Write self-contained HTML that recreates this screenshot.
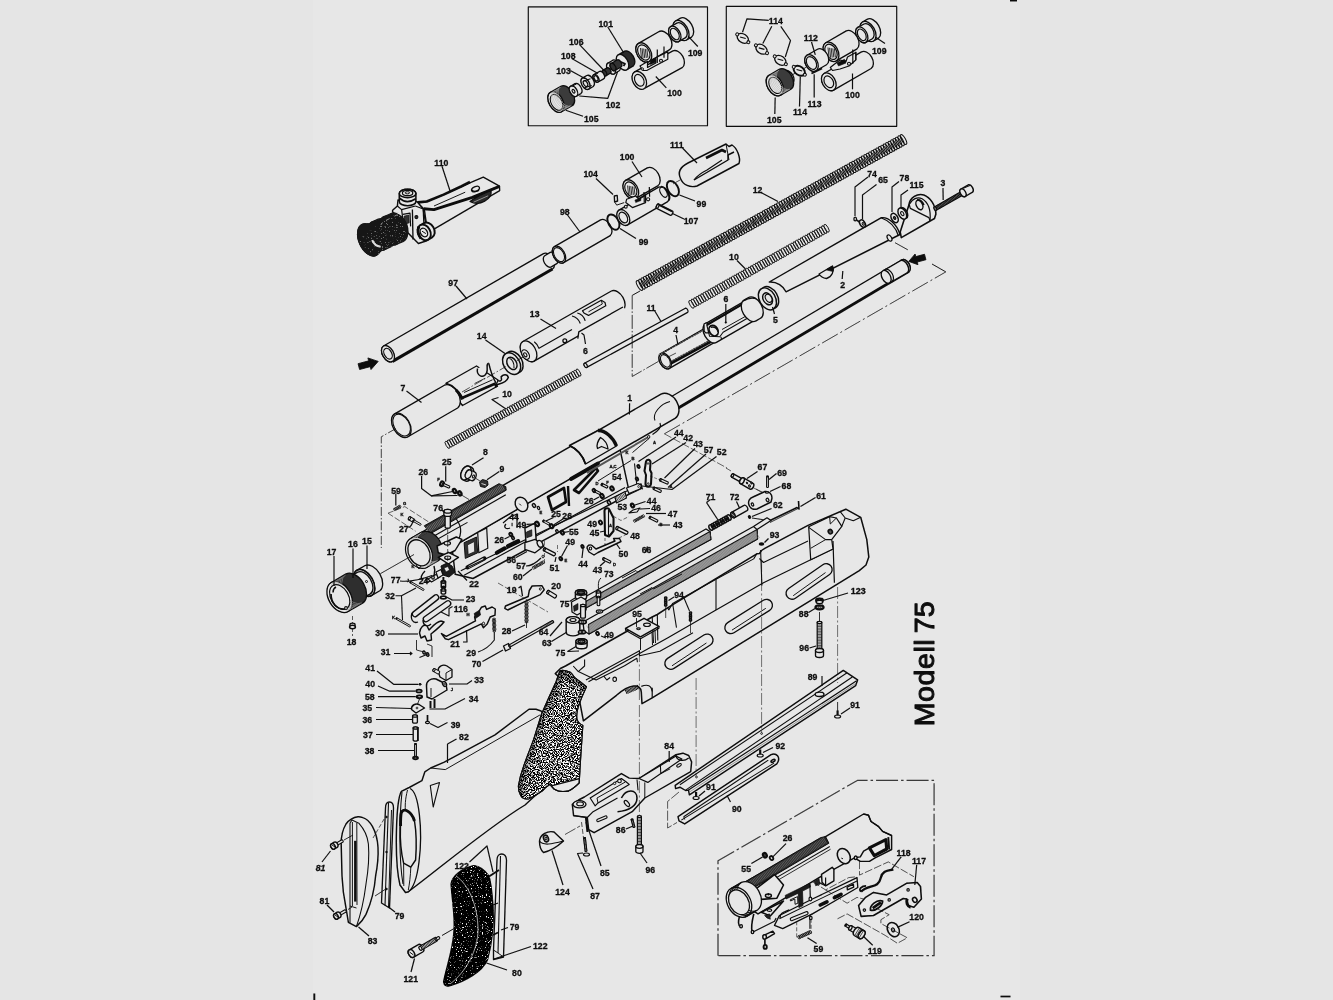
<!DOCTYPE html>
<html><head><meta charset="utf-8"><title>Modell 75</title>
<style>
html,body{margin:0;padding:0;background:#e5e5e5;}
body{width:1333px;height:1000px;overflow:hidden;position:relative;}
svg{position:absolute;left:0;top:0;display:block;}
text{font-family:"Liberation Sans",sans-serif;fill:#0c0c0c;stroke:#0c0c0c;stroke-width:0.3px;}
path,ellipse,circle,rect{stroke-linejoin:round;}
</style></head><body>
<svg width="1333" height="1000" viewBox="0 0 1333 1000">
<defs>
<filter id="stip" x="0" y="0" width="100%" height="100%" color-interpolation-filters="sRGB"><feTurbulence type="fractalNoise" baseFrequency="0.85" numOctaves="2" seed="7"/><feColorMatrix type="matrix" values="6 0 0 0 -2.58  6 0 0 0 -2.58  6 0 0 0 -2.58  0 0 0 0 1"/><feComposite in2="SourceGraphic" operator="in"/></filter>
<filter id="stipd" x="0" y="0" width="100%" height="100%" color-interpolation-filters="sRGB"><feTurbulence type="fractalNoise" baseFrequency="0.8" numOctaves="2" seed="3"/><feColorMatrix type="matrix" values="7 0 0 0 -4.35  7 0 0 0 -4.35  7 0 0 0 -4.35  0 0 0 0 1"/><feComposite in2="SourceGraphic" operator="in"/></filter>
<filter id="stipm" x="0" y="0" width="100%" height="100%" color-interpolation-filters="sRGB"><feTurbulence type="fractalNoise" baseFrequency="0.8" numOctaves="2" seed="11"/><feColorMatrix type="matrix" values="0 0 0 0 0.8  0 0 0 0 0.8  0 0 0 0 0.8  9 0 0 0 -5.6"/><feComposite in2="SourceGraphic" operator="in"/></filter>
<filter id="blur2" x="-50%" y="-50%" width="200%" height="200%"><feGaussianBlur stdDeviation="2"/></filter>
<filter id="soft"><feGaussianBlur stdDeviation="0.3"/></filter>
</defs>
<rect x="0" y="0" width="1333" height="1000" fill="#e5e5e5"/>
<rect x="313" y="0" width="707" height="1000" fill="#e7e7e7"/>
<g filter="url(#soft)">
<rect x="528.3" y="6.8" width="179.2" height="118.9" fill="none" stroke="#0c0c0c" stroke-width="1.15"/>
<rect x="726.3" y="6.3" width="170.4" height="120" fill="none" stroke="#0c0c0c" stroke-width="1.15"/>
<path d="M675.5 21L680.5 18.1A6.8 11 -30.1 0 1 691.5 37.1L686.5 40A6.8 11 -30.1 0 1 675.5 21Z" fill="#e7e7e7" stroke="#0c0c0c" stroke-width="1.32"/>
<ellipse cx="681" cy="30.5" rx="6.8" ry="11" transform="rotate(-30.1 681 30.5)" fill="#e7e7e7" stroke="#0c0c0c" stroke-width="1.32"/>
<path d="M670.6 26.6L676.8 23.1A5.3 8.5 -29.4 0 1 685.2 37.9L679 41.4A5.3 8.5 -29.4 0 1 670.6 26.6Z" fill="#e7e7e7" stroke="#0c0c0c" stroke-width="1.32"/>
<ellipse cx="674.8" cy="34" rx="5.3" ry="8.5" transform="rotate(-29.4 674.8 34)" fill="#e7e7e7" stroke="#0c0c0c" stroke-width="1.32"/>
<ellipse cx="674.8" cy="34" rx="3.8" ry="6.2" transform="rotate(-29.4 674.8 34)" fill="#e7e7e7" stroke="#0c0c0c" stroke-width="1.19"/>
<path d="M677 25.4L677 25.6M679.2 24.2L679.3 24.3M681.5 22.9L681.5 23.1" fill="none" stroke="#0c0c0c" stroke-width="0.96"/>
<path d="M638.5 43.4L658.7 31.7A6.9 10.5 -30.1 0 1 669.3 49.9L649.1 61.6A6.9 10.5 -30.1 0 1 638.5 43.4Z" fill="#e7e7e7" stroke="#0c0c0c" stroke-width="1.32"/>
<ellipse cx="643.8" cy="52.5" rx="6.9" ry="10.5" transform="rotate(-30.1 643.8 52.5)" fill="#e7e7e7" stroke="#0c0c0c" stroke-width="1.32"/>
<ellipse cx="643.8" cy="52.5" rx="5.4" ry="8.2" transform="rotate(-30.1 643.8 52.5)" fill="#e7e7e7" stroke="#0c0c0c" stroke-width="1.19"/>
<path d="M640.5 48 L641.5 58.5" fill="none" stroke="#0c0c0c" stroke-width="0.84"/>
<path d="M642.1 48.3 L643.1 58.3" fill="none" stroke="#0c0c0c" stroke-width="0.84"/>
<path d="M643.7 48.6 L644.7 58.1" fill="none" stroke="#0c0c0c" stroke-width="0.84"/>
<path d="M645.3 48.9 L646.3 57.9" fill="none" stroke="#0c0c0c" stroke-width="0.84"/>
<path d="M646.9 49.2 L647.9 57.7" fill="none" stroke="#0c0c0c" stroke-width="0.84"/>
<path d="M634.7 71.9L672.9 50.9A6.5 9.6 -28.8 0 1 682.1 67.7L643.9 88.7A6.5 9.6 -28.8 0 1 634.7 71.9Z" fill="#e7e7e7" stroke="#0c0c0c" stroke-width="1.32"/>
<ellipse cx="639.3" cy="80.3" rx="6.5" ry="9.6" transform="rotate(-28.8 639.3 80.3)" fill="#e7e7e7" stroke="#0c0c0c" stroke-width="1.32"/>
<ellipse cx="639.3" cy="80.3" rx="4.3" ry="6.3" transform="rotate(-28.8 639.3 80.3)" fill="#e7e7e7" stroke="#0c0c0c" stroke-width="1.19"/>
<path d="M640 66 L647.5 61.5 L647.5 67.5 L655.8 63 L655.8 57.8 L667.8 51.8 L667.8 59.3 L655 66 L646.8 70.5 L643 70.5Z" fill="#e7e7e7" stroke="#0c0c0c" stroke-width="1.2"/>
<path d="M657.3 49.5 L657.3 63" fill="none" stroke="#0c0c0c" stroke-width="1.2"/>
<path d="M664 46.5 L664 57.8" fill="none" stroke="#0c0c0c" stroke-width="1.2"/>
<path d="M650.5 60 L655.8 57.8 L655.8 62.3 L650.5 64.5Z" fill="#0c0c0c" stroke="#0c0c0c" stroke-width="0.6"/>
<circle cx="661" cy="60.8" r="1.5" fill="#e7e7e7" stroke="#0c0c0c" stroke-width="1.08"/>
<circle cx="642.3" cy="69" r="1.2" fill="#e7e7e7" stroke="#0c0c0c" stroke-width="0.96"/>
<path d="M618.2 54.9L624.7 51.1A5.3 8.6 -30.3 0 1 633.3 65.9L626.8 69.7A5.3 8.6 -30.3 0 1 618.2 54.9Z" fill="#2a2a2a" stroke="#0c0c0c" stroke-width="1.32"/>
<ellipse cx="622.5" cy="62.3" rx="5.3" ry="8.6" transform="rotate(-30.3 622.5 62.3)" fill="#e7e7e7" stroke="#0c0c0c" stroke-width="1.32"/>
<path d="M619.8 61.5 L625 63.8 L623.5 66" fill="none" stroke="#0c0c0c" stroke-width="1.8"/>
<path d="M607.8 63.2L612.8 60.2A3.7 6.2 -31 0 1 619.2 70.8L614.2 73.8A3.7 6.2 -31 0 1 607.8 63.2Z" fill="#e7e7e7" stroke="#0c0c0c" stroke-width="1.32"/>
<ellipse cx="611" cy="68.5" rx="3.7" ry="6.2" transform="rotate(-31 611 68.5)" fill="#e7e7e7" stroke="#0c0c0c" stroke-width="1.32"/>
<path d="M611 63.5L617 60A2.4 4 -30.3 0 1 621 67L615 70.5A2.4 4 -30.3 0 1 611 63.5Z" fill="#333" stroke="#0c0c0c" stroke-width="1.32"/>
<ellipse cx="613" cy="67" rx="2.4" ry="4" transform="rotate(-30.3 613 67)" fill="#333" stroke="#0c0c0c" stroke-width="1.32"/>
<path d="M602.9 70.3L607.4 67.6A1.9 3.2 -31 0 1 610.6 73L606.1 75.7A1.9 3.2 -31 0 1 602.9 70.3Z" fill="#333" stroke="#0c0c0c" stroke-width="1.32"/>
<ellipse cx="604.5" cy="73" rx="1.9" ry="3.2" transform="rotate(-31 604.5 73)" fill="#333" stroke="#0c0c0c" stroke-width="1.32"/>
<path d="M593.9 74.6L599.4 71.5A2.5 4.2 -29.4 0 1 603.6 78.9L598.1 82A2.5 4.2 -29.4 0 1 593.9 74.6Z" fill="#e7e7e7" stroke="#0c0c0c" stroke-width="1.32"/>
<ellipse cx="596" cy="78.3" rx="2.5" ry="4.2" transform="rotate(-29.4 596 78.3)" fill="#e7e7e7" stroke="#0c0c0c" stroke-width="1.32"/>
<ellipse cx="596" cy="78.3" rx="1.7" ry="2.8" transform="rotate(-29.4 596 78.3)" fill="#e7e7e7" stroke="#0c0c0c" stroke-width="1.19"/>
<path d="M582.3 78.1L586.8 75.5A3.8 6.4 -30 0 1 593.2 86.5L588.7 89.1A3.8 6.4 -30 0 1 582.3 78.1Z" fill="#e7e7e7" stroke="#0c0c0c" stroke-width="1.32"/>
<ellipse cx="585.5" cy="83.6" rx="3.8" ry="6.4" transform="rotate(-30 585.5 83.6)" fill="#e7e7e7" stroke="#0c0c0c" stroke-width="1.32"/>
<ellipse cx="585.5" cy="83.6" rx="1.9" ry="3.2" transform="rotate(-30 585.5 83.6)" fill="#e7e7e7" stroke="#0c0c0c" stroke-width="1.19"/>
<path d="M583.8 81 L590.5 78.8" fill="none" stroke="#0c0c0c" stroke-width="1.08"/>
<path d="M584.5 87.8 L591.7 85.5" fill="none" stroke="#0c0c0c" stroke-width="1.08"/>
<path d="M563.3 90.4L566.8 88.4A3.9 6.5 -29.7 0 1 573.2 99.6L569.7 101.6A3.9 6.5 -29.7 0 1 563.3 90.4Z" fill="#e7e7e7" stroke="#0c0c0c" stroke-width="1.32"/>
<path d="M550.4 92.3L560.9 86.3A6.9 11.2 -29.7 0 1 572.1 105.7L561.6 111.7A6.9 11.2 -29.7 0 1 550.4 92.3Z" fill="#3a3a3a" stroke="#0c0c0c" stroke-width="1.32"/>
<ellipse cx="556" cy="102" rx="6.9" ry="11.2" transform="rotate(-29.7 556 102)" fill="#e7e7e7" stroke="#0c0c0c" stroke-width="1.32"/>
<ellipse cx="556.5" cy="102.3" rx="5.3" ry="8.6" transform="rotate(-30 556.5 102.3)" fill="#e7e7e7" stroke="#0c0c0c" stroke-width="1.08"/>
<path d="M553.8 90.8A6.7 10.8 -29.7 0 0 564.5 109.6M555.2 90A6.7 10.8 -29.7 0 0 565.9 108.8M556.5 89.3A6.7 10.8 -29.7 0 0 567.2 108M557.9 88.5A6.7 10.8 -29.7 0 0 568.6 107.2M559.3 87.7A6.7 10.8 -29.7 0 0 570 106.5M560.6 86.9A6.7 10.8 -29.7 0 0 571.3 105.7" fill="none" stroke="#bbb" stroke-width="0.6"/>
<path d="M570.6 86.2L575.1 83.6A3.5 5.8 -30 0 1 580.9 93.6L576.4 96.2A3.5 5.8 -30 0 1 570.6 86.2Z" fill="#e7e7e7" stroke="#0c0c0c" stroke-width="1.32"/>
<ellipse cx="573.5" cy="91.2" rx="3.5" ry="5.8" transform="rotate(-30 573.5 91.2)" fill="#e7e7e7" stroke="#0c0c0c" stroke-width="1.32"/>
<ellipse cx="573.5" cy="91.2" rx="1.2" ry="2" transform="rotate(-30 573.5 91.2)" fill="#e7e7e7" stroke="#0c0c0c" stroke-width="1.19"/>
<path d="M571.5 86.5 L576.5 84" fill="none" stroke="#0c0c0c" stroke-width="0.96"/>
<path d="M697.8 46.5 L688.8 36.8" fill="none" stroke="#0c0c0c" stroke-width="1.2"/>
<path d="M666.3 87.8 L655.8 76.5" fill="none" stroke="#0c0c0c" stroke-width="1.2"/>
<path d="M607.8 27 L623.5 52.5" fill="none" stroke="#0c0c0c" stroke-width="1.2"/>
<path d="M579.3 44.3 L604 70.5" fill="none" stroke="#0c0c0c" stroke-width="1.2"/>
<path d="M571.8 58.5 L598 73.5" fill="none" stroke="#0c0c0c" stroke-width="1.2"/>
<path d="M570.3 70.5 L585.3 78.8" fill="none" stroke="#0c0c0c" stroke-width="1.2"/>
<path d="M579.3 96 L607.8 98.3 L617.5 72" fill="none" stroke="#0c0c0c" stroke-width="1.2"/>
<path d="M583 116.3 L565.8 110.3" fill="none" stroke="#0c0c0c" stroke-width="1.2"/>
<text transform="translate(605.8 27.1) scale(0.93 1)" font-size="9.4" font-weight="bold" text-anchor="middle">101</text>
<text transform="translate(576.3 44.7) scale(0.93 1)" font-size="9.4" font-weight="bold" text-anchor="middle">106</text>
<text transform="translate(568.3 58.6) scale(0.93 1)" font-size="9.4" font-weight="bold" text-anchor="middle">108</text>
<text transform="translate(563.5 73.9) scale(0.93 1)" font-size="9.4" font-weight="bold" text-anchor="middle">103</text>
<text transform="translate(613 108.4) scale(0.93 1)" font-size="9.4" font-weight="bold" text-anchor="middle">102</text>
<text transform="translate(591.3 121.6) scale(0.93 1)" font-size="9.4" font-weight="bold" text-anchor="middle">105</text>
<text transform="translate(674.5 96.1) scale(0.93 1)" font-size="9.4" font-weight="bold" text-anchor="middle">100</text>
<text transform="translate(695.2 56.2) scale(0.93 1)" font-size="9.4" font-weight="bold" text-anchor="middle">109</text>
<path d="M862.5 22L867.5 19.1A6.8 11 -30.1 0 1 878.5 38.1L873.5 41A6.8 11 -30.1 0 1 862.5 22Z" fill="#e7e7e7" stroke="#0c0c0c" stroke-width="1.32"/>
<ellipse cx="868" cy="31.5" rx="6.8" ry="11" transform="rotate(-30.1 868 31.5)" fill="#e7e7e7" stroke="#0c0c0c" stroke-width="1.32"/>
<path d="M857.8 27.3L864 24A5.3 8.5 -28 0 1 872 39L865.8 42.3A5.3 8.5 -28 0 1 857.8 27.3Z" fill="#e7e7e7" stroke="#0c0c0c" stroke-width="1.32"/>
<ellipse cx="861.8" cy="34.8" rx="5.3" ry="8.5" transform="rotate(-28 861.8 34.8)" fill="#e7e7e7" stroke="#0c0c0c" stroke-width="1.32"/>
<ellipse cx="861.8" cy="34.8" rx="3.8" ry="6.2" transform="rotate(-28 861.8 34.8)" fill="#e7e7e7" stroke="#0c0c0c" stroke-width="1.19"/>
<path d="M825.8 42.7L846.3 30.9A6.9 10.5 -29.9 0 1 856.7 49.1L836.2 60.9A6.9 10.5 -29.9 0 1 825.8 42.7Z" fill="#e7e7e7" stroke="#0c0c0c" stroke-width="1.32"/>
<ellipse cx="831" cy="51.8" rx="6.9" ry="10.5" transform="rotate(-29.9 831 51.8)" fill="#e7e7e7" stroke="#0c0c0c" stroke-width="1.32"/>
<ellipse cx="831" cy="51.8" rx="5.4" ry="8.2" transform="rotate(-29.9 831 51.8)" fill="#e7e7e7" stroke="#0c0c0c" stroke-width="1.19"/>
<path d="M828 47.5 L829 58" fill="none" stroke="#0c0c0c" stroke-width="0.84"/>
<path d="M829.6 47.8 L830.6 57.8" fill="none" stroke="#0c0c0c" stroke-width="0.84"/>
<path d="M831.2 48.1 L832.2 57.6" fill="none" stroke="#0c0c0c" stroke-width="0.84"/>
<path d="M832.8 48.4 L833.8 57.4" fill="none" stroke="#0c0c0c" stroke-width="0.84"/>
<path d="M834.4 48.7 L835.4 57.2" fill="none" stroke="#0c0c0c" stroke-width="0.84"/>
<path d="M824 73.5L861.5 51.9A6.5 9.6 -29.9 0 1 871.1 68.5L833.6 90.1A6.5 9.6 -29.9 0 1 824 73.5Z" fill="#e7e7e7" stroke="#0c0c0c" stroke-width="1.32"/>
<ellipse cx="828.8" cy="81.8" rx="6.5" ry="9.6" transform="rotate(-29.9 828.8 81.8)" fill="#e7e7e7" stroke="#0c0c0c" stroke-width="1.32"/>
<ellipse cx="828.8" cy="81.8" rx="4.3" ry="6.3" transform="rotate(-29.9 828.8 81.8)" fill="#e7e7e7" stroke="#0c0c0c" stroke-width="1.19"/>
<path d="M834 64.5 L840 60 L846 61.5 L847.5 57 L855.8 52.5 L855.8 60 L849 66 L840 69 L832.5 70.5 L830.3 67.5Z" fill="#e7e7e7" stroke="#0c0c0c" stroke-width="1.2"/>
<path d="M852.8 49.5 L852.8 63.8" fill="none" stroke="#0c0c0c" stroke-width="1.2"/>
<path d="M855.8 51.8 L855.8 60" fill="none" stroke="#0c0c0c" stroke-width="1.2"/>
<path d="M837 63 L844.5 59.3 L846 63 L838.5 66Z" fill="#0c0c0c" stroke="#0c0c0c" stroke-width="0.6"/>
<circle cx="849" cy="63.8" r="1.5" fill="#e7e7e7" stroke="#0c0c0c" stroke-width="1.08"/>
<path d="M807 55.2L817.5 49.2A5.9 9 -29.7 0 1 826.5 64.8L816 70.8A5.9 9 -29.7 0 1 807 55.2Z" fill="#e7e7e7" stroke="#0c0c0c" stroke-width="1.32"/>
<ellipse cx="811.5" cy="63" rx="5.9" ry="9" transform="rotate(-29.7 811.5 63)" fill="#e7e7e7" stroke="#0c0c0c" stroke-width="1.32"/>
<ellipse cx="811.5" cy="63" rx="4.5" ry="6.8" transform="rotate(-29.7 811.5 63)" fill="#e7e7e7" stroke="#0c0c0c" stroke-width="1.19"/>
<path d="M811.5 73.5 L822 68.3" fill="none" stroke="#0c0c0c" stroke-width="1.92"/>
<g transform="translate(742.8 38.3) rotate(35)"><ellipse rx="6.2" ry="4.3" fill="#e7e7e7" stroke="#0c0c0c" stroke-width="1.3"/><circle cx="-6.8" cy="0" r="1.5" fill="#e7e7e7" stroke="#0c0c0c" stroke-width="1"/><circle cx="6.8" cy="0" r="1.5" fill="#e7e7e7" stroke="#0c0c0c" stroke-width="1"/><path d="M-3 0.5 L2.5 -1.5" stroke="#0c0c0c" stroke-width="1.2" fill="none"/></g>
<g transform="translate(761.5 49.2) rotate(35)"><ellipse rx="6.2" ry="4.3" fill="#e7e7e7" stroke="#0c0c0c" stroke-width="1.3"/><circle cx="-6.8" cy="0" r="1.5" fill="#e7e7e7" stroke="#0c0c0c" stroke-width="1"/><circle cx="6.8" cy="0" r="1.5" fill="#e7e7e7" stroke="#0c0c0c" stroke-width="1"/><path d="M-3 0.5 L2.5 -1.5" stroke="#0c0c0c" stroke-width="1.2" fill="none"/></g>
<g transform="translate(780.3 60.3) rotate(35)"><ellipse rx="6.2" ry="4.3" fill="#e7e7e7" stroke="#0c0c0c" stroke-width="1.3"/><circle cx="-6.8" cy="0" r="1.5" fill="#e7e7e7" stroke="#0c0c0c" stroke-width="1"/><circle cx="6.8" cy="0" r="1.5" fill="#e7e7e7" stroke="#0c0c0c" stroke-width="1"/><path d="M-3 0.5 L2.5 -1.5" stroke="#0c0c0c" stroke-width="1.2" fill="none"/></g>
<g transform="translate(799.3 70.8) rotate(35)"><ellipse rx="6.2" ry="4.3" fill="#e7e7e7" stroke="#0c0c0c" stroke-width="1.9"/><circle cx="-6.8" cy="0" r="1.5" fill="#e7e7e7" stroke="#0c0c0c" stroke-width="1"/><circle cx="6.8" cy="0" r="1.5" fill="#e7e7e7" stroke="#0c0c0c" stroke-width="1"/><path d="M-3 0.5 L2.5 -1.5" stroke="#0c0c0c" stroke-width="1.2" fill="none"/></g>
<path d="M781.5 73.2L785.5 70.9A4.2 7 -29.9 0 1 792.5 83.1L788.5 85.4A4.2 7 -29.9 0 1 781.5 73.2Z" fill="#e7e7e7" stroke="#0c0c0c" stroke-width="1.32"/>
<path d="M769 75.2L779.2 69.3A7.4 11.5 -30 0 1 790.8 89.3L780.6 95.2A7.4 11.5 -30 0 1 769 75.2Z" fill="#3a3a3a" stroke="#0c0c0c" stroke-width="1.32"/>
<ellipse cx="774.8" cy="85.2" rx="7.4" ry="11.5" transform="rotate(-30 774.8 85.2)" fill="#e7e7e7" stroke="#0c0c0c" stroke-width="1.32"/>
<ellipse cx="775.3" cy="85.4" rx="5.6" ry="8.8" transform="rotate(-30 775.3 85.4)" fill="#e7e7e7" stroke="#0c0c0c" stroke-width="1.08"/>
<path d="M772.3 73.8A7.1 11.1 -30 0 0 783.4 93M773.6 73.1A7.1 11.1 -30 0 0 784.7 92.3M775 72.3A7.1 11.1 -30 0 0 786.1 91.5M776.3 71.5A7.1 11.1 -30 0 0 787.4 90.7M777.6 70.8A7.1 11.1 -30 0 0 788.7 90M778.9 70A7.1 11.1 -30 0 0 790 89.2" fill="none" stroke="#bbb" stroke-width="0.6"/>
<path d="M791 75.5 L796 72.8" fill="none" stroke="#0c0c0c" stroke-width="0.84"/>
<path d="M803.5 68.8 L806.5 67" fill="none" stroke="#0c0c0c" stroke-width="0.84"/>
<path d="M768.8 20.3 L747 18.8 L742.5 32.3" fill="none" stroke="#0c0c0c" stroke-width="1.2"/>
<path d="M771.8 26.3 L762.8 43.5" fill="none" stroke="#0c0c0c" stroke-width="1.2"/>
<path d="M780.8 26.3 L790.5 40.5 L785.3 57" fill="none" stroke="#0c0c0c" stroke-width="1.2"/>
<path d="M811.5 42 L815.3 54.8" fill="none" stroke="#0c0c0c" stroke-width="1.2"/>
<path d="M885 43.5 L876 37.5" fill="none" stroke="#0c0c0c" stroke-width="1.2"/>
<path d="M852.5 89.3 L852.5 73.5" fill="none" stroke="#0c0c0c" stroke-width="1.2"/>
<path d="M814.2 97.5 L814.2 74.3" fill="none" stroke="#0c0c0c" stroke-width="1.2"/>
<path d="M799.5 106.5 L800.3 76.5" fill="none" stroke="#0c0c0c" stroke-width="1.2"/>
<path d="M774.8 114 L775.2 97.5" fill="none" stroke="#0c0c0c" stroke-width="1.2"/>
<text transform="translate(775.8 24.4) scale(0.93 1)" font-size="9.4" font-weight="bold" text-anchor="middle">114</text>
<text transform="translate(810.8 40.9) scale(0.93 1)" font-size="9.4" font-weight="bold" text-anchor="middle">112</text>
<text transform="translate(879.3 54.1) scale(0.93 1)" font-size="9.4" font-weight="bold" text-anchor="middle">109</text>
<text transform="translate(852.5 97.6) scale(0.93 1)" font-size="9.4" font-weight="bold" text-anchor="middle">100</text>
<text transform="translate(814.5 106.6) scale(0.93 1)" font-size="9.4" font-weight="bold" text-anchor="middle">113</text>
<text transform="translate(800 115.2) scale(0.93 1)" font-size="9.4" font-weight="bold" text-anchor="middle">114</text>
<text transform="translate(774.3 122.7) scale(0.93 1)" font-size="9.4" font-weight="bold" text-anchor="middle">105</text>
<path d="M541 711 L536 709.3 L529 709.2 L495 734.9 L444.3 762.2 L430.7 768 L424.8 771.9 L421.9 780.7 L409.2 787.5 L401.4 791.4 C396 800 394 860 400 885 L405.5 892.5 L408 892 C440 868 490 826 525 805 L552 780 L560 730 Z" fill="#e7e7e7" stroke="#0c0c0c" stroke-width="1.44"/>
<path d="M539.9 715 L445.3 769.6 L430.7 768" fill="none" stroke="#0c0c0c" stroke-width="0.96"/>
<path d="M410 788.5 C419 792 423 830 419 862 C417 878 414 888 408 892" fill="none" stroke="#0c0c0c" stroke-width="1.32"/>
<path d="M402 792 C399 820 399 860 403 884" fill="none" stroke="#0c0c0c" stroke-width="1.08"/>
<path d="M407.5 790 C405 800 405 806 405.5 812" fill="none" stroke="#0c0c0c" stroke-width="0.96"/>
<path d="M401.2 813 C402 810.5 404 809.5 406.5 810.5 C410 812 413 816 414.5 821 C416.5 833 416.5 848 415.6 860 L410.8 867.2 L403.6 863.2 C401 852 400 838 400.4 828 Z" fill="#e7e7e7" stroke="#0c0c0c" stroke-width="1.44"/>
<path d="M400.6 826 C400.5 820 400.8 815 401.2 813 C402 810.5 404 809.5 406.5 810.5 C410 812 413 816 414.5 821" fill="none" stroke="#0c0c0c" stroke-width="2.88"/>
<path d="M403.6 863.2 L403.8 886 M410.8 867.2 C410.5 876 409.5 884 408.3 890" fill="none" stroke="#0c0c0c" stroke-width="0.96"/>
<path d="M430.3 785.6 L439.5 782.6 L433.2 807Z" fill="#e7e7e7" stroke="#0c0c0c" stroke-width="1.08"/>
<path d="M845.8 509.2 L860.7 517.3 L866.8 539.6 L868.8 557.1 L866 565 L859.3 570.6 L652.2 697.9 L642 703.7 L641.3 692 C640.7 682.9 629.4 684.2 616.5 695.3 L583.4 720.8 L578.3 694.1 L555.3 673.6 L560.4 668.5 L565.5 666 L652.2 617 L657.3 614.5 L667.5 607.8 L756.8 553.8 L759.5 553.5 L761.5 550.5 L764.8 548.3 L808 525.4Z" fill="#e7e7e7" stroke="#0c0c0c" stroke-width="1.5"/>
<path d="M625.3 690L627.1 694M626.5 689.5L628.3 693.5M627.7 689L629.5 693M628.9 688.5L630.7 692.5M630.1 687.9L631.9 692M631.3 687.4L633.1 691.5M632.5 686.9L634.3 691M633.7 686.4L635.5 690.5M634.9 685.9L636.7 690M636.1 685.4L637.9 689.4M637.3 684.9L639.1 688.9" fill="none" stroke="#0c0c0c" stroke-width="0.96"/>
<path d="M641.3 692 L652.2 697.9" fill="none" stroke="#0c0c0c" stroke-width="0"/>
<path d="M652.2 687.7 L652.2 697.9" fill="none" stroke="#0c0c0c" stroke-width="1.2"/>
<path d="M641.3 686.4 Q651 682.6 652.2 691.5" fill="none" stroke="#0c0c0c" stroke-width="1.2"/>
<path d="M833 549 L810.7 559.8 L763.5 582.8 L716 609.9 L667.5 637.9 L588.5 681.8" fill="none" stroke="#0c0c0c" stroke-width="1.2"/>
<path d="M833 540.9 L833.7 562.5 L834.4 582.8" fill="none" stroke="#0c0c0c" stroke-width="1.2"/>
<path d="M808.7 526.7 L829.6 516.6 L836.4 518 L841.8 526.3 L831.7 539.6 L833 549 L810.7 559.8Z" fill="#e7e7e7" stroke="#0c0c0c" stroke-width="1.2"/>
<path d="M808.7 527.4 L825.6 539.6 L831.7 539.6" fill="none" stroke="#0c0c0c" stroke-width="1.08"/>
<path d="M825.6 539.6 L810.7 548.3" fill="none" stroke="#0c0c0c" stroke-width="0.96"/>
<path d="M829.6 516.6 L830.3 524 L836.4 518" fill="none" stroke="#0c0c0c" stroke-width="0.96"/>
<path d="M836.4 518 L845.8 509.2" fill="none" stroke="#0c0c0c" stroke-width="0"/>
<path d="M840.4 511.9 L845.2 518 L853.3 520.7 L860.7 517.3" fill="none" stroke="#0c0c0c" stroke-width="1.08"/>
<path d="M845.2 518 L841.8 526.3" fill="none" stroke="#0c0c0c" stroke-width="1.08"/>
<ellipse cx="830.3" cy="531.7" rx="2" ry="2.3" transform="rotate(-30 830.3 531.7)" fill="#555" stroke="#0c0c0c" stroke-width="1.56"/>
<path d="M808 540.9 L763.5 562.5 L759.4 558.5" fill="none" stroke="#0c0c0c" stroke-width="1.08"/>
<path d="M763.5 562.5 L763.5 582.8" fill="none" stroke="#0c0c0c" stroke-width="0"/>
<path d="M808.7 526.7 L808 540.9" fill="none" stroke="#0c0c0c" stroke-width="0"/>
<path d="M760.6 549.9 L761.9 585.6" fill="none" stroke="#0c0c0c" stroke-width="1.08"/>
<path d="M756.8 553.8 L753.7 558.9 L716 579.3 L716 609.9" fill="none" stroke="#0c0c0c" stroke-width="1.08"/>
<path d="M716 579.3 L672.6 603.5 L668.8 609.9 L667.5 607.8" fill="none" stroke="#0c0c0c" stroke-width="1.08"/>
<path d="M672.6 603.5 L676.5 627.7" fill="none" stroke="#0c0c0c" stroke-width="1.08"/>
<path d="M652.2 617 L653.5 643" fill="none" stroke="#0c0c0c" stroke-width="1.08"/>
<path d="M657.3 614.5 L657.8 640.5" fill="none" stroke="#0c0c0c" stroke-width="1.08"/>
<path d="M693 632.8 L659.9 651.2 L639.5 655.8 L639.5 650.7 L585.9 680" fill="none" stroke="#0c0c0c" stroke-width="1.08"/>
<path d="M573.2 666 L578.3 671.6 L596.1 680 L624.2 666" fill="none" stroke="#0c0c0c" stroke-width="1.08"/>
<path d="M578.3 671.6 L584.6 666 L584.6 659.6" fill="none" stroke="#0c0c0c" stroke-width="1.08"/>
<path d="M603.8 676.2 L606.8 680 L610.1 677.5" fill="none" stroke="#0c0c0c" stroke-width="1.08"/>
<ellipse cx="614.7" cy="679.3" rx="1.8" ry="2.2" transform="rotate(0 614.7 679.3)" fill="#e7e7e7" stroke="#0c0c0c" stroke-width="1.08"/>
<path d="M624.2 666 L636.9 658.3 L637.4 662.2" fill="none" stroke="#0c0c0c" stroke-width="1.08"/>
<path d="M792 593.3L826.2 569.6" fill="none" stroke="#0c0c0c" stroke-width="13.2" stroke-linecap="round"/>
<path d="M792 593.3L826.2 569.6" fill="none" stroke="#e7e7e7" stroke-width="10.56" stroke-linecap="round"/>
<path d="M793.5 595.5L825.2 572.8" fill="none" stroke="#0c0c0c" stroke-width="0.96" stroke-linecap="round"/>
<path d="M730.8 627.7L766.5 605.3" fill="none" stroke="#0c0c0c" stroke-width="13.2" stroke-linecap="round"/>
<path d="M730.8 627.7L766.5 605.3" fill="none" stroke="#e7e7e7" stroke-width="10.56" stroke-linecap="round"/>
<path d="M732.3 629.9L765.5 608.5" fill="none" stroke="#0c0c0c" stroke-width="0.96" stroke-linecap="round"/>
<path d="M670.8 663.4L707.1 640" fill="none" stroke="#0c0c0c" stroke-width="13.2" stroke-linecap="round"/>
<path d="M670.8 663.4L707.1 640" fill="none" stroke="#e7e7e7" stroke-width="10.56" stroke-linecap="round"/>
<path d="M672.3 665.6L706.1 643.2" fill="none" stroke="#0c0c0c" stroke-width="0.96" stroke-linecap="round"/>
<path d="M836.4 586.4 L865.2 562.7" fill="none" stroke="#0c0c0c" stroke-width="0"/>
<path d="M560 670.8 C563 669.5 567 671 570.4 672.4 C572.5 674 573.5 676.5 575.2 678 C579 681 583 684 586.4 686.8 C583.5 693 580.5 700 578.4 706 C577 711 576.2 715 576.8 718.8 C577.5 722 580 724 582.8 725.5 C581.5 745 580 765 579.2 782.8 C576 786 572.5 789 568.8 790.8 C563.5 792 558 791.5 554.4 789.2 C552.5 787.5 551 785.5 549.6 784.4 C547 786 544.5 788.5 542.4 790.8 C538 794 533 797 528.8 798.8 C525 799.5 522 798 520.8 795.6 C519 792.5 518.2 789.5 518.4 786 C519.5 779 521.5 772 524 765.2 C527 756.5 530.5 748 533.6 739.6 L541.6 714 L548 699.6 L556 682Z" fill="#777" stroke="#0c0c0c" stroke-width="1.2"/>
<clipPath id="gripclip"><path d="M560 670.8 C563 669.5 567 671 570.4 672.4 C572.5 674 573.5 676.5 575.2 678 C579 681 583 684 586.4 686.8 C583.5 693 580.5 700 578.4 706 C577 711 576.2 715 576.8 718.8 C577.5 722 580 724 582.8 725.5 C581.5 745 580 765 579.2 782.8 C576 786 572.5 789 568.8 790.8 C563.5 792 558 791.5 554.4 789.2 C552.5 787.5 551 785.5 549.6 784.4 C547 786 544.5 788.5 542.4 790.8 C538 794 533 797 528.8 798.8 C525 799.5 522 798 520.8 795.6 C519 792.5 518.2 789.5 518.4 786 C519.5 779 521.5 772 524 765.2 C527 756.5 530.5 748 533.6 739.6 L541.6 714 L548 699.6 L556 682Z"/></clipPath>
<g clip-path="url(#gripclip)"><rect x="515" y="665" width="75" height="138" fill="#000" filter="url(#stip)"/><path d="M560 670.8 L556 682 L548 699.6 L541.6 714 L533.6 739.6 L524 765.2 L518.4 786 L521 797" fill="none" stroke="#000" stroke-opacity="0.4" stroke-width="9" filter="url(#blur2)"/><path d="M561 672 L586 688" fill="none" stroke="#000" stroke-opacity="0.35" stroke-width="7" filter="url(#blur2)"/></g>
<path d="M551.3 785.8 L579.4 778.6 L579.2 782.8 C576 786 572.5 789 568.8 790.8 C563.5 792 558 791.5 554.4 789.2 C553 788 552 786.8 551.3 785.8Z" fill="#e7e7e7" stroke="#0c0c0c" stroke-width="1.2"/>
<path d="M560 670.8 C563 669.5 567 671 570.4 672.4 C572.5 674 573.5 676.5 575.2 678 C579 681 583 684 586.4 686.8 C583.5 693 580.5 700 578.4 706 C577 711 576.2 715 576.8 718.8 C577.5 722 580 724 582.8 725.5 C581.5 745 580 765 579.2 782.8 C576 786 572.5 789 568.8 790.8 C563.5 792 558 791.5 554.4 789.2 C552.5 787.5 551 785.5 549.6 784.4 C547 786 544.5 788.5 542.4 790.8 C538 794 533 797 528.8 798.8 C525 799.5 522 798 520.8 795.6 C519 792.5 518.2 789.5 518.4 786 C519.5 779 521.5 772 524 765.2 C527 756.5 530.5 748 533.6 739.6 L541.6 714 L548 699.6 L556 682Z" fill="none" stroke="#0c0c0c" stroke-width="1.2"/>
<path d="M447.5 744 L456.5 739" fill="none" stroke="#0c0c0c" stroke-width="1.2"/>
<path d="M447.5 744 L447.5 763" fill="none" stroke="#0c0c0c" stroke-width="1.2"/>
<text transform="translate(463.9 740.3) scale(0.93 1)" font-size="9.4" font-weight="bold" text-anchor="middle">82</text>
<path d="M499.5 186.2 L499.7 190.6 L434 229.1 L426.8 226.4 L424.4 209.6Z" fill="#e7e7e7" stroke="#0c0c0c" stroke-width="1.32"/>
<path d="M417.2 202.7 L426.8 201.5 L443.6 194.6 L460.4 186.8 L483.3 177.2 L499.5 186.2 L472.4 197.4 L434 209.6 L423.8 208.7Z" fill="#e7e7e7" stroke="#0c0c0c" stroke-width="1.32"/>
<path d="M423.8 208.7 L434 209.6 L472.4 197.4 L499.5 186.4" fill="none" stroke="#0c0c0c" stroke-width="2.88"/>
<path d="M417.8 202.4 L426.8 201.5 L443.6 194.6 L461.6 186.2 L470 182" fill="none" stroke="#0c0c0c" stroke-width="2.64"/>
<path d="M434 206 L465.2 192.2" fill="none" stroke="#0c0c0c" stroke-width="0.96"/>
<ellipse cx="475.5" cy="189" rx="2.3" ry="4.2" transform="rotate(65 475.5 189)" fill="#e7e7e7" stroke="#0c0c0c" stroke-width="1.32"/>
<path d="M471.8 189.8 Q474.2 192.8 479.1 190.4" fill="none" stroke="#0c0c0c" stroke-width="1.2"/>
<path d="M470 201.5 C476.1 197 484.5 192.8 491.1 190.6 C492.3 198.8 479.7 207.2 470 201.5Z" fill="#2a2a2a" stroke="#0c0c0c" stroke-width="1.2"/>
<path d="M473.6 202.2 L488.1 195.8" fill="none" stroke="#bbb" stroke-width="0.72"/>
<path d="M392.6 210.2 L397.4 206 L398 200 L417.2 201.8 L423.2 209 L425.6 222.8 L432.8 227.6 L432.8 234.8 L426.8 240.8 L418.4 243.5 L407.6 232.4 L406.4 224 L401.6 219.2 L392.6 212Z" fill="#e7e7e7" stroke="#0c0c0c" stroke-width="1.44"/>
<path d="M397.4 206 L401.6 209.6 L415.4 206" fill="none" stroke="#0c0c0c" stroke-width="1.2"/>
<path d="M401.6 209.6 L402.8 219.2" fill="none" stroke="#0c0c0c" stroke-width="1.2"/>
<path d="M412.4 209.6 L413 239.6" fill="none" stroke="#0c0c0c" stroke-width="1.32"/>
<path d="M415.4 206 L423.2 209" fill="none" stroke="#0c0c0c" stroke-width="1.08"/>
<path d="M402.8 214.4 L410 213.2 L410.6 226.4" fill="none" stroke="#0c0c0c" stroke-width="1.2"/>
<path d="M404 216.2 L408.8 215 L409.2 222.8 L404.6 224.3Z" fill="#333" stroke="#0c0c0c" stroke-width="0.72"/>
<circle cx="416.4" cy="217.1" r="1.5" fill="#333" stroke="#0c0c0c" stroke-width="1.08"/>
<path d="M423.2 209.6 L423.8 222.8" fill="none" stroke="#0c0c0c" stroke-width="1.2"/>
<path d="M415.9 193.4L415.9 201.5A4.2 8.3 90 0 1 399.3 201.5L399.3 193.4A4.2 8.3 90 0 1 415.9 193.4Z" fill="#e7e7e7" stroke="#0c0c0c" stroke-width="1.56"/>
<ellipse cx="407.6" cy="193.4" rx="4.2" ry="8.3" transform="rotate(90 407.6 193.4)" fill="#e7e7e7" stroke="#0c0c0c" stroke-width="1.56"/>
<ellipse cx="407.6" cy="193" rx="2.6" ry="5.2" transform="rotate(90 407.6 193)" fill="#e7e7e7" stroke="#0c0c0c" stroke-width="1.2"/>
<ellipse cx="407.4" cy="192.8" rx="1.1" ry="2.2" transform="rotate(90 407.4 192.8)" fill="#e7e7e7" stroke="#0c0c0c" stroke-width="0.96"/>
<path d="M399.5 198.2 Q406.4 204.8 415.8 198.8" fill="none" stroke="#0c0c0c" stroke-width="1.68"/>
<path d="M420.2 225.3L424 223.1A6.1 8.2 -29.4 0 1 432.1 237.4L428.2 239.6A6.1 8.2 -29.4 0 1 420.2 225.3Z" fill="#e7e7e7" stroke="#0c0c0c" stroke-width="1.92"/>
<ellipse cx="424.2" cy="232.4" rx="6.1" ry="8.2" transform="rotate(-29.4 424.2 232.4)" fill="#e7e7e7" stroke="#0c0c0c" stroke-width="1.92"/>
<ellipse cx="423.9" cy="232.5" rx="3.4" ry="4.6" transform="rotate(-30 423.9 232.5)" fill="#e7e7e7" stroke="#0c0c0c" stroke-width="1.32"/>
<path d="M422 231.2 L425.9 233.6" fill="none" stroke="#0c0c0c" stroke-width="0.96"/>
<path d="M419 226.4 Q416.6 232.4 420.8 238.4" fill="none" stroke="#0c0c0c" stroke-width="2.64"/>
<path d="M392.1 215.9L394.6 214.8A7.6 12.6 -24 0 1 404.8 237.8L402.4 238.9A7.6 12.6 -24 0 1 392.1 215.9Z" fill="#141414" stroke="#141414" stroke-width="1.32"/>
<ellipse cx="397.3" cy="227.4" rx="7.6" ry="12.6" transform="rotate(-24 397.3 227.4)" fill="#141414" stroke="#141414" stroke-width="1.32"/>
<path d="M383.8 216.8L391.1 213.5A9.1 15.2 -24 0 1 403.4 241.3L396.1 244.5A9.1 15.2 -24 0 1 383.8 216.8Z" fill="#141414" stroke="#141414" stroke-width="1.32"/>
<ellipse cx="389.9" cy="230.6" rx="9.1" ry="15.2" transform="rotate(-24 389.9 230.6)" fill="#141414" stroke="#141414" stroke-width="1.32"/>
<path d="M379.1 221L384.6 218.6A7.9 13.2 -24 0 1 395.3 242.7L389.8 245.1A7.9 13.2 -24 0 1 379.1 221Z" fill="#141414" stroke="#141414" stroke-width="1.32"/>
<ellipse cx="384.5" cy="233.1" rx="7.9" ry="13.2" transform="rotate(-24 384.5 233.1)" fill="#141414" stroke="#141414" stroke-width="1.32"/>
<path d="M372.2 221.9L378.3 219.2A9.1 15.2 -24 0 1 390.6 247L384.5 249.7A9.1 15.2 -24 0 1 372.2 221.9Z" fill="#141414" stroke="#141414" stroke-width="1.32"/>
<ellipse cx="378.4" cy="235.8" rx="9.1" ry="15.2" transform="rotate(-24 378.4 235.8)" fill="#141414" stroke="#141414" stroke-width="1.32"/>
<path d="M362.3 224.3L372.8 223.4A8.2 13.6 -24 0 1 383.9 248.2L376.1 255.4A10.2 17 -24 0 1 362.3 224.3Z" fill="#141414" stroke="#141414" stroke-width="1.32"/>
<ellipse cx="369.2" cy="239.9" rx="10.2" ry="17" transform="rotate(-24 369.2 239.9)" fill="#141414" stroke="#141414" stroke-width="1.32"/>
<path d="M372.2 240.2 Q374.6 246.2 380.6 246.8" fill="none" stroke="#ddd" stroke-width="2.16"/>
<path d="M386 220.4 L389.6 218.6" fill="none" stroke="#aaa" stroke-width="0.84"/>
<path d="M394.4 216.2 L397.4 214.7" fill="none" stroke="#aaa" stroke-width="0.84"/>
<path d="M380.6 224.6 L382.4 223.7" fill="none" stroke="#aaa" stroke-width="0.84"/>
<g opacity="0.5"><path d="M357.2 239.6 L398 210.8 L407.6 237.2 L374 257.6Z" fill="#000" filter="url(#stipm)"/></g>
<path d="M442 166.3 L450.3 191.8" fill="none" stroke="#0c0c0c" stroke-width="1.2"/>
<text transform="translate(441.3 165.9) scale(0.93 1)" font-size="9.4" font-weight="bold" text-anchor="middle">110</text>
<path d="M636.8 280.7A2 5.5 -28.9 1 1 642.2 290.3A2 5.5 -28.9 1 1 636.8 280.7M639.3 279.3A2 5.5 -28.9 1 1 644.6 289A2 5.5 -28.9 1 1 639.3 279.3M641.7 278A2 5.5 -28.9 1 1 647 287.6A2 5.5 -28.9 1 1 641.7 278M644.1 276.7A2 5.5 -28.9 1 1 649.4 286.3A2 5.5 -28.9 1 1 644.1 276.7M646.5 275.3A2 5.5 -28.9 1 1 651.8 285A2 5.5 -28.9 1 1 646.5 275.3M648.9 274A2 5.5 -28.9 1 1 654.3 283.6A2 5.5 -28.9 1 1 648.9 274M651.4 272.7A2 5.5 -28.9 1 1 656.7 282.3A2 5.5 -28.9 1 1 651.4 272.7M653.8 271.3A2 5.5 -28.9 1 1 659.1 280.9A2 5.5 -28.9 1 1 653.8 271.3M656.2 270A2 5.5 -28.9 1 1 661.5 279.6A2 5.5 -28.9 1 1 656.2 270M658.6 268.6A2 5.5 -28.9 1 1 664 278.3A2 5.5 -28.9 1 1 658.6 268.6M661.1 267.3A2 5.5 -28.9 1 1 666.4 276.9A2 5.5 -28.9 1 1 661.1 267.3M663.5 266A2 5.5 -28.9 1 1 668.8 275.6A2 5.5 -28.9 1 1 663.5 266M665.9 264.6A2 5.5 -28.9 1 1 671.2 274.2A2 5.5 -28.9 1 1 665.9 264.6M668.3 263.3A2 5.5 -28.9 1 1 673.6 272.9A2 5.5 -28.9 1 1 668.3 263.3M670.7 261.9A2 5.5 -28.9 1 1 676.1 271.6A2 5.5 -28.9 1 1 670.7 261.9M673.2 260.6A2 5.5 -28.9 1 1 678.5 270.2A2 5.5 -28.9 1 1 673.2 260.6M675.6 259.3A2 5.5 -28.9 1 1 680.9 268.9A2 5.5 -28.9 1 1 675.6 259.3M678 257.9A2 5.5 -28.9 1 1 683.3 267.5A2 5.5 -28.9 1 1 678 257.9M680.4 256.6A2 5.5 -28.9 1 1 685.8 266.2A2 5.5 -28.9 1 1 680.4 256.6M682.9 255.2A2 5.5 -28.9 1 1 688.2 264.9A2 5.5 -28.9 1 1 682.9 255.2M685.3 253.9A2 5.5 -28.9 1 1 690.6 263.5A2 5.5 -28.9 1 1 685.3 253.9M687.7 252.6A2 5.5 -28.9 1 1 693 262.2A2 5.5 -28.9 1 1 687.7 252.6M690.1 251.2A2 5.5 -28.9 1 1 695.4 260.8A2 5.5 -28.9 1 1 690.1 251.2M692.5 249.9A2 5.5 -28.9 1 1 697.9 259.5A2 5.5 -28.9 1 1 692.5 249.9M695 248.5A2 5.5 -28.9 1 1 700.3 258.2A2 5.5 -28.9 1 1 695 248.5M697.4 247.2A2 5.5 -28.9 1 1 702.7 256.8A2 5.5 -28.9 1 1 697.4 247.2M699.8 245.9A2 5.5 -28.9 1 1 705.1 255.5A2 5.5 -28.9 1 1 699.8 245.9M702.2 244.5A2 5.5 -28.9 1 1 707.6 254.1A2 5.5 -28.9 1 1 702.2 244.5M704.7 243.2A2 5.5 -28.9 1 1 710 252.8A2 5.5 -28.9 1 1 704.7 243.2M707.1 241.8A2 5.5 -28.9 1 1 712.4 251.5A2 5.5 -28.9 1 1 707.1 241.8M709.5 240.5A2 5.5 -28.9 1 1 714.8 250.1A2 5.5 -28.9 1 1 709.5 240.5M711.9 239.2A2 5.5 -28.9 1 1 717.2 248.8A2 5.5 -28.9 1 1 711.9 239.2M714.3 237.8A2 5.5 -28.9 1 1 719.7 247.5A2 5.5 -28.9 1 1 714.3 237.8M716.8 236.5A2 5.5 -28.9 1 1 722.1 246.1A2 5.5 -28.9 1 1 716.8 236.5M719.2 235.1A2 5.5 -28.9 1 1 724.5 244.8A2 5.5 -28.9 1 1 719.2 235.1M721.6 233.8A2 5.5 -28.9 1 1 726.9 243.4A2 5.5 -28.9 1 1 721.6 233.8M724 232.5A2 5.5 -28.9 1 1 729.4 242.1A2 5.5 -28.9 1 1 724 232.5M726.5 231.1A2 5.5 -28.9 1 1 731.8 240.8A2 5.5 -28.9 1 1 726.5 231.1M728.9 229.8A2 5.5 -28.9 1 1 734.2 239.4A2 5.5 -28.9 1 1 728.9 229.8M731.3 228.4A2 5.5 -28.9 1 1 736.6 238.1A2 5.5 -28.9 1 1 731.3 228.4M733.7 227.1A2 5.5 -28.9 1 1 739 236.7A2 5.5 -28.9 1 1 733.7 227.1M736.1 225.8A2 5.5 -28.9 1 1 741.5 235.4A2 5.5 -28.9 1 1 736.1 225.8M738.6 224.4A2 5.5 -28.9 1 1 743.9 234.1A2 5.5 -28.9 1 1 738.6 224.4M741 223.1A2 5.5 -28.9 1 1 746.3 232.7A2 5.5 -28.9 1 1 741 223.1M743.4 221.8A2 5.5 -28.9 1 1 748.7 231.4A2 5.5 -28.9 1 1 743.4 221.8M745.8 220.4A2 5.5 -28.9 1 1 751.2 230A2 5.5 -28.9 1 1 745.8 220.4M748.3 219.1A2 5.5 -28.9 1 1 753.6 228.7A2 5.5 -28.9 1 1 748.3 219.1M750.7 217.7A2 5.5 -28.9 1 1 756 227.4A2 5.5 -28.9 1 1 750.7 217.7M753.1 216.4A2 5.5 -28.9 1 1 758.4 226A2 5.5 -28.9 1 1 753.1 216.4M755.5 215.1A2 5.5 -28.9 1 1 760.8 224.7A2 5.5 -28.9 1 1 755.5 215.1M757.9 213.7A2 5.5 -28.9 1 1 763.3 223.3A2 5.5 -28.9 1 1 757.9 213.7M760.4 212.4A2 5.5 -28.9 1 1 765.7 222A2 5.5 -28.9 1 1 760.4 212.4M762.8 211A2 5.5 -28.9 1 1 768.1 220.7A2 5.5 -28.9 1 1 762.8 211M765.2 209.7A2 5.5 -28.9 1 1 770.5 219.3A2 5.5 -28.9 1 1 765.2 209.7M767.6 208.4A2 5.5 -28.9 1 1 773 218A2 5.5 -28.9 1 1 767.6 208.4M770 207A2 5.5 -28.9 1 1 775.4 216.6A2 5.5 -28.9 1 1 770 207M772.5 205.7A2 5.5 -28.9 1 1 777.8 215.3A2 5.5 -28.9 1 1 772.5 205.7M774.9 204.3A2 5.5 -28.9 1 1 780.2 214A2 5.5 -28.9 1 1 774.9 204.3M777.3 203A2 5.5 -28.9 1 1 782.6 212.6A2 5.5 -28.9 1 1 777.3 203M779.7 201.7A2 5.5 -28.9 1 1 785.1 211.3A2 5.5 -28.9 1 1 779.7 201.7M782.2 200.3A2 5.5 -28.9 1 1 787.5 209.9A2 5.5 -28.9 1 1 782.2 200.3M784.6 199A2 5.5 -28.9 1 1 789.9 208.6A2 5.5 -28.9 1 1 784.6 199M787 197.6A2 5.5 -28.9 1 1 792.3 207.3A2 5.5 -28.9 1 1 787 197.6M789.4 196.3A2 5.5 -28.9 1 1 794.7 205.9A2 5.5 -28.9 1 1 789.4 196.3M791.8 195A2 5.5 -28.9 1 1 797.2 204.6A2 5.5 -28.9 1 1 791.8 195M794.3 193.6A2 5.5 -28.9 1 1 799.6 203.2A2 5.5 -28.9 1 1 794.3 193.6M796.7 192.3A2 5.5 -28.9 1 1 802 201.9A2 5.5 -28.9 1 1 796.7 192.3M799.1 190.9A2 5.5 -28.9 1 1 804.4 200.6A2 5.5 -28.9 1 1 799.1 190.9M801.5 189.6A2 5.5 -28.9 1 1 806.9 199.2A2 5.5 -28.9 1 1 801.5 189.6M804 188.3A2 5.5 -28.9 1 1 809.3 197.9A2 5.5 -28.9 1 1 804 188.3M806.4 186.9A2 5.5 -28.9 1 1 811.7 196.6A2 5.5 -28.9 1 1 806.4 186.9M808.8 185.6A2 5.5 -28.9 1 1 814.1 195.2A2 5.5 -28.9 1 1 808.8 185.6M811.2 184.2A2 5.5 -28.9 1 1 816.5 193.9A2 5.5 -28.9 1 1 811.2 184.2M813.6 182.9A2 5.5 -28.9 1 1 819 192.5A2 5.5 -28.9 1 1 813.6 182.9M816.1 181.6A2 5.5 -28.9 1 1 821.4 191.2A2 5.5 -28.9 1 1 816.1 181.6M818.5 180.2A2 5.5 -28.9 1 1 823.8 189.9A2 5.5 -28.9 1 1 818.5 180.2M820.9 178.9A2 5.5 -28.9 1 1 826.2 188.5A2 5.5 -28.9 1 1 820.9 178.9M823.3 177.5A2 5.5 -28.9 1 1 828.7 187.2A2 5.5 -28.9 1 1 823.3 177.5M825.8 176.2A2 5.5 -28.9 1 1 831.1 185.8A2 5.5 -28.9 1 1 825.8 176.2M828.2 174.9A2 5.5 -28.9 1 1 833.5 184.5A2 5.5 -28.9 1 1 828.2 174.9M830.6 173.5A2 5.5 -28.9 1 1 835.9 183.2A2 5.5 -28.9 1 1 830.6 173.5M833 172.2A2 5.5 -28.9 1 1 838.3 181.8A2 5.5 -28.9 1 1 833 172.2M835.4 170.9A2 5.5 -28.9 1 1 840.8 180.5A2 5.5 -28.9 1 1 835.4 170.9M837.9 169.5A2 5.5 -28.9 1 1 843.2 179.1A2 5.5 -28.9 1 1 837.9 169.5M840.3 168.2A2 5.5 -28.9 1 1 845.6 177.8A2 5.5 -28.9 1 1 840.3 168.2M842.7 166.8A2 5.5 -28.9 1 1 848 176.5A2 5.5 -28.9 1 1 842.7 166.8M845.1 165.5A2 5.5 -28.9 1 1 850.5 175.1A2 5.5 -28.9 1 1 845.1 165.5M847.6 164.2A2 5.5 -28.9 1 1 852.9 173.8A2 5.5 -28.9 1 1 847.6 164.2M850 162.8A2 5.5 -28.9 1 1 855.3 172.4A2 5.5 -28.9 1 1 850 162.8M852.4 161.5A2 5.5 -28.9 1 1 857.7 171.1A2 5.5 -28.9 1 1 852.4 161.5M854.8 160.1A2 5.5 -28.9 1 1 860.1 169.8A2 5.5 -28.9 1 1 854.8 160.1M857.2 158.8A2 5.5 -28.9 1 1 862.6 168.4A2 5.5 -28.9 1 1 857.2 158.8M859.7 157.5A2 5.5 -28.9 1 1 865 167.1A2 5.5 -28.9 1 1 859.7 157.5M862.1 156.1A2 5.5 -28.9 1 1 867.4 165.7A2 5.5 -28.9 1 1 862.1 156.1M864.5 154.8A2 5.5 -28.9 1 1 869.8 164.4A2 5.5 -28.9 1 1 864.5 154.8M866.9 153.4A2 5.5 -28.9 1 1 872.3 163.1A2 5.5 -28.9 1 1 866.9 153.4M869.4 152.1A2 5.5 -28.9 1 1 874.7 161.7A2 5.5 -28.9 1 1 869.4 152.1M871.8 150.8A2 5.5 -28.9 1 1 877.1 160.4A2 5.5 -28.9 1 1 871.8 150.8M874.2 149.4A2 5.5 -28.9 1 1 879.5 159A2 5.5 -28.9 1 1 874.2 149.4M876.6 148.1A2 5.5 -28.9 1 1 881.9 157.7A2 5.5 -28.9 1 1 876.6 148.1M879 146.7A2 5.5 -28.9 1 1 884.4 156.4A2 5.5 -28.9 1 1 879 146.7M881.5 145.4A2 5.5 -28.9 1 1 886.8 155A2 5.5 -28.9 1 1 881.5 145.4M883.9 144.1A2 5.5 -28.9 1 1 889.2 153.7A2 5.5 -28.9 1 1 883.9 144.1M886.3 142.7A2 5.5 -28.9 1 1 891.6 152.3A2 5.5 -28.9 1 1 886.3 142.7M888.7 141.4A2 5.5 -28.9 1 1 894.1 151A2 5.5 -28.9 1 1 888.7 141.4M891.2 140A2 5.5 -28.9 1 1 896.5 149.7A2 5.5 -28.9 1 1 891.2 140M893.6 138.7A2 5.5 -28.9 1 1 898.9 148.3A2 5.5 -28.9 1 1 893.6 138.7M896 137.4A2 5.5 -28.9 1 1 901.3 147A2 5.5 -28.9 1 1 896 137.4M898.4 136A2 5.5 -28.9 1 1 903.7 145.7A2 5.5 -28.9 1 1 898.4 136M900.8 134.7A2 5.5 -28.9 1 1 906.2 144.3A2 5.5 -28.9 1 1 900.8 134.7" fill="none" stroke="#0c0c0c" stroke-width="1.02"/>
<path d="M760.5 192.2 L778 201.5" fill="none" stroke="#0c0c0c" stroke-width="1.2"/>
<text transform="translate(757.6 193.2) scale(0.93 1)" font-size="9.4" font-weight="bold" text-anchor="middle">12</text>
<path d="M689.3 300.5A1.6 4.4 -29.4 1 1 693.7 308.1A1.6 4.4 -29.4 1 1 689.3 300.5M691.7 299.1A1.6 4.4 -29.4 1 1 696 306.8A1.6 4.4 -29.4 1 1 691.7 299.1M694.1 297.8A1.6 4.4 -29.4 1 1 698.4 305.5A1.6 4.4 -29.4 1 1 694.1 297.8M696.4 296.5A1.6 4.4 -29.4 1 1 700.8 304.1A1.6 4.4 -29.4 1 1 696.4 296.5M698.8 295.1A1.6 4.4 -29.4 1 1 703.1 302.8A1.6 4.4 -29.4 1 1 698.8 295.1M701.2 293.8A1.6 4.4 -29.4 1 1 705.5 301.5A1.6 4.4 -29.4 1 1 701.2 293.8M703.6 292.5A1.6 4.4 -29.4 1 1 707.9 300.1A1.6 4.4 -29.4 1 1 703.6 292.5M705.9 291.1A1.6 4.4 -29.4 1 1 710.2 298.8A1.6 4.4 -29.4 1 1 705.9 291.1M708.3 289.8A1.6 4.4 -29.4 1 1 712.6 297.5A1.6 4.4 -29.4 1 1 708.3 289.8M710.7 288.5A1.6 4.4 -29.4 1 1 715 296.1A1.6 4.4 -29.4 1 1 710.7 288.5M713 287.1A1.6 4.4 -29.4 1 1 717.3 294.8A1.6 4.4 -29.4 1 1 713 287.1M715.4 285.8A1.6 4.4 -29.4 1 1 719.7 293.5A1.6 4.4 -29.4 1 1 715.4 285.8M717.8 284.5A1.6 4.4 -29.4 1 1 722.1 292.1A1.6 4.4 -29.4 1 1 717.8 284.5M720.1 283.1A1.6 4.4 -29.4 1 1 724.4 290.8A1.6 4.4 -29.4 1 1 720.1 283.1M722.5 281.8A1.6 4.4 -29.4 1 1 726.8 289.5A1.6 4.4 -29.4 1 1 722.5 281.8M724.9 280.5A1.6 4.4 -29.4 1 1 729.2 288.1A1.6 4.4 -29.4 1 1 724.9 280.5M727.2 279.1A1.6 4.4 -29.4 1 1 731.6 286.8A1.6 4.4 -29.4 1 1 727.2 279.1M729.6 277.8A1.6 4.4 -29.4 1 1 733.9 285.5A1.6 4.4 -29.4 1 1 729.6 277.8M732 276.5A1.6 4.4 -29.4 1 1 736.3 284.1A1.6 4.4 -29.4 1 1 732 276.5M734.3 275.1A1.6 4.4 -29.4 1 1 738.7 282.8A1.6 4.4 -29.4 1 1 734.3 275.1M736.7 273.8A1.6 4.4 -29.4 1 1 741 281.5A1.6 4.4 -29.4 1 1 736.7 273.8M739.1 272.5A1.6 4.4 -29.4 1 1 743.4 280.1A1.6 4.4 -29.4 1 1 739.1 272.5M741.4 271.1A1.6 4.4 -29.4 1 1 745.8 278.8A1.6 4.4 -29.4 1 1 741.4 271.1M743.8 269.8A1.6 4.4 -29.4 1 1 748.1 277.5A1.6 4.4 -29.4 1 1 743.8 269.8M746.2 268.5A1.6 4.4 -29.4 1 1 750.5 276.1A1.6 4.4 -29.4 1 1 746.2 268.5M748.6 267.1A1.6 4.4 -29.4 1 1 752.9 274.8A1.6 4.4 -29.4 1 1 748.6 267.1M750.9 265.8A1.6 4.4 -29.4 1 1 755.2 273.5A1.6 4.4 -29.4 1 1 750.9 265.8M753.3 264.5A1.6 4.4 -29.4 1 1 757.6 272.1A1.6 4.4 -29.4 1 1 753.3 264.5M755.7 263.1A1.6 4.4 -29.4 1 1 760 270.8A1.6 4.4 -29.4 1 1 755.7 263.1M758 261.8A1.6 4.4 -29.4 1 1 762.3 269.5A1.6 4.4 -29.4 1 1 758 261.8M760.4 260.5A1.6 4.4 -29.4 1 1 764.7 268.1A1.6 4.4 -29.4 1 1 760.4 260.5M762.8 259.1A1.6 4.4 -29.4 1 1 767.1 266.8A1.6 4.4 -29.4 1 1 762.8 259.1M765.1 257.8A1.6 4.4 -29.4 1 1 769.4 265.5A1.6 4.4 -29.4 1 1 765.1 257.8M767.5 256.5A1.6 4.4 -29.4 1 1 771.8 264.1A1.6 4.4 -29.4 1 1 767.5 256.5M769.9 255.1A1.6 4.4 -29.4 1 1 774.2 262.8A1.6 4.4 -29.4 1 1 769.9 255.1M772.2 253.8A1.6 4.4 -29.4 1 1 776.6 261.5A1.6 4.4 -29.4 1 1 772.2 253.8M774.6 252.5A1.6 4.4 -29.4 1 1 778.9 260.1A1.6 4.4 -29.4 1 1 774.6 252.5M777 251.1A1.6 4.4 -29.4 1 1 781.3 258.8A1.6 4.4 -29.4 1 1 777 251.1M779.3 249.8A1.6 4.4 -29.4 1 1 783.7 257.5A1.6 4.4 -29.4 1 1 779.3 249.8M781.7 248.5A1.6 4.4 -29.4 1 1 786 256.1A1.6 4.4 -29.4 1 1 781.7 248.5M784.1 247.1A1.6 4.4 -29.4 1 1 788.4 254.8A1.6 4.4 -29.4 1 1 784.1 247.1M786.4 245.8A1.6 4.4 -29.4 1 1 790.8 253.5A1.6 4.4 -29.4 1 1 786.4 245.8M788.8 244.5A1.6 4.4 -29.4 1 1 793.1 252.1A1.6 4.4 -29.4 1 1 788.8 244.5M791.2 243.1A1.6 4.4 -29.4 1 1 795.5 250.8A1.6 4.4 -29.4 1 1 791.2 243.1M793.6 241.8A1.6 4.4 -29.4 1 1 797.9 249.5A1.6 4.4 -29.4 1 1 793.6 241.8M795.9 240.5A1.6 4.4 -29.4 1 1 800.2 248.1A1.6 4.4 -29.4 1 1 795.9 240.5M798.3 239.1A1.6 4.4 -29.4 1 1 802.6 246.8A1.6 4.4 -29.4 1 1 798.3 239.1M800.7 237.8A1.6 4.4 -29.4 1 1 805 245.5A1.6 4.4 -29.4 1 1 800.7 237.8M803 236.5A1.6 4.4 -29.4 1 1 807.3 244.1A1.6 4.4 -29.4 1 1 803 236.5M805.4 235.1A1.6 4.4 -29.4 1 1 809.7 242.8A1.6 4.4 -29.4 1 1 805.4 235.1M807.8 233.8A1.6 4.4 -29.4 1 1 812.1 241.5A1.6 4.4 -29.4 1 1 807.8 233.8M810.1 232.5A1.6 4.4 -29.4 1 1 814.4 240.1A1.6 4.4 -29.4 1 1 810.1 232.5M812.5 231.1A1.6 4.4 -29.4 1 1 816.8 238.8A1.6 4.4 -29.4 1 1 812.5 231.1M814.9 229.8A1.6 4.4 -29.4 1 1 819.2 237.5A1.6 4.4 -29.4 1 1 814.9 229.8M817.2 228.5A1.6 4.4 -29.4 1 1 821.6 236.1A1.6 4.4 -29.4 1 1 817.2 228.5M819.6 227.1A1.6 4.4 -29.4 1 1 823.9 234.8A1.6 4.4 -29.4 1 1 819.6 227.1M822 225.8A1.6 4.4 -29.4 1 1 826.3 233.5A1.6 4.4 -29.4 1 1 822 225.8M824.3 224.5A1.6 4.4 -29.4 1 1 828.7 232.1A1.6 4.4 -29.4 1 1 824.3 224.5" fill="none" stroke="#0c0c0c" stroke-width="0.96"/>
<path d="M737 260.5 L745.5 269" fill="none" stroke="#0c0c0c" stroke-width="1.2"/>
<text transform="translate(733.9 260.2) scale(0.93 1)" font-size="9.4" font-weight="bold" text-anchor="middle">10</text>
<path d="M445.6 441.3A1.4 4 -28.9 1 1 449.4 448.3A1.4 4 -28.9 1 1 445.6 441.3M447.9 440A1.4 4 -28.9 1 1 451.7 447A1.4 4 -28.9 1 1 447.9 440M450.2 438.8A1.4 4 -28.9 1 1 454 445.8A1.4 4 -28.9 1 1 450.2 438.8M452.5 437.5A1.4 4 -28.9 1 1 456.3 444.5A1.4 4 -28.9 1 1 452.5 437.5M454.8 436.2A1.4 4 -28.9 1 1 458.6 443.2A1.4 4 -28.9 1 1 454.8 436.2M457.1 435A1.4 4 -28.9 1 1 460.9 442A1.4 4 -28.9 1 1 457.1 435M459.4 433.7A1.4 4 -28.9 1 1 463.2 440.7A1.4 4 -28.9 1 1 459.4 433.7M461.7 432.4A1.4 4 -28.9 1 1 465.5 439.4A1.4 4 -28.9 1 1 461.7 432.4M464 431.2A1.4 4 -28.9 1 1 467.8 438.2A1.4 4 -28.9 1 1 464 431.2M466.3 429.9A1.4 4 -28.9 1 1 470.1 436.9A1.4 4 -28.9 1 1 466.3 429.9M468.6 428.6A1.4 4 -28.9 1 1 472.4 435.6A1.4 4 -28.9 1 1 468.6 428.6M470.8 427.4A1.4 4 -28.9 1 1 474.7 434.4A1.4 4 -28.9 1 1 470.8 427.4M473.1 426.1A1.4 4 -28.9 1 1 477 433.1A1.4 4 -28.9 1 1 473.1 426.1M475.4 424.8A1.4 4 -28.9 1 1 479.3 431.8A1.4 4 -28.9 1 1 475.4 424.8M477.7 423.6A1.4 4 -28.9 1 1 481.6 430.6A1.4 4 -28.9 1 1 477.7 423.6M480 422.3A1.4 4 -28.9 1 1 483.9 429.3A1.4 4 -28.9 1 1 480 422.3M482.3 421A1.4 4 -28.9 1 1 486.2 428A1.4 4 -28.9 1 1 482.3 421M484.6 419.8A1.4 4 -28.9 1 1 488.5 426.8A1.4 4 -28.9 1 1 484.6 419.8M486.9 418.5A1.4 4 -28.9 1 1 490.8 425.5A1.4 4 -28.9 1 1 486.9 418.5M489.2 417.2A1.4 4 -28.9 1 1 493.1 424.2A1.4 4 -28.9 1 1 489.2 417.2M491.5 416A1.4 4 -28.9 1 1 495.4 423A1.4 4 -28.9 1 1 491.5 416M493.8 414.7A1.4 4 -28.9 1 1 497.7 421.7A1.4 4 -28.9 1 1 493.8 414.7M496.1 413.4A1.4 4 -28.9 1 1 500 420.4A1.4 4 -28.9 1 1 496.1 413.4M498.4 412.2A1.4 4 -28.9 1 1 502.3 419.2A1.4 4 -28.9 1 1 498.4 412.2M500.7 410.9A1.4 4 -28.9 1 1 504.6 417.9A1.4 4 -28.9 1 1 500.7 410.9M503 409.6A1.4 4 -28.9 1 1 506.9 416.6A1.4 4 -28.9 1 1 503 409.6M505.3 408.4A1.4 4 -28.9 1 1 509.2 415.4A1.4 4 -28.9 1 1 505.3 408.4M507.6 407.1A1.4 4 -28.9 1 1 511.5 414.1A1.4 4 -28.9 1 1 507.6 407.1M509.9 405.8A1.4 4 -28.9 1 1 513.8 412.8A1.4 4 -28.9 1 1 509.9 405.8M512.2 404.6A1.4 4 -28.9 1 1 516.1 411.6A1.4 4 -28.9 1 1 512.2 404.6M514.5 403.3A1.4 4 -28.9 1 1 518.4 410.3A1.4 4 -28.9 1 1 514.5 403.3M516.8 402A1.4 4 -28.9 1 1 520.7 409A1.4 4 -28.9 1 1 516.8 402M519.1 400.8A1.4 4 -28.9 1 1 523 407.8A1.4 4 -28.9 1 1 519.1 400.8M521.4 399.5A1.4 4 -28.9 1 1 525.3 406.5A1.4 4 -28.9 1 1 521.4 399.5M523.7 398.2A1.4 4 -28.9 1 1 527.6 405.2A1.4 4 -28.9 1 1 523.7 398.2M526 397A1.4 4 -28.9 1 1 529.9 404A1.4 4 -28.9 1 1 526 397M528.3 395.7A1.4 4 -28.9 1 1 532.2 402.7A1.4 4 -28.9 1 1 528.3 395.7M530.6 394.4A1.4 4 -28.9 1 1 534.5 401.4A1.4 4 -28.9 1 1 530.6 394.4M532.9 393.2A1.4 4 -28.9 1 1 536.8 400.2A1.4 4 -28.9 1 1 532.9 393.2M535.2 391.9A1.4 4 -28.9 1 1 539.1 398.9A1.4 4 -28.9 1 1 535.2 391.9M537.5 390.6A1.4 4 -28.9 1 1 541.4 397.6A1.4 4 -28.9 1 1 537.5 390.6M539.8 389.4A1.4 4 -28.9 1 1 543.7 396.4A1.4 4 -28.9 1 1 539.8 389.4M542.1 388.1A1.4 4 -28.9 1 1 546 395.1A1.4 4 -28.9 1 1 542.1 388.1M544.4 386.8A1.4 4 -28.9 1 1 548.3 393.8A1.4 4 -28.9 1 1 544.4 386.8M546.7 385.6A1.4 4 -28.9 1 1 550.6 392.6A1.4 4 -28.9 1 1 546.7 385.6M549 384.3A1.4 4 -28.9 1 1 552.9 391.3A1.4 4 -28.9 1 1 549 384.3M551.3 383A1.4 4 -28.9 1 1 555.2 390A1.4 4 -28.9 1 1 551.3 383M553.6 381.8A1.4 4 -28.9 1 1 557.4 388.8A1.4 4 -28.9 1 1 553.6 381.8M555.9 380.5A1.4 4 -28.9 1 1 559.7 387.5A1.4 4 -28.9 1 1 555.9 380.5M558.2 379.2A1.4 4 -28.9 1 1 562 386.2A1.4 4 -28.9 1 1 558.2 379.2M560.5 378A1.4 4 -28.9 1 1 564.3 385A1.4 4 -28.9 1 1 560.5 378M562.8 376.7A1.4 4 -28.9 1 1 566.6 383.7A1.4 4 -28.9 1 1 562.8 376.7M565.1 375.4A1.4 4 -28.9 1 1 568.9 382.4A1.4 4 -28.9 1 1 565.1 375.4M567.4 374.2A1.4 4 -28.9 1 1 571.2 381.2A1.4 4 -28.9 1 1 567.4 374.2M569.7 372.9A1.4 4 -28.9 1 1 573.5 379.9A1.4 4 -28.9 1 1 569.7 372.9M572 371.6A1.4 4 -28.9 1 1 575.8 378.6A1.4 4 -28.9 1 1 572 371.6M574.3 370.4A1.4 4 -28.9 1 1 578.1 377.4A1.4 4 -28.9 1 1 574.3 370.4M576.6 369.1A1.4 4 -28.9 1 1 580.4 376.1A1.4 4 -28.9 1 1 576.6 369.1" fill="none" stroke="#0c0c0c" stroke-width="0.96"/>
<path d="M498.5 397.5 L492 399.5 L506 409" fill="none" stroke="#0c0c0c" stroke-width="1.2"/>
<text transform="translate(507 396.5) scale(0.93 1)" font-size="9.4" font-weight="bold" text-anchor="middle">10</text>
<path d="M584.5 363.2L685.4 308.2A1.4 2.4 -28.6 0 1 687.6 312.4L586.7 367.4A1.4 2.4 -28.6 0 1 584.5 363.2Z" fill="#e7e7e7" stroke="#0c0c0c" stroke-width="1.2"/>
<ellipse cx="585.6" cy="365.3" rx="1.4" ry="2.4" transform="rotate(-28.6 585.6 365.3)" fill="#e7e7e7" stroke="#0c0c0c" stroke-width="1.2"/>
<path d="M654.5 310.5 L661 321.5" fill="none" stroke="#0c0c0c" stroke-width="1.2"/>
<text transform="translate(651.1 310.5) scale(0.93 1)" font-size="9.4" font-weight="bold" text-anchor="middle">11</text>
<path d="M383.5 346L543.5 253.6A5.5 8.9 -30 0 1 552.5 269L392.5 361.4A5.5 8.9 -30 0 1 383.5 346Z" fill="#e7e7e7" stroke="#0c0c0c" stroke-width="1.32"/>
<path d="M552.5 269 L392.5 361.4" fill="none" stroke="#0c0c0c" stroke-width="3.12"/>
<ellipse cx="388" cy="353.7" rx="5.5" ry="8.9" transform="rotate(-30 388 353.7)" fill="#e7e7e7" stroke="#0c0c0c" stroke-width="1.32"/>
<ellipse cx="388" cy="353.7" rx="3.6" ry="5.8" transform="rotate(-30 388 353.7)" fill="#e7e7e7" stroke="#0c0c0c" stroke-width="1.19"/>
<path d="M544.7 255.7L550.2 252.4A3.9 6.5 -31 0 1 556.8 263.6L551.3 266.9A3.9 6.5 -31 0 1 544.7 255.7Z" fill="#e7e7e7" stroke="#0c0c0c" stroke-width="1.32"/>
<path d="M554.4 246.6L600.6 219.9A5.7 9.2 -30 0 1 609.8 235.9L563.6 262.6A5.7 9.2 -30 0 1 554.4 246.6Z" fill="#e7e7e7" stroke="#0c0c0c" stroke-width="1.32"/>
<ellipse cx="559" cy="254.6" rx="5.7" ry="9.2" transform="rotate(-30 559 254.6)" fill="#e7e7e7" stroke="#0c0c0c" stroke-width="1.32"/>
<ellipse cx="559" cy="254.6" rx="4.7" ry="7.6" transform="rotate(-30 559 254.6)" fill="#e7e7e7" stroke="#0c0c0c" stroke-width="1.08"/>
<path d="M-10 -3 L1 -3 L1 -6 L10 0 L1 6 L1 3 L-10 3Z" transform="translate(368.5 364) rotate(-15)" fill="#111" stroke="#111" stroke-width="0.8"/>
<path d="M456 286 L467 299" fill="none" stroke="#0c0c0c" stroke-width="1.2"/>
<text transform="translate(453.2 285.7) scale(0.93 1)" font-size="9.4" font-weight="bold" text-anchor="middle">97</text>
<path d="M567.5 215 L580 232" fill="none" stroke="#0c0c0c" stroke-width="1.2"/>
<text transform="translate(564.8 214.8) scale(0.93 1)" font-size="9.4" font-weight="bold" text-anchor="middle">98</text>
<ellipse cx="613.4" cy="222.1" rx="5.1" ry="8.3" transform="rotate(-30 613.4 222.1)" fill="none" stroke="#0c0c0c" stroke-width="1.92"/>
<path d="M620 228.5 L636 238.5" fill="none" stroke="#0c0c0c" stroke-width="1.2"/>
<text transform="translate(643.6 244.8) scale(0.93 1)" font-size="9.4" font-weight="bold" text-anchor="middle">99</text>
<path d="M619 210.1L658.7 187.1A5.7 8.6 -30.1 0 1 667.3 201.9L627.6 224.9A5.7 8.6 -30.1 0 1 619 210.1Z" fill="#e7e7e7" stroke="#0c0c0c" stroke-width="1.32"/>
<ellipse cx="623.3" cy="217.5" rx="5.7" ry="8.6" transform="rotate(-30.1 623.3 217.5)" fill="#e7e7e7" stroke="#0c0c0c" stroke-width="1.32"/>
<ellipse cx="623.3" cy="217.5" rx="3.8" ry="5.8" transform="rotate(-30.1 623.3 217.5)" fill="#e7e7e7" stroke="#0c0c0c" stroke-width="1.19"/>
<path d="M661 186.5 A5 8.6 -30 0 1 669 200.5" fill="none" stroke="#0c0c0c" stroke-width="1.44"/>
<ellipse cx="663.5" cy="192.3" rx="3" ry="5.5" transform="rotate(-30 663.5 192.3)" fill="#e7e7e7" stroke="#0c0c0c" stroke-width="1.2"/>
<path d="M625.6 180.4L647.3 167.9A6.9 10.4 -29.9 0 1 657.7 185.9L636 198.4A6.9 10.4 -29.9 0 1 625.6 180.4Z" fill="#e7e7e7" stroke="#0c0c0c" stroke-width="1.32"/>
<ellipse cx="630.8" cy="189.4" rx="6.9" ry="10.4" transform="rotate(-29.9 630.8 189.4)" fill="#e7e7e7" stroke="#0c0c0c" stroke-width="1.32"/>
<ellipse cx="630.8" cy="189.4" rx="5.3" ry="8" transform="rotate(-29.9 630.8 189.4)" fill="#e7e7e7" stroke="#0c0c0c" stroke-width="1.19"/>
<path d="M627.6 185.5 L628.6 195.5" fill="none" stroke="#0c0c0c" stroke-width="0.84"/>
<path d="M629.2 185.8 L630.2 195.3" fill="none" stroke="#0c0c0c" stroke-width="0.84"/>
<path d="M630.8 186.1 L631.8 195.1" fill="none" stroke="#0c0c0c" stroke-width="0.84"/>
<path d="M632.4 186.4 L633.4 194.9" fill="none" stroke="#0c0c0c" stroke-width="0.84"/>
<path d="M634 186.7 L635 194.7" fill="none" stroke="#0c0c0c" stroke-width="0.84"/>
<path d="M625.8 202.6 L626.6 199.3 L635.7 196 L639 199.3 L645.6 195.2 L645.6 202.6 L639 205.1 L632.4 207.6Z" fill="#e7e7e7" stroke="#0c0c0c" stroke-width="1.2"/>
<path d="M634.9 200.1 L640.7 198 L641 200.6 L635.7 202.6Z" fill="#0c0c0c" stroke="#0c0c0c" stroke-width="0.48"/>
<path d="M644 191.9 L644.3 202.6" fill="none" stroke="#0c0c0c" stroke-width="1.2"/>
<path d="M649.3 186.9 L649.6 196.8" fill="none" stroke="#0c0c0c" stroke-width="1.2"/>
<circle cx="625.8" cy="206.7" r="1.4" fill="#e7e7e7" stroke="#0c0c0c" stroke-width="1.08"/>
<circle cx="648.1" cy="199.3" r="1.6" fill="#e7e7e7" stroke="#0c0c0c" stroke-width="1.08"/>
<path d="M632 161.5 L642 177" fill="none" stroke="#0c0c0c" stroke-width="1.2"/>
<text transform="translate(627.1 160.3) scale(0.93 1)" font-size="9.4" font-weight="bold" text-anchor="middle">100</text>
<path d="M614.3 196 L617.2 195.4 L617.6 201 L614.6 202Z" fill="#e7e7e7" stroke="#0c0c0c" stroke-width="1.32"/>
<path d="M615.1 202.6 L616.7 205.1 L624.2 202.6" fill="none" stroke="#0c0c0c" stroke-width="0.96"/>
<path d="M596 178.5 L613 194.5" fill="none" stroke="#0c0c0c" stroke-width="1.2"/>
<text transform="translate(590.7 176.8) scale(0.93 1)" font-size="9.4" font-weight="bold" text-anchor="middle">104</text>
<ellipse cx="672.9" cy="188.6" rx="5.1" ry="8.3" transform="rotate(-30 672.9 188.6)" fill="none" stroke="#0c0c0c" stroke-width="1.92"/>
<path d="M679.5 195 L695 201" fill="none" stroke="#0c0c0c" stroke-width="1.2"/>
<text transform="translate(701.4 206.8) scale(0.93 1)" font-size="9.4" font-weight="bold" text-anchor="middle">99</text>
<path d="M658.6 204.1L672.5 211.1A1.1 2.3 26.7 0 1 670.5 215.3L656.6 208.3A1.1 2.3 26.7 0 1 658.6 204.1Z" fill="#e7e7e7" stroke="#0c0c0c" stroke-width="1.32"/>
<ellipse cx="657.6" cy="206.2" rx="1.1" ry="2.3" transform="rotate(26.7 657.6 206.2)" fill="#e7e7e7" stroke="#0c0c0c" stroke-width="1.32"/>
<path d="M659 205 L672 211.5" fill="none" stroke="#0c0c0c" stroke-width="1.68"/>
<path d="M672 213.3 L684 219" fill="none" stroke="#0c0c0c" stroke-width="1.2"/>
<text transform="translate(691 223.8) scale(0.93 1)" font-size="9.4" font-weight="bold" text-anchor="middle">107</text>
<path d="M680.5 178.5 C677.5 172 680 167 688 163 L726 144 L729 146.5 L732 145 C737 148 741 158 739 163.5 L697 186 C690 188 683 185 680.5 178.5Z" fill="#e7e7e7" stroke="#0c0c0c" stroke-width="1.44"/>
<path d="M694 180 L728 160 L728 155 L734 152" fill="none" stroke="#0c0c0c" stroke-width="1.44"/>
<path d="M694 180 C697 176 701 173 707 170 L722 160" fill="none" stroke="#0c0c0c" stroke-width="1.2"/>
<path d="M706 158 L722 150 L726 152" fill="none" stroke="#0c0c0c" stroke-width="2.64"/>
<path d="M726 144 L729 160" fill="none" stroke="#0c0c0c" stroke-width="1.08"/>
<path d="M682.5 148 L697 163" fill="none" stroke="#0c0c0c" stroke-width="1.2"/>
<text transform="translate(676.7 148.3) scale(0.93 1)" font-size="9.4" font-weight="bold" text-anchor="middle">111</text>
<path d="M680 180 L672 184.5" fill="none" stroke="#0c0c0c" stroke-width="0.84" stroke-dasharray="5 2 1 2" stroke-opacity="0.8"/>
<path d="M446 383.3 L476.5 366 L498 380 L496 387 L462.5 405.5 L455 396Z" fill="#e7e7e7" stroke="#0c0c0c" stroke-width="1.32"/>
<path d="M462.5 397.8 L495.5 383.5" fill="none" stroke="#0c0c0c" stroke-width="2.64"/>
<path d="M464 392.5 L492.5 379.8" fill="none" stroke="#0c0c0c" stroke-width="0.96"/>
<path d="M474.5 383.5 L485 378.3" fill="none" stroke="#0c0c0c" stroke-width="0.72"/>
<path d="M477.5 368.5 C476 376 483.5 379 486.5 373 C488.8 368.5 485 364 488.8 363.3" fill="#e7e7e7" stroke="#0c0c0c" stroke-width="1.44"/>
<path d="M488.8 363.3 C490.3 370 491.8 376 496.3 383.5" fill="none" stroke="#0c0c0c" stroke-width="1.44"/>
<path d="M496.3 385 C500 383.5 506 383.5 508.3 377.5 C507.5 373.8 503 373.8 500.8 377.5" fill="#e7e7e7" stroke="#0c0c0c" stroke-width="1.56"/>
<path d="M500.8 377.5 C503 379.8 500 382 497.8 380.5" fill="none" stroke="#0c0c0c" stroke-width="1.44"/>
<path d="M495.5 383.5 L496.7 387.3" fill="none" stroke="#0c0c0c" stroke-width="3.12"/>
<path d="M394.7 413.9L444.4 385.2A8.4 13.2 -30 0 1 457.6 408L407.9 436.7A8.4 13.2 -30 0 1 394.7 413.9Z" fill="#e7e7e7" stroke="#0c0c0c" stroke-width="1.32"/>
<ellipse cx="401.3" cy="425.3" rx="8.4" ry="13.2" transform="rotate(-30 401.3 425.3)" fill="#e7e7e7" stroke="#0c0c0c" stroke-width="1.32"/>
<ellipse cx="401.6" cy="425.1" rx="7.6" ry="11.8" transform="rotate(-30 401.6 425.1)" fill="#e7e7e7" stroke="#0c0c0c" stroke-width="1.08"/>
<path d="M446 383.3 C453 385 459.5 392 462.5 398" fill="none" stroke="#0c0c0c" stroke-width="1.44"/>
<path d="M456 390 C459 393 461 396 462.5 399.5" fill="none" stroke="#0c0c0c" stroke-width="2.88"/>
<path d="M406.5 391 L421.5 402.5" fill="none" stroke="#0c0c0c" stroke-width="1.2"/>
<text transform="translate(403 391.3) scale(0.93 1)" font-size="9.4" font-weight="bold" text-anchor="middle">7</text>
<path d="M396 428.5 L381.3 436.8 L381.3 548" fill="none" stroke="#0c0c0c" stroke-width="0.96" stroke-dasharray="9 2 1.5 2" stroke-opacity="0.8"/>
<ellipse cx="514" cy="362.2" rx="8.1" ry="11.6" transform="rotate(-30 514 362.2)" fill="#e7e7e7" stroke="#0c0c0c" stroke-width="1.44"/>
<ellipse cx="511.6" cy="363.6" rx="8.1" ry="11.6" transform="rotate(-30 511.6 363.6)" fill="#e7e7e7" stroke="#0c0c0c" stroke-width="1.44"/>
<ellipse cx="511.9" cy="363.4" rx="4.6" ry="6.6" transform="rotate(-30 511.9 363.4)" fill="#e7e7e7" stroke="#0c0c0c" stroke-width="1.44"/>
<path d="M509.5 358.5 C512 359 514.5 363 514 368" fill="none" stroke="#0c0c0c" stroke-width="1.08"/>
<path d="M485.5 340 L505 353.5" fill="none" stroke="#0c0c0c" stroke-width="1.2"/>
<text transform="translate(481.7 339) scale(0.93 1)" font-size="9.4" font-weight="bold" text-anchor="middle">14</text>
<path d="M462 392 L506 366.5" fill="none" stroke="#0c0c0c" stroke-width="0.84" stroke-dasharray="9 2 1.5 2" stroke-opacity="0.8"/>
<path d="M517 360.5 L524 356.5" fill="none" stroke="#0c0c0c" stroke-width="0.84"/>
<path d="M522.9 341.5L611.4 291A7.2 11.3 -29.7 0 1 622.6 310.6L534.1 361.1A7.2 11.3 -29.7 0 1 522.9 341.5Z" fill="#e7e7e7" stroke="#0c0c0c" stroke-width="1.32"/>
<ellipse cx="528.5" cy="351.3" rx="7.2" ry="11.3" transform="rotate(-29.7 528.5 351.3)" fill="#e7e7e7" stroke="#0c0c0c" stroke-width="1.32"/>
<path d="M578.3 336.5 L579 331.6 L623.5 306.8 L628 313 L580 341.5Z" fill="#e7e7e7" stroke="#e7e7e7" stroke-width="0"/>
<path d="M577.8 338.7 L578.8 331.8 L623 307" fill="none" stroke="#0c0c0c" stroke-width="1.32"/>
<path d="M581 330.5 L622 307.5" fill="none" stroke="#0c0c0c" stroke-width="0"/>
<path d="M534.2 341.8 C536.8 343.8 538.3 346 539 348.3 L572 329.5" fill="none" stroke="#0c0c0c" stroke-width="1.2"/>
<path d="M572 316 C575.8 316.8 578.8 319.3 580.3 323.5" fill="none" stroke="#0c0c0c" stroke-width="1.2"/>
<path d="M577.3 313 C581 313.8 584 316.8 585.2 320.8" fill="none" stroke="#0c0c0c" stroke-width="1.2"/>
<path d="M582.5 310.8 L601.3 300.3 L605 302.5 L605.8 305.8 L588.5 315.4 L584.3 313.3Z" fill="#e7e7e7" stroke="#0c0c0c" stroke-width="1.2"/>
<path d="M601.3 300.3 L602.3 304 L588.5 311.8" fill="none" stroke="#0c0c0c" stroke-width="0.96"/>
<circle cx="564.8" cy="340.8" r="1.9" fill="#e7e7e7" stroke="#0c0c0c" stroke-width="1.32"/>
<ellipse cx="525.6" cy="354.6" rx="3.3" ry="5.2" transform="rotate(-30 525.6 354.6)" fill="#e7e7e7" stroke="#0c0c0c" stroke-width="1.2"/>
<ellipse cx="525.3" cy="354.8" rx="1.4" ry="2.2" transform="rotate(-30 525.3 354.8)" fill="#e7e7e7" stroke="#0c0c0c" stroke-width="1.08"/>
<path d="M540.5 319 L556 328.5" fill="none" stroke="#0c0c0c" stroke-width="1.2"/>
<text transform="translate(534.7 316.6) scale(0.93 1)" font-size="9.4" font-weight="bold" text-anchor="middle">13</text>
<path d="M581.5 333 L584 335 L585.5 344" fill="none" stroke="#0c0c0c" stroke-width="1.2"/>
<text transform="translate(585.4 353.6) scale(0.93 1)" font-size="9.4" font-weight="bold" text-anchor="middle">6</text>
<path d="M661 353.6L711.8 324.3A5.3 8.5 -30 0 1 720.2 339.1L669.4 368.4A5.3 8.5 -30 0 1 661 353.6Z" fill="#e7e7e7" stroke="#0c0c0c" stroke-width="1.32"/>
<ellipse cx="665.2" cy="361" rx="5.3" ry="8.5" transform="rotate(-30 665.2 361)" fill="#e7e7e7" stroke="#0c0c0c" stroke-width="1.32"/>
<ellipse cx="665.4" cy="360.9" rx="4.2" ry="6.8" transform="rotate(-30 665.4 360.9)" fill="#e7e7e7" stroke="#0c0c0c" stroke-width="1.08"/>
<path d="M671.4 363 L717.5 337.9" fill="none" stroke="#0c0c0c" stroke-width="3.12"/>
<path d="M672.5 360.8L717.5 336.3" fill="none" stroke="#0c0c0c" stroke-width="1.7" stroke-dasharray="0.1 1.75" stroke-linecap="round"/>
<path d="M672.5 360.8L717.5 336.3" fill="none" stroke="#e7e7e7" stroke-width="0.595" stroke-dasharray="0.1 1.75" stroke-linecap="round"/>
<path d="M659.6 354.5L702.9 330.3" fill="none" stroke="#0c0c0c" stroke-width="1.7" stroke-dasharray="0.1 1.75" stroke-linecap="round"/>
<path d="M659.6 354.5L702.9 330.3" fill="none" stroke="#e7e7e7" stroke-width="0.595" stroke-dasharray="0.1 1.75" stroke-linecap="round"/>
<path d="M666.9 357.6 L675.9 353.1" fill="none" stroke="#0c0c0c" stroke-width="0.72"/>
<path d="M705.6 323.6L744.6 301.1A6.7 10.8 -30 0 1 755.4 319.9L716.4 342.4A6.7 10.8 -30 0 1 705.6 323.6Z" fill="#e7e7e7" stroke="#0c0c0c" stroke-width="1.32"/>
<path d="M704 324.1 L706.3 322.8 L708.5 324.4 L708.5 332.9 L705.7 332.9 L704.2 331.2Z" fill="#e7e7e7" stroke="#0c0c0c" stroke-width="1.2"/>
<path d="M706.8 325 L746.8 301.6 L751.3 302.5 L754.6 307 L755.2 313.8 L723.1 332.3 L719.8 336.8 L709.6 336.3Z" fill="#e7e7e7" stroke="#0c0c0c" stroke-width="1.08"/>
<path d="M706.8 325 L746.8 301.6" fill="none" stroke="#0c0c0c" stroke-width="2.16"/>
<path d="M722 329.5 L754.1 311.5" fill="none" stroke="#0c0c0c" stroke-width="0.96"/>
<ellipse cx="713.6" cy="330.6" rx="4.2" ry="5.6" transform="rotate(-30 713.6 330.6)" fill="#e7e7e7" stroke="#0c0c0c" stroke-width="1.8"/>
<path d="M710.8 327.3 Q716.4 326.1 718.1 331.8" fill="none" stroke="#0c0c0c" stroke-width="1.44"/>
<path d="M720.9 336.8 L721.5 339.1" fill="none" stroke="#0c0c0c" stroke-width="1.08"/>
<path d="M744 300.1L748.5 297.5A7.4 12 -30 0 1 760.5 318.3L756 320.9A7.4 12 -30 0 1 744 300.1Z" fill="#e7e7e7" stroke="#0c0c0c" stroke-width="1.32"/>
<path d="M744 300.8 Q749 296.9 756.3 298.6" fill="none" stroke="#0c0c0c" stroke-width="1.2"/>
<path d="M676 335 L678 345" fill="none" stroke="#0c0c0c" stroke-width="1.2"/>
<text transform="translate(675.7 332.9) scale(0.93 1)" font-size="9.4" font-weight="bold" text-anchor="middle">4</text>
<path d="M725.8 304 L725.8 322.5" fill="none" stroke="#0c0c0c" stroke-width="1.2"/>
<text transform="translate(725.8 302.3) scale(0.93 1)" font-size="9.4" font-weight="bold" text-anchor="middle">6</text>
<circle cx="725.8" cy="322.5" r="0.8" fill="#0c0c0c" stroke="#0c0c0c" stroke-width="0.6"/>
<ellipse cx="769.6" cy="297.6" rx="8" ry="11.8" transform="rotate(-30 769.6 297.6)" fill="#e7e7e7" stroke="#0c0c0c" stroke-width="1.44"/>
<ellipse cx="767.4" cy="298.9" rx="8" ry="11.8" transform="rotate(-30 767.4 298.9)" fill="#e7e7e7" stroke="#0c0c0c" stroke-width="1.44"/>
<ellipse cx="767.6" cy="298.8" rx="4.4" ry="6.4" transform="rotate(-30 767.6 298.8)" fill="#e7e7e7" stroke="#0c0c0c" stroke-width="1.44"/>
<ellipse cx="768.6" cy="298.2" rx="2.9" ry="4.3" transform="rotate(-30 768.6 298.2)" fill="#e7e7e7" stroke="#0c0c0c" stroke-width="1.08"/>
<path d="M772.5 307 L774.5 314" fill="none" stroke="#0c0c0c" stroke-width="1.2"/>
<text transform="translate(775.5 323.1) scale(0.93 1)" font-size="9.4" font-weight="bold" text-anchor="middle">5</text>
<path d="M632.2 295.4 L632.2 376.5 L660 360.5" fill="none" stroke="#0c0c0c" stroke-width="0.96" stroke-dasharray="14 2 1.5 2" stroke-opacity="0.8"/>
<path d="M632.2 295.4 L640 291" fill="none" stroke="#0c0c0c" stroke-width="0.96"/>
<path d="M769.3 282 L881 217.8 C888 216.5 897 224 900 234.5 L786 291.8 C783.5 286 777 281.5 769.3 282Z" fill="#e7e7e7" stroke="#0c0c0c" stroke-width="1.44"/>
<path d="M881 217.8 C890 221 896 228 898.5 236" fill="none" stroke="#0c0c0c" stroke-width="1.2"/>
<path d="M819 274 L832.5 266 C834.5 271 832 277 826.5 278.5 C823 278 820.5 276.5 819 274Z" fill="#e7e7e7" stroke="#0c0c0c" stroke-width="1.32"/>
<path d="M826 269.8 L832.5 266 C833.5 268 833.5 270 833 271.5Z" fill="#0c0c0c" stroke="#0c0c0c" stroke-width="0.72"/>
<path d="M842.8 271 L842.2 279" fill="none" stroke="#0c0c0c" stroke-width="1.2"/>
<text transform="translate(842.6 287.8) scale(0.93 1)" font-size="9.4" font-weight="bold" text-anchor="middle">2</text>
<ellipse cx="889.5" cy="238" rx="2" ry="3.4" transform="rotate(-30 889.5 238)" fill="#e7e7e7" stroke="#0c0c0c" stroke-width="1.2"/>
<path d="M900.2 232 L908.9 205 C909.8 197.1 917.6 193.2 923.8 194.9 C930 197.1 935.6 205 935.9 214 L934.5 218.5 L901.3 237.6 Z" fill="#e7e7e7" stroke="#0c0c0c" stroke-width="1.56"/>
<path d="M909.2 204.4 C912 198.8 917.6 196.6 922.1 198.8 C927.8 202.2 931.1 209.5 930 220.8" fill="none" stroke="#0c0c0c" stroke-width="1.2"/>
<path d="M909.2 204.4 L910.3 208.4 L928.9 217.6 L930 220.8" fill="none" stroke="#0c0c0c" stroke-width="1.2"/>
<ellipse cx="919.4" cy="205" rx="3.1" ry="5" transform="rotate(-25 919.4 205)" fill="#e7e7e7" stroke="#0c0c0c" stroke-width="1.44"/>
<path d="M917.1 199.9 Q921.6 199.4 923.8 205" fill="none" stroke="#0c0c0c" stroke-width="1.92"/>
<path d="M934.3 206.9L962 191.1A1.2 2 -29.7 0 1 964 194.5L936.3 210.3A1.2 2 -29.7 0 1 934.3 206.9Z" fill="#777" stroke="#0c0c0c" stroke-width="1.2"/>
<ellipse cx="935.3" cy="208.6" rx="1.2" ry="2" transform="rotate(-29.7 935.3 208.6)" fill="#777" stroke="#0c0c0c" stroke-width="1.2"/>
<path d="M935.5 206.2L937.5 209.6M936.7 205.5L938.6 209M937.8 204.8L939.8 208.3M939 204.2L941 207.7M940.1 203.5L942.1 207M941.3 202.9L943.3 206.3M942.5 202.2L944.4 205.7M943.6 201.5L945.6 205M944.8 200.9L946.8 204.4M945.9 200.2L947.9 203.7M947.1 199.6L949.1 203M948.3 198.9L950.2 202.4M949.4 198.3L951.4 201.7M950.6 197.6L952.6 201.1M951.7 196.9L953.7 200.4M952.9 196.3L954.9 199.8M954.1 195.6L956 199.1M955.2 195L957.2 198.4M956.4 194.3L958.4 197.8M957.5 193.6L959.5 197.1M958.7 193L960.7 196.5M959.9 192.3L961.8 195.8M961 191.7L963 195.1" fill="none" stroke="#0c0c0c" stroke-width="0.96"/>
<path d="M960.9 189.1L968.4 184.8A2.6 4.3 -29.8 0 1 972.6 192.2L965.1 196.5A2.6 4.3 -29.8 0 1 960.9 189.1Z" fill="#e7e7e7" stroke="#0c0c0c" stroke-width="1.44"/>
<ellipse cx="963" cy="192.8" rx="2.6" ry="4.3" transform="rotate(-29.8 963 192.8)" fill="#e7e7e7" stroke="#0c0c0c" stroke-width="1.44"/>
<path d="M963.8 188.1 L970.5 185.3" fill="none" stroke="#0c0c0c" stroke-width="0.96"/>
<path d="M943 188 L943.2 200" fill="none" stroke="#0c0c0c" stroke-width="1.2"/>
<text transform="translate(942.8 186.4) scale(0.93 1)" font-size="9.4" font-weight="bold" text-anchor="middle">3</text>
<ellipse cx="894.6" cy="218" rx="3.1" ry="5" transform="rotate(-30 894.6 218)" fill="#e7e7e7" stroke="#0c0c0c" stroke-width="1.56"/>
<ellipse cx="894.6" cy="218" rx="1" ry="1.6" transform="rotate(-30 894.6 218)" fill="#444" stroke="#0c0c0c" stroke-width="1.08"/>
<ellipse cx="903.3" cy="213" rx="3.7" ry="6" transform="rotate(-30 903.3 213)" fill="#e7e7e7" stroke="#0c0c0c" stroke-width="1.56"/>
<ellipse cx="902.3" cy="213.6" rx="3.7" ry="6" transform="rotate(-30 902.3 213.6)" fill="#e7e7e7" stroke="#0c0c0c" stroke-width="1.44"/>
<ellipse cx="902.3" cy="213.6" rx="1.4" ry="2.2" transform="rotate(-30 902.3 213.6)" fill="#e7e7e7" stroke="#0c0c0c" stroke-width="1.08"/>
<path d="M899 181.5 L892 187 L892 212" fill="none" stroke="#0c0c0c" stroke-width="1.2"/>
<text transform="translate(904.4 181.3) scale(0.93 1)" font-size="9.4" font-weight="bold" text-anchor="middle">78</text>
<path d="M908 190 L901 195 L901 207" fill="none" stroke="#0c0c0c" stroke-width="1.2"/>
<text transform="translate(916.5 188.4) scale(0.93 1)" font-size="9.4" font-weight="bold" text-anchor="middle">115</text>
<ellipse cx="855.2" cy="219" rx="1.3" ry="1.9" transform="rotate(0 855.2 219)" fill="#e7e7e7" stroke="#0c0c0c" stroke-width="1.32"/>
<path d="M856.5 220 L860 222.3" fill="none" stroke="#0c0c0c" stroke-width="1.56"/>
<ellipse cx="862.5" cy="223.6" rx="2.5" ry="4" transform="rotate(-30 862.5 223.6)" fill="#e7e7e7" stroke="#0c0c0c" stroke-width="1.56"/>
<ellipse cx="863.2" cy="223.9" rx="0.9" ry="1.5" transform="rotate(-30 863.2 223.9)" fill="#e7e7e7" stroke="#0c0c0c" stroke-width="0.96"/>
<path d="M868 177 L855 187 L855 216" fill="none" stroke="#0c0c0c" stroke-width="1.2"/>
<text transform="translate(872 177) scale(0.93 1)" font-size="9.4" font-weight="bold" text-anchor="middle">74</text>
<path d="M876.5 184.5 L862.5 195 L862.5 219.5" fill="none" stroke="#0c0c0c" stroke-width="1.2"/>
<text transform="translate(883 182.9) scale(0.93 1)" font-size="9.4" font-weight="bold" text-anchor="middle">65</text>
<path d="M895 242.7 L907.8 249.8" fill="none" stroke="#0c0c0c" stroke-width="0.84"/>
<path d="M932 264 L945.8 271.9" fill="none" stroke="#0c0c0c" stroke-width="0.96"/>
<path d="M-8.5 -2.8 L0.5 -2.8 L0.5 -5.5 L8.5 0 L0.5 5.5 L0.5 2.8 L-8.5 2.8Z" transform="translate(917 259.2) rotate(165)" fill="#111" stroke="#111" stroke-width="0.8"/>
<path d="M668.6 398.3L902.1 259.8A4 6.6 -30.7 0 1 908.9 271.2L675.4 409.7A4 6.6 -30.7 0 1 668.6 398.3Z" fill="#e7e7e7" stroke="#0c0c0c" stroke-width="1.32"/>
<path d="M908.9 271.2 L675.4 409.7" fill="none" stroke="#0c0c0c" stroke-width="2.88"/>
<path d="M882.6 271L902.1 259.8A4.1 6.9 -29.9 0 1 908.9 271.8L889.4 283A4.1 6.9 -29.9 0 1 882.6 271Z" fill="#e7e7e7" stroke="#0c0c0c" stroke-width="1.32"/>
<path d="M883 270.5 A4 6.9 -30 0 1 889.5 282.8" fill="none" stroke="#0c0c0c" stroke-width="1.32"/>
<path d="M885.3 269.3 A4 6.9 -30 0 1 891.8 281.6" fill="none" stroke="#0c0c0c" stroke-width="1.2"/>
<path d="M900.5 260.5 A4 6.9 -30 0 1 907 273" fill="none" stroke="#0c0c0c" stroke-width="1.56"/>
<path d="M664.4 433.8 L945.8 271.9" fill="none" stroke="#0c0c0c" stroke-width="0.96" stroke-dasharray="18 3 2 3" stroke-opacity="0.8"/>
<path d="M452 547 L620 449.4 L628.4 488.2 L641 484 L642 488.2 L628.4 494.5 L473 578.5 L455.2 574.3Z" fill="#e7e7e7" stroke="#0c0c0c" stroke-width="1.44"/>
<path d="M412 537.9L661 394.2A10.5 14 -30 0 1 675 418.4L426 562.1A10.5 14 -30 0 1 412 537.9Z" fill="#e7e7e7" stroke="#0c0c0c" stroke-width="1.44"/>
<path d="M655 420.5 C652 414 660 404 670 401.5" fill="none" stroke="#0c0c0c" stroke-width="1.08"/>
<path d="M652.5 434.5 C658 431 662 427 660 423" fill="none" stroke="#0c0c0c" stroke-width="1.2"/>
<path d="M598 430.5 C604 430 613 438 616.5 446 L585.5 464 C583 456 577 449 569.5 445.5Z" fill="#e7e7e7" stroke="#0c0c0c" stroke-width="1.44"/>
<path d="M598 430.5 C605 430 613.5 438 616.5 446" fill="none" stroke="#0c0c0c" stroke-width="3.36"/>
<path d="M600.5 437.5 C604 439.5 607.5 444 608 449 L601.5 446.5 L597.5 448.5 C596 445.5 598 440.5 600.5 437.5Z" fill="#e7e7e7" stroke="#0c0c0c" stroke-width="1.32"/>
<path d="M569.5 445.5 C577 449 583 456 585.5 464" fill="none" stroke="#0c0c0c" stroke-width="1.68"/>
<path d="M571 479 L598 463.5" fill="none" stroke="#0c0c0c" stroke-width="3.84" stroke-linecap="round"/>
<path d="M574 490 L596 468 L598 471 L579 493Z" fill="#e7e7e7" stroke="#0c0c0c" stroke-width="2.64"/>
<path d="M548 497 L564 488 L566 502 L552 510Z" fill="#e7e7e7" stroke="#0c0c0c" stroke-width="2.64"/>
<path d="M568 486 L569 506" fill="none" stroke="#0c0c0c" stroke-width="2.4"/>
<path d="M648.7 436.9 L586.8 472.9" fill="none" stroke="#555" stroke-width="1.92"/>
<ellipse cx="648.7" cy="436.9" rx="1.1" ry="1.6" transform="rotate(0 648.7 436.9)" fill="#e7e7e7" stroke="#0c0c0c" stroke-width="0.96"/>
<path d="M424.3 525.8 L499 483.7 L505.8 486.6 L506.2 490.2 L430.4 533.7Z" fill="#2b2b2b" stroke="#0c0c0c" stroke-width="0.96"/>
<path d="M425.9 526.8L429 532.4M427.3 526L430.5 531.6M428.7 525.2L431.9 530.8M430.1 524.4L433.3 530M431.6 523.6L434.7 529.2M433 522.8L436.1 528.4M434.4 522L437.5 527.6M435.8 521.2L439 526.8M437.2 520.4L440.4 526M438.6 519.6L441.8 525.2M440.1 518.8L443.2 524.4M441.5 518L444.6 523.6M442.9 517.2L446.1 522.8M444.3 516.4L447.5 522M445.7 515.6L448.9 521.2M447.2 514.8L450.3 520.4M448.6 514L451.7 519.6M450 513.2L453.1 518.8M451.4 512.4L454.6 517.9M452.8 511.6L456 517.1M454.3 510.8L457.4 516.3M455.7 510L458.8 515.5M457.1 509.2L460.2 514.7M458.5 508.4L461.7 513.9M459.9 507.6L463.1 513.1M461.3 506.8L464.5 512.3M462.8 506L465.9 511.5M464.2 505.2L467.3 510.7M465.6 504.4L468.7 509.9M467 503.5L470.2 509.1M468.4 502.7L471.6 508.3M469.9 501.9L473 507.5M471.3 501.1L474.4 506.7M472.7 500.3L475.8 505.9M474.1 499.5L477.3 505.1M475.5 498.7L478.7 504.3M476.9 497.9L480.1 503.5M478.4 497.1L481.5 502.7M479.8 496.3L482.9 501.9M481.2 495.5L484.4 501.1M482.6 494.7L485.8 500.3M484 493.9L487.2 499.5M485.5 493.1L488.6 498.7M486.9 492.3L490 497.9M488.3 491.5L491.4 497.1M489.7 490.7L492.9 496.3M491.1 489.9L494.3 495.5M492.5 489.1L495.7 494.7M494 488.3L497.1 493.9M495.4 487.5L498.5 493.1M496.8 486.7L500 492.3M498.2 485.9L501.4 491.5M499.6 485.1L502.8 490.7M501.1 484.3L504.2 489.9" fill="none" stroke="#999" stroke-width="0.6"/>
<path d="M431.5 537.5 L505.8 494.7" fill="none" stroke="#0c0c0c" stroke-width="1.2"/>
<path d="M433.3 541.5 L467.5 522.4" fill="none" stroke="#0c0c0c" stroke-width="1.08"/>
<path d="M456.3 519 C463 528 461.9 537 454 546" fill="none" stroke="#0c0c0c" stroke-width="1.2"/>
<path d="M454 546 L440.5 546" fill="none" stroke="#0c0c0c" stroke-width="1.2"/>
<path d="M467.5 567.4L484.4 558.4" fill="none" stroke="#0c0c0c" stroke-width="4.08" stroke-linecap="round"/>
<path d="M496.8 552.8L504.7 548.3" fill="none" stroke="#0c0c0c" stroke-width="4.08" stroke-linecap="round"/>
<path d="M508 546L518.2 541.1" fill="none" stroke="#0c0c0c" stroke-width="4.08" stroke-linecap="round"/>
<path d="M469.3 566.7L482.8 559.3" fill="none" stroke="#e7e7e7" stroke-width="1.92" stroke-linecap="round"/>
<path d="M460.8 570.8 L638.6 485.3" fill="none" stroke="#0c0c0c" stroke-width="1.2"/>
<path d="M464.1 575.3 L625.1 487.5" fill="none" stroke="#0c0c0c" stroke-width="1.2"/>
<path d="M464.1 542.7 L476.5 537 L477.7 552.8 L465.3 558.4Z" fill="#333" stroke="#0c0c0c" stroke-width="0.96"/>
<path d="M467.5 544.9 L474.3 541.5 L474.7 551.7 L468.2 554.6Z" fill="#e7e7e7" stroke="#0c0c0c" stroke-width="0.72"/>
<path d="M477.7 532.5 L486.7 528 L487.8 548.3 L478.8 552.8Z" fill="#e7e7e7" stroke="#0c0c0c" stroke-width="1.2"/>
<path d="M524.9 528 L535 523.1 L536.2 540.4 L526 542.7Z" fill="#e7e7e7" stroke="#0c0c0c" stroke-width="1.44"/>
<path d="M526.5 532.1 L531.7 529.8 L531.9 535.9 L526.7 537.7Z" fill="#333" stroke="#0c0c0c" stroke-width="0.72"/>
<path d="M524.9 542.7 L535 539.3 L544 546 L535 552.8 L524.9 549.4Z" fill="#e7e7e7" stroke="#0c0c0c" stroke-width="1.32"/>
<ellipse cx="540" cy="543.8" rx="2.5" ry="3.6" transform="rotate(-30 540 543.8)" fill="#e7e7e7" stroke="#0c0c0c" stroke-width="1.32"/>
<path d="M410.7 538.5L421.7 532.1A12.3 16.6 -30.2 0 1 438.3 560.7L427.3 567.1A12.3 16.6 -30.2 0 1 410.7 538.5Z" fill="#3a3a3a" stroke="#0c0c0c" stroke-width="1.2"/>
<ellipse cx="419" cy="552.8" rx="12.3" ry="16.6" transform="rotate(-30.2 419 552.8)" fill="#e7e7e7" stroke="#0c0c0c" stroke-width="1.2"/>
<path d="M420.9 536.4L421.1 536.6M422.8 535.3L422.9 535.5M424.6 534.2L424.7 534.4M426.4 533.2L426.6 533.3M428.3 532.1L428.4 532.3M430.1 531L430.2 531.2M431.9 529.9L432.1 530.1" fill="none" stroke="#0c0c0c" stroke-width="0.96"/>
<path d="M414.2 536.9A12 16.2 -30.2 0 0 430.4 564.9M415.9 535.8A12 16.2 -30.2 0 0 432.2 563.8M417.7 534.8A12 16.2 -30.2 0 0 434 562.8M419.5 533.8A12 16.2 -30.2 0 0 435.8 561.8M421.3 532.7A12 16.2 -30.2 0 0 437.6 560.7" fill="none" stroke="#bbb" stroke-width="0.72"/>
<ellipse cx="419" cy="552.8" rx="10.2" ry="13.8" transform="rotate(-30 419 552.8)" fill="#e7e7e7" stroke="#0c0c0c" stroke-width="1.32"/>
<path d="M437.1 546 L456.3 537 L461.9 539.3 L455.1 550.5 L446.1 555 L438.3 552.8Z" fill="#e7e7e7" stroke="#0c0c0c" stroke-width="1.44"/>
<ellipse cx="447.3" cy="543.3" rx="1.8" ry="3.2" transform="rotate(90 447.3 543.3)" fill="#e7e7e7" stroke="#0c0c0c" stroke-width="1.2"/>
<path d="M438.3 557.3 L448.4 552.3 L458.5 557.3 L448.4 564Z" fill="#e7e7e7" stroke="#0c0c0c" stroke-width="1.44"/>
<ellipse cx="447.7" cy="557.7" rx="1.7" ry="3" transform="rotate(90 447.7 557.7)" fill="#e7e7e7" stroke="#0c0c0c" stroke-width="1.2"/>
<path d="M447.7 528 L447.7 564" fill="none" stroke="#0c0c0c" stroke-width="0.84" stroke-dasharray="5 2" stroke-opacity="0.8"/>
<path d="M450.3 513.4L450.3 526.9A1.3 2.6 90 0 1 445.1 526.9L445.1 513.4A1.3 2.6 90 0 1 450.3 513.4Z" fill="#e7e7e7" stroke="#0c0c0c" stroke-width="1.32"/>
<ellipse cx="447.7" cy="513.4" rx="1.3" ry="2.6" transform="rotate(90 447.7 513.4)" fill="#e7e7e7" stroke="#0c0c0c" stroke-width="1.32"/>
<path d="M451.5 511.2L451.5 514.5A1.9 3.8 90 0 1 443.9 514.5L443.9 511.2A1.9 3.8 90 0 1 451.5 511.2Z" fill="#e7e7e7" stroke="#0c0c0c" stroke-width="1.32"/>
<ellipse cx="447.7" cy="511.2" rx="1.9" ry="3.8" transform="rotate(90 447.7 511.2)" fill="#e7e7e7" stroke="#0c0c0c" stroke-width="1.32"/>
<path d="M441.5 510 L445 512.5" fill="none" stroke="#0c0c0c" stroke-width="1.2"/>
<text transform="translate(438.2 511.4) scale(0.93 1)" font-size="9.4" font-weight="bold" text-anchor="middle">76</text>
<path d="M434 566 C436 572 434 578 430 581 C426 584 424 580 428 578" fill="none" stroke="#0c0c0c" stroke-width="1.44"/>
<path d="M425 571 C421 575 420 578 423 580" fill="none" stroke="#0c0c0c" stroke-width="1.32"/>
<ellipse cx="521.5" cy="504.4" rx="5.9" ry="7.6" transform="rotate(-30 521.5 504.4)" fill="#e7e7e7" stroke="#0c0c0c" stroke-width="1.44"/>
<path d="M519.3 503.7 L521.1 505.5" fill="none" stroke="#0c0c0c" stroke-width="0.96"/>
<path d="M629.6 403.3 L629.4 414.5" fill="none" stroke="#0c0c0c" stroke-width="1.2"/>
<text transform="translate(629.6 401.2) scale(0.93 1)" font-size="9.4" font-weight="bold" text-anchor="middle">1</text>
<path d="M356.7 570.4L365.2 565.5A9.1 14.6 -30 0 1 379.8 590.7L371.3 595.6A9.1 14.6 -30 0 1 356.7 570.4Z" fill="#e7e7e7" stroke="#0c0c0c" stroke-width="1.32"/>
<ellipse cx="364" cy="583" rx="9.1" ry="14.6" transform="rotate(-30 364 583)" fill="#e7e7e7" stroke="#0c0c0c" stroke-width="1.32"/>
<path d="M345.7 579.1L357.7 572.1A7.8 12.6 -30.3 0 1 370.3 593.9L358.3 600.9A7.8 12.6 -30.3 0 1 345.7 579.1Z" fill="#e7e7e7" stroke="#0c0c0c" stroke-width="1.32"/>
<ellipse cx="364.3" cy="582.8" rx="9.1" ry="14.6" transform="rotate(-30 364.3 582.8)" fill="none" stroke="#0c0c0c" stroke-width="1.2"/>
<circle cx="366.5" cy="581.5" r="1" fill="#e7e7e7" stroke="#0c0c0c" stroke-width="0.96"/>
<path d="M331.3 582.5L346.1 573.9A11.1 16.8 -30.2 0 1 362.9 602.9L348.1 611.5A11.1 16.8 -30.2 0 1 331.3 582.5Z" fill="#2e2e2e" stroke="#0c0c0c" stroke-width="1.32"/>
<ellipse cx="339.7" cy="597" rx="11.1" ry="16.8" transform="rotate(-30.2 339.7 597)" fill="#e7e7e7" stroke="#0c0c0c" stroke-width="1.32"/>
<path d="M334.8 581A10.8 16.3 -30.2 0 0 351.1 609.2M336.6 580A10.8 16.3 -30.2 0 0 352.9 608.2M338.4 578.9A10.8 16.3 -30.2 0 0 354.7 607.1M340.2 577.9A10.8 16.3 -30.2 0 0 356.5 606.1M342 576.8A10.8 16.3 -30.2 0 0 358.3 605M343.8 575.8A10.8 16.3 -30.2 0 0 360.1 604M345.6 574.7A10.8 16.3 -30.2 0 0 361.9 602.9" fill="none" stroke="#9a9a9a" stroke-width="0.6"/>
<ellipse cx="339.7" cy="597" rx="8.8" ry="13.4" transform="rotate(-30 339.7 597)" fill="#e7e7e7" stroke="#0c0c0c" stroke-width="1.2"/>
<path d="M331 594 C331 603 337 610 345 609" fill="none" stroke="#0c0c0c" stroke-width="1.68"/>
<path d="M333 592.5 C333 590 334 588 336 587" fill="none" stroke="#0c0c0c" stroke-width="1.44"/>
<circle cx="346" cy="608" r="1.4" fill="#e7e7e7" stroke="#0c0c0c" stroke-width="1.08"/>
<path d="M352.5 616 L352.5 636" fill="none" stroke="#0c0c0c" stroke-width="0.84" stroke-dasharray="4 2" stroke-opacity="0.8"/>
<ellipse cx="352.5" cy="624.8" rx="1.6" ry="2.6" transform="rotate(90 352.5 624.8)" fill="#e7e7e7" stroke="#0c0c0c" stroke-width="1.32"/>
<ellipse cx="352.5" cy="627" rx="1.7" ry="2.9" transform="rotate(90 352.5 627)" fill="#e7e7e7" stroke="#0c0c0c" stroke-width="1.56"/>
<path d="M334 556 L334 586" fill="none" stroke="#0c0c0c" stroke-width="1.2"/>
<text transform="translate(331.5 555) scale(0.93 1)" font-size="9.4" font-weight="bold" text-anchor="middle">17</text>
<path d="M353 548.5 L353 578" fill="none" stroke="#0c0c0c" stroke-width="1.2"/>
<text transform="translate(352.9 547) scale(0.93 1)" font-size="9.4" font-weight="bold" text-anchor="middle">16</text>
<path d="M367 545.5 L367 569" fill="none" stroke="#0c0c0c" stroke-width="1.2"/>
<text transform="translate(366.9 544.2) scale(0.93 1)" font-size="9.4" font-weight="bold" text-anchor="middle">15</text>
<text transform="translate(351.6 645.4) scale(0.93 1)" font-size="9.4" font-weight="bold" text-anchor="middle">18</text>
<path d="M380.5 573.6 L414 554.5" fill="none" stroke="#0c0c0c" stroke-width="0.84"/>
<path d="M469.2 466.3L471.7 467.5A4.6 7.4 25.6 0 1 465.3 480.9L462.8 479.7A4.6 7.4 25.6 0 1 469.2 466.3Z" fill="#e7e7e7" stroke="#0c0c0c" stroke-width="1.44"/>
<ellipse cx="466" cy="473" rx="4.6" ry="7.4" transform="rotate(25.6 466 473)" fill="#e7e7e7" stroke="#0c0c0c" stroke-width="1.44"/>
<path d="M470.4 470L474.9 472.1A2.9 4.6 25 0 1 471.1 480.5L466.6 478.4A2.9 4.6 25 0 1 470.4 470Z" fill="#e7e7e7" stroke="#0c0c0c" stroke-width="1.32"/>
<ellipse cx="468.5" cy="474.2" rx="2.9" ry="4.6" transform="rotate(25 468.5 474.2)" fill="#e7e7e7" stroke="#0c0c0c" stroke-width="1.32"/>
<ellipse cx="473.5" cy="476.5" rx="1" ry="1.6" transform="rotate(25 473.5 476.5)" fill="#e7e7e7" stroke="#0c0c0c" stroke-width="0.96"/>
<path d="M483.5 457.8 L472 465.1" fill="none" stroke="#0c0c0c" stroke-width="1.2"/>
<text transform="translate(485.5 455.4) scale(0.93 1)" font-size="9.4" font-weight="bold" text-anchor="middle">8</text>
<path d="M479.5 482 L482.5 479.5 L487.5 481 L488 485 L485 487.5 L480.5 486.5Z" fill="#333" stroke="#0c0c0c" stroke-width="0.96"/>
<path d="M481.5 483.5 L486 485" fill="none" stroke="#e7e7e7" stroke-width="0.84"/>
<path d="M499.3 471.4 L487 479.8" fill="none" stroke="#0c0c0c" stroke-width="1.2"/>
<text transform="translate(502 472.4) scale(0.93 1)" font-size="9.4" font-weight="bold" text-anchor="middle">9</text>
<path d="M476 478.5 L480 481" fill="none" stroke="#0c0c0c" stroke-width="0.72"/>
<ellipse cx="442" cy="483.8" rx="1.7" ry="2.4" transform="rotate(25 442 483.8)" fill="#e7e7e7" stroke="#0c0c0c" stroke-width="2.16"/>
<path d="M443.5 483.3L449.5 486A0.7 1.1 24.2 0 1 448.5 488L442.5 485.3A0.7 1.1 24.2 0 1 443.5 483.3Z" fill="#e7e7e7" stroke="#0c0c0c" stroke-width="1.08"/>
<ellipse cx="443" cy="484.3" rx="0.7" ry="1.1" transform="rotate(24.2 443 484.3)" fill="#e7e7e7" stroke="#0c0c0c" stroke-width="1.08"/>
<text transform="translate(438.5 480.5) scale(1 1)" font-size="4.2" font-weight="bold" text-anchor="middle">F</text>
<path d="M445.7 466.2 L445.7 481.5" fill="none" stroke="#0c0c0c" stroke-width="1.2"/>
<text transform="translate(446.8 464.7) scale(0.93 1)" font-size="9.4" font-weight="bold" text-anchor="middle">25</text>
<ellipse cx="454.6" cy="491" rx="1.5" ry="2.2" transform="rotate(-30 454.6 491)" fill="#e7e7e7" stroke="#0c0c0c" stroke-width="2.28"/>
<ellipse cx="459.8" cy="493.4" rx="1.5" ry="2.2" transform="rotate(-30 459.8 493.4)" fill="#e7e7e7" stroke="#0c0c0c" stroke-width="2.28"/>
<path d="M421.6 476 L421.6 488.6 L431.2 495.8 L452.5 491.5" fill="none" stroke="#0c0c0c" stroke-width="1.2"/>
<path d="M431.2 495.8 L457.5 495.5" fill="none" stroke="#0c0c0c" stroke-width="1.2"/>
<text transform="translate(423.3 474.8) scale(0.93 1)" font-size="9.4" font-weight="bold" text-anchor="middle">26</text>
<path d="M461.5 495 L469 499.5" fill="none" stroke="#0c0c0c" stroke-width="0.72"/>
<path d="M393.8 508.4A0.7 1.3 -30.2 1 1 395.2 510.6A0.7 1.3 -30.2 1 1 393.8 508.4M394.9 507.7A0.7 1.3 -30.2 1 1 396.3 510A0.7 1.3 -30.2 1 1 394.9 507.7M396 507.1A0.7 1.3 -30.2 1 1 397.4 509.3A0.7 1.3 -30.2 1 1 396 507.1M397.1 506.5A0.7 1.3 -30.2 1 1 398.5 508.7A0.7 1.3 -30.2 1 1 397.1 506.5M398.2 505.8A0.7 1.3 -30.2 1 1 399.6 508.1A0.7 1.3 -30.2 1 1 398.2 505.8M399.3 505.2A0.7 1.3 -30.2 1 1 400.7 507.4A0.7 1.3 -30.2 1 1 399.3 505.2" fill="none" stroke="#0c0c0c" stroke-width="0.84"/>
<text transform="translate(404.5 505) scale(1 1)" font-size="4.2" font-weight="bold" text-anchor="middle">G</text>
<path d="M395.8 494 L395.8 505.5" fill="none" stroke="#0c0c0c" stroke-width="1.2"/>
<text transform="translate(396.1 493.5) scale(0.93 1)" font-size="9.4" font-weight="bold" text-anchor="middle">59</text>
<path d="M410.3 516.8L414.3 519.1A1 1.7 29.9 0 1 412.7 522.1L408.7 519.8A1 1.7 29.9 0 1 410.3 516.8Z" fill="#e7e7e7" stroke="#0c0c0c" stroke-width="1.08"/>
<ellipse cx="409.5" cy="518.3" rx="1" ry="1.7" transform="rotate(29.9 409.5 518.3)" fill="#e7e7e7" stroke="#0c0c0c" stroke-width="1.08"/>
<path d="M413.9 519.8L420.9 523.8A0.5 0.9 29.7 0 1 420.1 525.4L413.1 521.4A0.5 0.9 29.7 0 1 413.9 519.8Z" fill="#e7e7e7" stroke="#0c0c0c" stroke-width="0.96"/>
<ellipse cx="413.5" cy="520.6" rx="0.5" ry="0.9" transform="rotate(29.7 413.5 520.6)" fill="#e7e7e7" stroke="#0c0c0c" stroke-width="0.96"/>
<text transform="translate(402 515.5) scale(1 1)" font-size="4.2" font-weight="bold" text-anchor="middle">K</text>
<path d="M413 521 C412 525 410 527 408.5 527.5" fill="none" stroke="#0c0c0c" stroke-width="1.08"/>
<text transform="translate(403.8 531.5) scale(0.93 1)" font-size="9.4" font-weight="bold" text-anchor="middle">27</text>
<path d="M388 513.2 L404.8 506.6 L430 522.8" fill="none" stroke="#0c0c0c" stroke-width="0.72" stroke-dasharray="6 2" stroke-opacity="0.8"/>
<path d="M388 513.2 L415.6 531.2" fill="none" stroke="#0c0c0c" stroke-width="0.72" stroke-dasharray="6 2" stroke-opacity="0.8"/>
<path d="M503 523 L510 517 L517 514 L517 528 M506 524 C503 527 506 530 510 528" fill="none" stroke="#0c0c0c" stroke-width="1.2"/>
<text transform="translate(512 525.5) scale(1 1)" font-size="4.2" font-weight="bold" text-anchor="middle">I</text>
<text transform="translate(514 519.9) scale(0.93 1)" font-size="9.4" font-weight="bold" text-anchor="middle">44</text>
<text transform="translate(521.4 527.7) scale(0.93 1)" font-size="9.4" font-weight="bold" text-anchor="middle">49</text>
<ellipse cx="537.1" cy="523.9" rx="1.6" ry="2.3" transform="rotate(-30 537.1 523.9)" fill="#e7e7e7" stroke="#0c0c0c" stroke-width="2.28"/>
<path d="M526.5 524.3 L534.5 524" fill="none" stroke="#0c0c0c" stroke-width="1.2"/>
<ellipse cx="534" cy="505.5" rx="1.4" ry="2" transform="rotate(-30 534 505.5)" fill="#e7e7e7" stroke="#0c0c0c" stroke-width="1.44"/>
<ellipse cx="538.5" cy="508" rx="1.1" ry="1.6" transform="rotate(-30 538.5 508)" fill="#e7e7e7" stroke="#0c0c0c" stroke-width="1.2"/>
<text transform="translate(541 514) scale(1 1)" font-size="4.2" font-weight="bold" text-anchor="middle">E</text>
<path d="M544 520.1L549.5 523.1A0.6 1 28.6 0 1 548.5 524.9L543 521.9A0.6 1 28.6 0 1 544 520.1Z" fill="#e7e7e7" stroke="#0c0c0c" stroke-width="1.08"/>
<ellipse cx="543.5" cy="521" rx="0.6" ry="1" transform="rotate(28.6 543.5 521)" fill="#e7e7e7" stroke="#0c0c0c" stroke-width="1.08"/>
<ellipse cx="551.5" cy="526.2" rx="1.5" ry="2.1" transform="rotate(-30 551.5 526.2)" fill="#e7e7e7" stroke="#0c0c0c" stroke-width="2.16"/>
<path d="M553.5 517.5 L546 521" fill="none" stroke="#0c0c0c" stroke-width="1.2"/>
<text transform="translate(556 517.2) scale(0.93 1)" font-size="9.4" font-weight="bold" text-anchor="middle">25</text>
<path d="M563 519 L553.5 525" fill="none" stroke="#0c0c0c" stroke-width="1.2"/>
<text transform="translate(567.2 518.8) scale(0.93 1)" font-size="9.4" font-weight="bold" text-anchor="middle">26</text>
<ellipse cx="557" cy="531.3" rx="1.1" ry="1.6" transform="rotate(-30 557 531.3)" fill="#e7e7e7" stroke="#0c0c0c" stroke-width="1.44"/>
<ellipse cx="562.3" cy="532.6" rx="1.4" ry="2" transform="rotate(-30 562.3 532.6)" fill="#e7e7e7" stroke="#0c0c0c" stroke-width="2.16"/>
<path d="M569 531.5 L564.5 532.3" fill="none" stroke="#0c0c0c" stroke-width="1.2"/>
<text transform="translate(573.8 534.6) scale(0.93 1)" font-size="9.4" font-weight="bold" text-anchor="middle">55</text>
<ellipse cx="510.8" cy="534.4" rx="1.3" ry="1.8" transform="rotate(-30 510.8 534.4)" fill="#e7e7e7" stroke="#0c0c0c" stroke-width="1.92"/>
<ellipse cx="513" cy="538" rx="1.1" ry="1.6" transform="rotate(-30 513 538)" fill="#e7e7e7" stroke="#0c0c0c" stroke-width="1.68"/>
<path d="M504.5 539 L509.5 536.5" fill="none" stroke="#0c0c0c" stroke-width="1.2"/>
<text transform="translate(499.3 542.9) scale(0.93 1)" font-size="9.4" font-weight="bold" text-anchor="middle">26</text>
<path d="M567.5 545.5 L561.5 556.5" fill="none" stroke="#0c0c0c" stroke-width="1.2"/>
<ellipse cx="560.8" cy="558.6" rx="1.2" ry="1.7" transform="rotate(-30 560.8 558.6)" fill="#e7e7e7" stroke="#0c0c0c" stroke-width="2.04"/>
<text transform="translate(566 562) scale(1 1)" font-size="4.2" font-weight="bold" text-anchor="middle">E</text>
<text transform="translate(570.2 544.6) scale(0.93 1)" font-size="9.4" font-weight="bold" text-anchor="middle">49</text>
<path d="M516 557.5 L527 551.5" fill="none" stroke="#0c0c0c" stroke-width="1.2"/>
<text transform="translate(511.3 562.9) scale(0.93 1)" font-size="9.4" font-weight="bold" text-anchor="middle">56</text>
<path d="M526 566 C531 566 537 562 541 558" fill="none" stroke="#0c0c0c" stroke-width="1.2"/>
<ellipse cx="543" cy="556.5" rx="1" ry="1.4" transform="rotate(0 543 556.5)" fill="#e7e7e7" stroke="#0c0c0c" stroke-width="0.96"/>
<text transform="translate(521 569.2) scale(0.93 1)" font-size="9.4" font-weight="bold" text-anchor="middle">57</text>
<path d="M545.1 547.9L555.2 553.1A1 1.6 27.2 0 1 553.8 555.9L543.7 550.7A1 1.6 27.2 0 1 545.1 547.9Z" fill="#e7e7e7" stroke="#0c0c0c" stroke-width="1.2"/>
<ellipse cx="544.4" cy="549.3" rx="1" ry="1.6" transform="rotate(27.2 544.4 549.3)" fill="#e7e7e7" stroke="#0c0c0c" stroke-width="1.2"/>
<path d="M555 562 L556 557" fill="none" stroke="#0c0c0c" stroke-width="1.2"/>
<text transform="translate(554.4 570.9) scale(0.93 1)" font-size="9.4" font-weight="bold" text-anchor="middle">51</text>
<path d="M532.8 566.5A0.8 1.5 -29.2 1 1 534.2 569.1A0.8 1.5 -29.2 1 1 532.8 566.5M534 565.8A0.8 1.5 -29.2 1 1 535.5 568.4A0.8 1.5 -29.2 1 1 534 565.8M535.3 565.1A0.8 1.5 -29.2 1 1 536.7 567.7A0.8 1.5 -29.2 1 1 535.3 565.1M536.5 564.4A0.8 1.5 -29.2 1 1 538 567A0.8 1.5 -29.2 1 1 536.5 564.4M537.8 563.7A0.8 1.5 -29.2 1 1 539.2 566.3A0.8 1.5 -29.2 1 1 537.8 563.7M539 563A0.8 1.5 -29.2 1 1 540.5 565.6A0.8 1.5 -29.2 1 1 539 563M540.3 562.3A0.8 1.5 -29.2 1 1 541.7 564.9A0.8 1.5 -29.2 1 1 540.3 562.3M541.5 561.6A0.8 1.5 -29.2 1 1 543 564.2A0.8 1.5 -29.2 1 1 541.5 561.6M542.8 560.9A0.8 1.5 -29.2 1 1 544.2 563.5A0.8 1.5 -29.2 1 1 542.8 560.9" fill="none" stroke="#0c0c0c" stroke-width="0.84"/>
<path d="M523 576 L532 569" fill="none" stroke="#0c0c0c" stroke-width="1.2"/>
<text transform="translate(517.8 580.4) scale(0.93 1)" font-size="9.4" font-weight="bold" text-anchor="middle">60</text>
<path d="M544.5 541 L544.5 562" fill="none" stroke="#0c0c0c" stroke-width="0.72" stroke-dasharray="4 2" stroke-opacity="0.8"/>
<path d="M557.5 545 L557.5 552" fill="none" stroke="#0c0c0c" stroke-width="0.72" stroke-dasharray="4 2" stroke-opacity="0.8"/>
<path d="M400 581 C410 582 420 580 432 575.5" fill="none" stroke="#0c0c0c" stroke-width="1.2"/>
<text transform="translate(395.7 583.4) scale(0.93 1)" font-size="9.4" font-weight="bold" text-anchor="middle">77</text>
<text transform="translate(413 568) scale(1 1)" font-size="4.2" font-weight="bold" text-anchor="middle">K</text>
<path d="M416 565 L419 569 L421 566" fill="none" stroke="#0c0c0c" stroke-width="0.96"/>
<text transform="translate(423.5 583.6) scale(0.93 1)" font-size="9.4" font-weight="bold" text-anchor="middle">24</text>
<path d="M428 579 L436 574.5 L440 577 L431.5 582Z" fill="#e7e7e7" stroke="#0c0c0c" stroke-width="1.08"/>
<path d="M467 580.5 L458 571" fill="none" stroke="#0c0c0c" stroke-width="1.2"/>
<text transform="translate(474 587.4) scale(0.93 1)" font-size="9.4" font-weight="bold" text-anchor="middle">22</text>
<path d="M441 566 L447 563 L452 566 L455 572 L449 577 L443 575Z" fill="#1a1a1a" stroke="#0c0c0c" stroke-width="0.96"/>
<path d="M444 568 L448 566.5 L449.5 570 L446 572Z" fill="#e7e7e7" stroke="#0c0c0c" stroke-width="0.6"/>
<path d="M436 572 L441 569.5 L443 575 L438 578Z" fill="#e7e7e7" stroke="#0c0c0c" stroke-width="1.2"/>
<ellipse cx="433" cy="577.5" rx="1.3" ry="1.6" transform="rotate(0 433 577.5)" fill="#e7e7e7" stroke="#0c0c0c" stroke-width="1.2"/>
<path d="M443.4 577 L443.4 582" fill="none" stroke="#0c0c0c" stroke-width="1.92"/>
<path d="M445.5 582L445.5 587A1.1 2.1 90 0 1 441.3 587L441.3 582A1.1 2.1 90 0 1 445.5 582Z" fill="#e7e7e7" stroke="#0c0c0c" stroke-width="1.56"/>
<ellipse cx="443.4" cy="582" rx="1.1" ry="2.1" transform="rotate(90 443.4 582)" fill="#e7e7e7" stroke="#0c0c0c" stroke-width="1.56"/>
<path d="M444.6 587L444.6 590A0.6 1.2 90 0 1 442.2 590L442.2 587A0.6 1.2 90 0 1 444.6 587Z" fill="#e7e7e7" stroke="#0c0c0c" stroke-width="1.2"/>
<ellipse cx="443.4" cy="587" rx="0.6" ry="1.2" transform="rotate(90 443.4 587)" fill="#e7e7e7" stroke="#0c0c0c" stroke-width="1.2"/>
<path d="M445.6 590L445.6 593A1.1 2.2 90 0 1 441.2 593L441.2 590A1.1 2.2 90 0 1 445.6 590Z" fill="#e7e7e7" stroke="#0c0c0c" stroke-width="1.44"/>
<ellipse cx="443.4" cy="590" rx="1.1" ry="2.2" transform="rotate(90 443.4 590)" fill="#e7e7e7" stroke="#0c0c0c" stroke-width="1.44"/>
<ellipse cx="443.4" cy="597.5" rx="1.4" ry="2.8" transform="rotate(90 443.4 597.5)" fill="#e7e7e7" stroke="#0c0c0c" stroke-width="1.68"/>
<path d="M464 600 L452 600 L446.5 597" fill="none" stroke="#0c0c0c" stroke-width="1.2"/>
<text transform="translate(470.6 602.4) scale(0.93 1)" font-size="9.4" font-weight="bold" text-anchor="middle">23</text>
<path d="M415 614L436 597.5" fill="none" stroke="#0c0c0c" stroke-width="6.72" stroke-linecap="round"/>
<path d="M415 614L436 597.5" fill="none" stroke="#e7e7e7" stroke-width="4.08" stroke-linecap="round"/>
<path d="M426 619L448 603.5" fill="none" stroke="#0c0c0c" stroke-width="6.72" stroke-linecap="round"/>
<path d="M426 619L448 603.5" fill="none" stroke="#e7e7e7" stroke-width="4.08" stroke-linecap="round"/>
<path d="M412 613 C410 619 413 624 418 622 M423 620 C423 625 427 628 431 624" fill="none" stroke="#0c0c0c" stroke-width="1.32"/>
<path d="M452.5 606.5 L449 608.5 L449 616 L441 612" fill="none" stroke="#0c0c0c" stroke-width="1.08"/>
<text transform="translate(460.8 611.6) scale(0.93 1)" font-size="9.4" font-weight="bold" text-anchor="middle">116</text>
<path d="M410.9 581.5L423.9 589.1A0.5 0.8 30.3 0 1 423.1 590.5L410.1 582.9A0.5 0.8 30.3 0 1 410.9 581.5Z" fill="#e7e7e7" stroke="#0c0c0c" stroke-width="0.96"/>
<ellipse cx="410.5" cy="582.2" rx="0.5" ry="0.8" transform="rotate(30.3 410.5 582.2)" fill="#e7e7e7" stroke="#0c0c0c" stroke-width="0.96"/>
<path d="M396.9 617.8L410.4 625.5A0.5 0.8 29.7 0 1 409.6 626.9L396.1 619.2A0.5 0.8 29.7 0 1 396.9 617.8Z" fill="#e7e7e7" stroke="#0c0c0c" stroke-width="0.96"/>
<ellipse cx="396.5" cy="618.5" rx="0.5" ry="0.8" transform="rotate(29.7 396.5 618.5)" fill="#e7e7e7" stroke="#0c0c0c" stroke-width="0.96"/>
<text transform="translate(408 581.5) scale(1 1)" font-size="4.2" font-weight="bold" text-anchor="middle">J</text>
<text transform="translate(393.5 619) scale(1 1)" font-size="4.2" font-weight="bold" text-anchor="middle">K</text>
<path d="M395.5 595.8 L401.5 595.8 L416 588" fill="none" stroke="#0c0c0c" stroke-width="1.08"/>
<path d="M401.5 595.8 L402.5 620" fill="none" stroke="#0c0c0c" stroke-width="1.08"/>
<text transform="translate(390 599.2) scale(0.93 1)" font-size="9.4" font-weight="bold" text-anchor="middle">32</text>
<path d="M419.5 633 C420 627 424 624 427 626 L429 630 C433 626 436 622 441 621 L444 622 C441 626 436 630 431 634 L431.5 640 L427 641 L425 636 L421 638Z" fill="#e7e7e7" stroke="#0c0c0c" stroke-width="1.44"/>
<path d="M388 634 L418 634" fill="none" stroke="#0c0c0c" stroke-width="1.2"/>
<text transform="translate(380.1 636.3) scale(0.93 1)" font-size="9.4" font-weight="bold" text-anchor="middle">30</text>
<path d="M416.5 640 L416.5 650 L424 652" fill="none" stroke="#0c0c0c" stroke-width="0.84"/>
<path d="M427 644 L432 646 L432 657" fill="none" stroke="#0c0c0c" stroke-width="0.84"/>
<path d="M394 653.5 L412 653.5 L410 652 M412 653.5 L410 655" fill="none" stroke="#0c0c0c" stroke-width="1.08"/>
<text transform="translate(385.6 655.3) scale(0.93 1)" font-size="9.4" font-weight="bold" text-anchor="middle">31</text>
<ellipse cx="424" cy="652.5" rx="1.1" ry="1.6" transform="rotate(-30 424 652.5)" fill="#e7e7e7" stroke="#0c0c0c" stroke-width="1.44"/>
<ellipse cx="427.5" cy="654.5" rx="1.3" ry="1.8" transform="rotate(-30 427.5 654.5)" fill="#e7e7e7" stroke="#0c0c0c" stroke-width="1.44"/>
<path d="M419.5 657.5 L428 654" fill="none" stroke="#0c0c0c" stroke-width="1.08"/>
<path d="M441.4 633.6 L445.3 638.7 L448.4 639.6 L481.4 623.9 L483.3 627.8 L487.2 623.9 L490.2 617 L495 615.1 L495.3 609 L492.1 607 L486.6 609.4 L485.3 606 L481.4 607.3 L478.5 612.2 L474.6 617 L475.5 620.9 L446.3 636.3Z" fill="#e7e7e7" stroke="#0c0c0c" stroke-width="1.44"/>
<path d="M474.2 613.5 L479.5 610.2 L480.5 615 L475.5 618.5Z" fill="#161616" stroke="#0c0c0c" stroke-width="0.72"/>
<text transform="translate(468 615.5) scale(1 1)" font-size="4.2" font-weight="bold" text-anchor="middle">H</text>
<ellipse cx="483.5" cy="623.5" rx="1.1" ry="1.4" transform="rotate(0 483.5 623.5)" fill="#e7e7e7" stroke="#0c0c0c" stroke-width="0.96"/>
<path d="M466.5 630 L467 642 L463 642" fill="none" stroke="#0c0c0c" stroke-width="1.2"/>
<text transform="translate(455 647.4) scale(0.93 1)" font-size="9.4" font-weight="bold" text-anchor="middle">21</text>
<path d="M495.6 619A0.8 1.6 88.6 1 1 492.4 619A0.8 1.6 88.6 1 1 495.6 619M495.6 620.3A0.8 1.6 88.6 1 1 492.4 620.4A0.8 1.6 88.6 1 1 495.6 620.3M495.7 621.6A0.8 1.6 88.6 1 1 492.5 621.7A0.8 1.6 88.6 1 1 495.7 621.6M495.7 623A0.8 1.6 88.6 1 1 492.5 623A0.8 1.6 88.6 1 1 495.7 623M495.7 624.3A0.8 1.6 88.6 1 1 492.5 624.4A0.8 1.6 88.6 1 1 495.7 624.3M495.8 625.6A0.8 1.6 88.6 1 1 492.6 625.7A0.8 1.6 88.6 1 1 495.8 625.6M495.8 627A0.8 1.6 88.6 1 1 492.6 627A0.8 1.6 88.6 1 1 495.8 627M495.8 628.3A0.8 1.6 88.6 1 1 492.6 628.4A0.8 1.6 88.6 1 1 495.8 628.3M495.9 629.6A0.8 1.6 88.6 1 1 492.7 629.7A0.8 1.6 88.6 1 1 495.9 629.6M495.9 631A0.8 1.6 88.6 1 1 492.7 631A0.8 1.6 88.6 1 1 495.9 631" fill="none" stroke="#0c0c0c" stroke-width="0.84"/>
<path d="M494.3 632 L494.3 640 C490 646 484 650 478 652" fill="none" stroke="#0c0c0c" stroke-width="1.08"/>
<text transform="translate(471.2 656.2) scale(0.93 1)" font-size="9.4" font-weight="bold" text-anchor="middle">29</text>
<path d="M504.8 608.3 L507.7 610 L526.3 600.9 L540.3 594.6 L544.2 589.7 L541.9 585.6 L532.1 586 L529.3 590.5 L528.2 596.5 L505.5 606Z" fill="#e7e7e7" stroke="#0c0c0c" stroke-width="1.44"/>
<ellipse cx="540.3" cy="589" rx="1" ry="1.2" transform="rotate(0 540.3 589)" fill="#e7e7e7" stroke="#0c0c0c" stroke-width="0.84"/>
<path d="M518.5 588 L521 586.3 L522.5 596" fill="none" stroke="#0c0c0c" stroke-width="1.32"/>
<text transform="translate(511.7 593.1) scale(0.93 1)" font-size="9.4" font-weight="bold" text-anchor="middle">19</text>
<path d="M548.9 590.5L556.2 594.9A1 1.7 31.1 0 1 554.4 597.9L547.1 593.5A1 1.7 31.1 0 1 548.9 590.5Z" fill="#e7e7e7" stroke="#0c0c0c" stroke-width="1.2"/>
<ellipse cx="548" cy="592" rx="1" ry="1.7" transform="rotate(31.1 548 592)" fill="#e7e7e7" stroke="#0c0c0c" stroke-width="1.2"/>
<text transform="translate(556.2 589.1) scale(0.93 1)" font-size="9.4" font-weight="bold" text-anchor="middle">20</text>
<path d="M498 583 L548 612" fill="none" stroke="#0c0c0c" stroke-width="0.72" stroke-dasharray="6 2" stroke-opacity="0.8"/>
<path d="M528.2 602.5A0.8 1.7 90 1 1 524.8 602.5A0.8 1.7 90 1 1 528.2 602.5M528.2 603.9A0.8 1.7 90 1 1 524.8 603.9A0.8 1.7 90 1 1 528.2 603.9M528.2 605.3A0.8 1.7 90 1 1 524.8 605.3A0.8 1.7 90 1 1 528.2 605.3M528.2 606.7A0.8 1.7 90 1 1 524.8 606.7A0.8 1.7 90 1 1 528.2 606.7M528.2 608.1A0.8 1.7 90 1 1 524.8 608.1A0.8 1.7 90 1 1 528.2 608.1M528.2 609.5A0.8 1.7 90 1 1 524.8 609.5A0.8 1.7 90 1 1 528.2 609.5M528.2 610.9A0.8 1.7 90 1 1 524.8 610.9A0.8 1.7 90 1 1 528.2 610.9M528.2 612.2A0.8 1.7 90 1 1 524.8 612.2A0.8 1.7 90 1 1 528.2 612.2M528.2 613.6A0.8 1.7 90 1 1 524.8 613.6A0.8 1.7 90 1 1 528.2 613.6M528.2 615A0.8 1.7 90 1 1 524.8 615A0.8 1.7 90 1 1 528.2 615M528.2 616.4A0.8 1.7 90 1 1 524.8 616.4A0.8 1.7 90 1 1 528.2 616.4M528.2 617.8A0.8 1.7 90 1 1 524.8 617.8A0.8 1.7 90 1 1 528.2 617.8M528.2 619.2A0.8 1.7 90 1 1 524.8 619.2A0.8 1.7 90 1 1 528.2 619.2M528.2 620.6A0.8 1.7 90 1 1 524.8 620.6A0.8 1.7 90 1 1 528.2 620.6M528.2 622A0.8 1.7 90 1 1 524.8 622A0.8 1.7 90 1 1 528.2 622" fill="none" stroke="#0c0c0c" stroke-width="0.84"/>
<path d="M526.5 622 L526.5 628" fill="none" stroke="#0c0c0c" stroke-width="0.84"/>
<path d="M512 631 L525 625" fill="none" stroke="#0c0c0c" stroke-width="1.2"/>
<text transform="translate(506.5 634.4) scale(0.93 1)" font-size="9.4" font-weight="bold" text-anchor="middle">28</text>
<path d="M503.5 646 L508.5 643.5 L510.5 648.5 L505.5 651Z" fill="#e7e7e7" stroke="#0c0c0c" stroke-width="1.32"/>
<path d="M508.9 645L552.4 620.5A0.7 1.2 -29.4 0 1 553.6 622.5L510.1 647A0.7 1.2 -29.4 0 1 508.9 645Z" fill="#e7e7e7" stroke="#0c0c0c" stroke-width="1.08"/>
<ellipse cx="509.5" cy="646" rx="0.7" ry="1.2" transform="rotate(-29.4 509.5 646)" fill="#e7e7e7" stroke="#0c0c0c" stroke-width="1.08"/>
<path d="M540.3 627.4L541.7 629.6M541.4 626.7L542.7 629M542.5 626.1L543.8 628.4M543.6 625.5L544.9 627.7M544.7 624.8L546 627.1M545.8 624.2L547.1 626.4M546.9 623.6L548.2 625.8M548 622.9L549.3 625.2M549.1 622.3L550.4 624.5M550.2 621.6L551.5 623.9M551.3 621L552.6 623.3M552.3 620.4L553.7 622.6" fill="none" stroke="#0c0c0c" stroke-width="0.72"/>
<path d="M482.5 661.5 L503 650" fill="none" stroke="#0c0c0c" stroke-width="1.2"/>
<text transform="translate(476.6 667) scale(0.93 1)" font-size="9.4" font-weight="bold" text-anchor="middle">70</text>
<text transform="translate(543.5 635.4) scale(0.93 1)" font-size="9.4" font-weight="bold" text-anchor="middle">64</text>
<path d="M550 636 L562 622" fill="none" stroke="#0c0c0c" stroke-width="1.2"/>
<path d="M438 671 C438 666 443 664 447 666 L452 669.5 L452 677 L446 680.5 L440 677Z" fill="#e7e7e7" stroke="#0c0c0c" stroke-width="1.32"/>
<path d="M446 673 L452 669.5" fill="none" stroke="#0c0c0c" stroke-width="0.96"/>
<path d="M446 673 L446 680.5" fill="none" stroke="#0c0c0c" stroke-width="0.96"/>
<path d="M434.8 668.6L439.3 671.1A1 1.6 29.1 0 1 437.7 673.9L433.2 671.4A1 1.6 29.1 0 1 434.8 668.6Z" fill="#e7e7e7" stroke="#0c0c0c" stroke-width="1.08"/>
<ellipse cx="434" cy="670" rx="1" ry="1.6" transform="rotate(29.1 434 670)" fill="#e7e7e7" stroke="#0c0c0c" stroke-width="1.08"/>
<path d="M426.5 686 C426 681 431 678 436 679 L446 684 L447 690 L432 699 L427 697Z" fill="#e7e7e7" stroke="#0c0c0c" stroke-width="1.44"/>
<ellipse cx="444.5" cy="684" rx="1.8" ry="2.6" transform="rotate(-30 444.5 684)" fill="#e7e7e7" stroke="#0c0c0c" stroke-width="1.32"/>
<ellipse cx="444.5" cy="684" rx="0.7" ry="1" transform="rotate(-30 444.5 684)" fill="#e7e7e7" stroke="#0c0c0c" stroke-width="0.84"/>
<text transform="translate(452 690.5) scale(1 1)" font-size="4.2" font-weight="bold" text-anchor="middle">J</text>
<path d="M431 688 L431 697" fill="none" stroke="#0c0c0c" stroke-width="0.96"/>
<path d="M449 684 L467 684 L472 680.5" fill="none" stroke="#0c0c0c" stroke-width="1.08"/>
<text transform="translate(479 682.5) scale(0.93 1)" font-size="9.4" font-weight="bold" text-anchor="middle">33</text>
<path d="M430.5 701 L430.5 708" fill="none" stroke="#0c0c0c" stroke-width="1.92"/>
<path d="M434.5 699 L434.5 708" fill="none" stroke="#0c0c0c" stroke-width="1.92"/>
<path d="M429.5 709 L445 709 L465 698.5" fill="none" stroke="#0c0c0c" stroke-width="1.08"/>
<text transform="translate(473.5 701.6) scale(0.93 1)" font-size="9.4" font-weight="bold" text-anchor="middle">34</text>
<path d="M427.5 715 L427.5 721" fill="none" stroke="#0c0c0c" stroke-width="1.68"/>
<ellipse cx="427.5" cy="722.5" rx="1.2" ry="2" transform="rotate(90 427.5 722.5)" fill="#e7e7e7" stroke="#0c0c0c" stroke-width="1.2"/>
<path d="M430 723.5 L438 727.5 L447.5 722.5" fill="none" stroke="#0c0c0c" stroke-width="1.08"/>
<text transform="translate(455.5 728.1) scale(0.93 1)" font-size="9.4" font-weight="bold" text-anchor="middle">39</text>
<ellipse cx="420" cy="684.3" rx="0.8" ry="1.3" transform="rotate(90 420 684.3)" fill="#0c0c0c" stroke="#0c0c0c" stroke-width="0.96"/>
<path d="M377 671 L393.6 684.3 L418 684.3" fill="none" stroke="#0c0c0c" stroke-width="1.2"/>
<text transform="translate(370.2 671.3) scale(0.93 1)" font-size="9.4" font-weight="bold" text-anchor="middle">41</text>
<ellipse cx="419" cy="691" rx="1.4" ry="2.7" transform="rotate(90 419 691)" fill="#e7e7e7" stroke="#0c0c0c" stroke-width="1.8"/>
<path d="M378 686 L389.7 691.2 L415.5 691.2" fill="none" stroke="#0c0c0c" stroke-width="1.2"/>
<text transform="translate(370.2 686.7) scale(0.93 1)" font-size="9.4" font-weight="bold" text-anchor="middle">40</text>
<ellipse cx="419.4" cy="696.8" rx="1.4" ry="2.7" transform="rotate(90 419.4 696.8)" fill="#e7e7e7" stroke="#0c0c0c" stroke-width="1.92"/>
<path d="M378 696.6 L415.8 696.6" fill="none" stroke="#0c0c0c" stroke-width="1.2"/>
<text transform="translate(369.8 699.5) scale(0.93 1)" font-size="9.4" font-weight="bold" text-anchor="middle">58</text>
<path d="M419.5 699 L417.5 704" fill="none" stroke="#0c0c0c" stroke-width="0.84"/>
<path d="M411.5 709.5 C411 705 416 703 419 704.5 L424.5 708 L416 713Z" fill="#e7e7e7" stroke="#0c0c0c" stroke-width="1.44"/>
<circle cx="417" cy="708" r="0.9" fill="#e7e7e7" stroke="#0c0c0c" stroke-width="0.84"/>
<path d="M376 707.5 L411 708.5" fill="none" stroke="#0c0c0c" stroke-width="1.2"/>
<text transform="translate(367.3 710.6) scale(0.93 1)" font-size="9.4" font-weight="bold" text-anchor="middle">35</text>
<path d="M417.4 716L417.4 722A1.2 2.4 90 0 1 412.6 722L412.6 716A1.2 2.4 90 0 1 417.4 716Z" fill="#e7e7e7" stroke="#0c0c0c" stroke-width="1.32"/>
<ellipse cx="415" cy="716" rx="1.2" ry="2.4" transform="rotate(90 415 716)" fill="#e7e7e7" stroke="#0c0c0c" stroke-width="1.32"/>
<path d="M376 719.5 L412.5 719.5" fill="none" stroke="#0c0c0c" stroke-width="1.2"/>
<text transform="translate(367.3 722.7) scale(0.93 1)" font-size="9.4" font-weight="bold" text-anchor="middle">36</text>
<path d="M417.8 728L417.8 740A1.1 2.3 90 0 1 413.2 740L413.2 728A1.1 2.3 90 0 1 417.8 728Z" fill="#e7e7e7" stroke="#0c0c0c" stroke-width="1.32"/>
<ellipse cx="415.5" cy="728" rx="1.1" ry="2.3" transform="rotate(90 415.5 728)" fill="#e7e7e7" stroke="#0c0c0c" stroke-width="1.32"/>
<path d="M418 727 L418 741" fill="none" stroke="#0c0c0c" stroke-width="1.44"/>
<path d="M376 734.5 L413 734.5" fill="none" stroke="#0c0c0c" stroke-width="1.2"/>
<text transform="translate(367.9 737.9) scale(0.93 1)" font-size="9.4" font-weight="bold" text-anchor="middle">37</text>
<path d="M416.4 744L416.4 756A0.5 0.9 90 0 1 414.6 756L414.6 744A0.5 0.9 90 0 1 416.4 744Z" fill="#e7e7e7" stroke="#0c0c0c" stroke-width="1.08"/>
<ellipse cx="415.5" cy="744" rx="0.5" ry="0.9" transform="rotate(90 415.5 744)" fill="#e7e7e7" stroke="#0c0c0c" stroke-width="1.08"/>
<ellipse cx="415.5" cy="758" rx="1.2" ry="2.4" transform="rotate(90 415.5 758)" fill="#e7e7e7" stroke="#0c0c0c" stroke-width="1.92"/>
<path d="M378 750.5 L414 750.5" fill="none" stroke="#0c0c0c" stroke-width="1.2"/>
<text transform="translate(369.6 753.9) scale(0.93 1)" font-size="9.4" font-weight="bold" text-anchor="middle">38</text>
<text transform="translate(678.8 435.6) scale(0.93 1)" font-size="9.4" font-weight="bold" text-anchor="middle">44</text>
<text transform="translate(688.2 441.3) scale(0.93 1)" font-size="9.4" font-weight="bold" text-anchor="middle">42</text>
<text transform="translate(698 446.9) scale(0.93 1)" font-size="9.4" font-weight="bold" text-anchor="middle">43</text>
<text transform="translate(708.5 452.7) scale(0.93 1)" font-size="9.4" font-weight="bold" text-anchor="middle">57</text>
<text transform="translate(721.7 455.4) scale(0.93 1)" font-size="9.4" font-weight="bold" text-anchor="middle">52</text>
<path d="M676 437 L638.5 461.5" fill="none" stroke="#0c0c0c" stroke-width="1.2"/>
<path d="M686 442.5 L652 464" fill="none" stroke="#0c0c0c" stroke-width="1.2"/>
<path d="M695 448.5 L664.5 478" fill="none" stroke="#0c0c0c" stroke-width="1.2"/>
<path d="M706 454 L668 487.5" fill="none" stroke="#0c0c0c" stroke-width="1.2"/>
<path d="M716.5 456.5 L672 489.5 L642 486" fill="none" stroke="#0c0c0c" stroke-width="1.2"/>
<path d="M664.4 433.8 L727 468" fill="none" stroke="#0c0c0c" stroke-width="0.72" stroke-dasharray="8 2" stroke-opacity="0.8"/>
<path d="M646 461.5 C647 459 650 459 650.5 462 L650 470 L651.5 473 L651 484 C650 487.5 646 487.5 645.5 484 L646 475 L644.5 471Z" fill="#e7e7e7" stroke="#0c0c0c" stroke-width="2.04"/>
<circle cx="648" cy="463.5" r="0.8" fill="#e7e7e7" stroke="#0c0c0c" stroke-width="0.84"/>
<circle cx="648.2" cy="483.5" r="0.8" fill="#e7e7e7" stroke="#0c0c0c" stroke-width="0.84"/>
<path d="M634.5 463.5 L637 487 L643 489" fill="none" stroke="#0c0c0c" stroke-width="1.08"/>
<ellipse cx="638.5" cy="466.5" rx="1.1" ry="1.6" transform="rotate(-30 638.5 466.5)" fill="#e7e7e7" stroke="#0c0c0c" stroke-width="1.8"/>
<ellipse cx="637" cy="479" rx="1.1" ry="1.6" transform="rotate(-30 637 479)" fill="#e7e7e7" stroke="#0c0c0c" stroke-width="1.8"/>
<path d="M661 478.7L668 481.9A0.7 1.2 24.6 0 1 667 484.1L660 480.9A0.7 1.2 24.6 0 1 661 478.7Z" fill="#e7e7e7" stroke="#0c0c0c" stroke-width="1.08"/>
<ellipse cx="660.5" cy="479.8" rx="0.7" ry="1.2" transform="rotate(24.6 660.5 479.8)" fill="#e7e7e7" stroke="#0c0c0c" stroke-width="1.08"/>
<text transform="translate(671 487.5) scale(1 1)" font-size="4.2" font-weight="bold" text-anchor="middle">A</text>
<path d="M654.5 487.2L661 490.2A0.7 1.2 24.8 0 1 660 492.4L653.5 489.4A0.7 1.2 24.8 0 1 654.5 487.2Z" fill="#e7e7e7" stroke="#0c0c0c" stroke-width="1.08"/>
<ellipse cx="654" cy="488.3" rx="0.7" ry="1.2" transform="rotate(24.8 654 488.3)" fill="#e7e7e7" stroke="#0c0c0c" stroke-width="1.08"/>
<path d="M650 476 L660 480" fill="none" stroke="#0c0c0c" stroke-width="0.6" stroke-dasharray="3 1.5" stroke-opacity="0.8"/>
<path d="M626.5 488 L638 483.5 L641.5 485.5 L640 489 L629 493.5Z" fill="#e7e7e7" stroke="#0c0c0c" stroke-width="1.2"/>
<ellipse cx="638.5" cy="486.5" rx="0.8" ry="1" transform="rotate(0 638.5 486.5)" fill="#e7e7e7" stroke="#0c0c0c" stroke-width="0.72"/>
<text transform="translate(616.8 480.2) scale(0.93 1)" font-size="9.4" font-weight="bold" text-anchor="middle">54</text>
<text transform="translate(654.5 444) scale(1 1)" font-size="4.2" font-weight="bold" text-anchor="middle">A</text>
<text transform="translate(633 459.5) scale(1 1)" font-size="4.2" font-weight="bold" text-anchor="middle">B</text>
<text transform="translate(627 454) scale(1 1)" font-size="4.2" font-weight="bold" text-anchor="middle">K</text>
<text transform="translate(613 467.5) scale(1 1)" font-size="4.2" font-weight="bold" text-anchor="middle">A,C</text>
<text transform="translate(597 485) scale(1 1)" font-size="4.2" font-weight="bold" text-anchor="middle">D</text>
<path d="M649 438.5 L632.5 452.5" fill="none" stroke="#0c0c0c" stroke-width="0.96"/>
<path d="M631 460.5 L598 481" fill="none" stroke="#0c0c0c" stroke-width="0.96"/>
<path d="M602.5 483.5L607.5 486A0.7 1.1 26.6 0 1 606.5 488L601.5 485.5A0.7 1.1 26.6 0 1 602.5 483.5Z" fill="#e7e7e7" stroke="#0c0c0c" stroke-width="1.2"/>
<ellipse cx="602" cy="484.5" rx="0.7" ry="1.1" transform="rotate(26.6 602 484.5)" fill="#e7e7e7" stroke="#0c0c0c" stroke-width="1.2"/>
<ellipse cx="612" cy="488.5" rx="1.5" ry="2.1" transform="rotate(-30 612 488.5)" fill="#e7e7e7" stroke="#0c0c0c" stroke-width="2.16"/>
<text transform="translate(607.5 483.5) scale(1 1)" font-size="4.2" font-weight="bold" text-anchor="middle">F</text>
<ellipse cx="594" cy="490.5" rx="1.3" ry="1.8" transform="rotate(-30 594 490.5)" fill="#e7e7e7" stroke="#0c0c0c" stroke-width="1.8"/>
<path d="M595.4 490.1L600.4 492.6A0.6 1 26.6 0 1 599.6 494.4L594.6 491.9A0.6 1 26.6 0 1 595.4 490.1Z" fill="#e7e7e7" stroke="#0c0c0c" stroke-width="1.08"/>
<ellipse cx="595" cy="491" rx="0.6" ry="1" transform="rotate(26.6 595 491)" fill="#e7e7e7" stroke="#0c0c0c" stroke-width="1.08"/>
<ellipse cx="602" cy="496" rx="1.5" ry="2.1" transform="rotate(-30 602 496)" fill="#e7e7e7" stroke="#0c0c0c" stroke-width="2.16"/>
<path d="M593.5 500 L599 497" fill="none" stroke="#0c0c0c" stroke-width="1.2"/>
<text transform="translate(588.8 504.4) scale(0.93 1)" font-size="9.4" font-weight="bold" text-anchor="middle">26</text>
<path d="M615 497 L625 491.5 L626.5 498 L616.5 503Z" fill="#e7e7e7" stroke="#0c0c0c" stroke-width="1.08"/>
<path d="M614.9 498.1L617.1 501.9M616.3 497.3L618.4 501.2M617.7 496.6L619.8 500.4M619 495.8L621.1 499.7M620.4 495.1L622.5 499M621.7 494.4L623.8 498.2M623.1 493.6L625.2 497.5M624.4 492.9L626.6 496.7" fill="none" stroke="#0c0c0c" stroke-width="0.72"/>
<ellipse cx="609" cy="502.5" rx="1.4" ry="2" transform="rotate(-30 609 502.5)" fill="#e7e7e7" stroke="#0c0c0c" stroke-width="1.56"/>
<text transform="translate(622.3 509.9) scale(0.93 1)" font-size="9.4" font-weight="bold" text-anchor="middle">53</text>
<ellipse cx="632.5" cy="505.5" rx="1.4" ry="2" transform="rotate(-30 632.5 505.5)" fill="#e7e7e7" stroke="#0c0c0c" stroke-width="2.16"/>
<path d="M645.5 501.5 L635 505" fill="none" stroke="#0c0c0c" stroke-width="1.2"/>
<text transform="translate(651.7 504.4) scale(0.93 1)" font-size="9.4" font-weight="bold" text-anchor="middle">44</text>
<path d="M629 513 L633 510 L640 508 L637 512Z" fill="#e7e7e7" stroke="#0c0c0c" stroke-width="1.2"/>
<path d="M650 508.5 L640 509" fill="none" stroke="#0c0c0c" stroke-width="1.2"/>
<text transform="translate(656 511.4) scale(0.93 1)" font-size="9.4" font-weight="bold" text-anchor="middle">46</text>
<path d="M633.9 519.9A0.7 1.3 -29.1 1 1 635.1 522.1A0.7 1.3 -29.1 1 1 633.9 519.9M635 519.2A0.7 1.3 -29.1 1 1 636.3 521.5A0.7 1.3 -29.1 1 1 635 519.2M636.1 518.6A0.7 1.3 -29.1 1 1 637.4 520.9A0.7 1.3 -29.1 1 1 636.1 518.6M637.2 518A0.7 1.3 -29.1 1 1 638.5 520.3A0.7 1.3 -29.1 1 1 637.2 518M638.4 517.4A0.7 1.3 -29.1 1 1 639.6 519.6A0.7 1.3 -29.1 1 1 638.4 517.4M639.5 516.7A0.7 1.3 -29.1 1 1 640.8 519A0.7 1.3 -29.1 1 1 639.5 516.7M640.6 516.1A0.7 1.3 -29.1 1 1 641.9 518.4A0.7 1.3 -29.1 1 1 640.6 516.1M641.7 515.5A0.7 1.3 -29.1 1 1 643 517.8A0.7 1.3 -29.1 1 1 641.7 515.5M642.9 514.9A0.7 1.3 -29.1 1 1 644.1 517.1A0.7 1.3 -29.1 1 1 642.9 514.9" fill="none" stroke="#0c0c0c" stroke-width="0.84"/>
<path d="M666 513.5 L646 513.5" fill="none" stroke="#0c0c0c" stroke-width="1.2"/>
<text transform="translate(672.7 516.8) scale(0.93 1)" font-size="9.4" font-weight="bold" text-anchor="middle">47</text>
<path d="M650.5 516.4L657.5 519.9A0.7 1.2 26.6 0 1 656.5 522.1L649.5 518.6A0.7 1.2 26.6 0 1 650.5 516.4Z" fill="#e7e7e7" stroke="#0c0c0c" stroke-width="1.08"/>
<ellipse cx="650" cy="517.5" rx="0.7" ry="1.2" transform="rotate(26.6 650 517.5)" fill="#e7e7e7" stroke="#0c0c0c" stroke-width="1.08"/>
<text transform="translate(661 525.5) scale(1 1)" font-size="4.2" font-weight="bold" text-anchor="middle">B</text>
<path d="M658 525 L670 525" fill="none" stroke="#0c0c0c" stroke-width="1.2"/>
<text transform="translate(677.8 528.4) scale(0.93 1)" font-size="9.4" font-weight="bold" text-anchor="middle">43</text>
<path d="M613 516 L621 520.5 L629 516.5" fill="none" stroke="#0c0c0c" stroke-width="0.72" stroke-dasharray="4 2" stroke-opacity="0.8"/>
<ellipse cx="600.5" cy="522.5" rx="1.4" ry="2" transform="rotate(-30 600.5 522.5)" fill="#e7e7e7" stroke="#0c0c0c" stroke-width="1.92"/>
<text transform="translate(592.2 526.8) scale(0.93 1)" font-size="9.4" font-weight="bold" text-anchor="middle">49</text>
<path d="M604.5 511 C604.5 507.5 609 507.5 609.5 510 L613.5 518 L613.5 531 L609 536.5 L605 535Z" fill="#e7e7e7" stroke="#0c0c0c" stroke-width="2.04"/>
<path d="M608.5 510 L608.5 535" fill="none" stroke="#0c0c0c" stroke-width="1.08"/>
<text transform="translate(610.5 526.5) scale(1 1)" font-size="4.2" font-weight="bold" text-anchor="middle">A</text>
<path d="M600 532 L605 531" fill="none" stroke="#0c0c0c" stroke-width="1.2"/>
<text transform="translate(594.6 535.7) scale(0.93 1)" font-size="9.4" font-weight="bold" text-anchor="middle">45</text>
<path d="M617.7 526.6L627.7 531.6A1 1.6 26.6 0 1 626.3 534.4L616.3 529.4A1 1.6 26.6 0 1 617.7 526.6Z" fill="#e7e7e7" stroke="#0c0c0c" stroke-width="1.2"/>
<ellipse cx="617" cy="528" rx="1" ry="1.6" transform="rotate(26.6 617 528)" fill="#e7e7e7" stroke="#0c0c0c" stroke-width="1.2"/>
<text transform="translate(635 538.7) scale(0.93 1)" font-size="9.4" font-weight="bold" text-anchor="middle">48</text>
<path d="M605 538 L605 545" fill="none" stroke="#0c0c0c" stroke-width="0.72" stroke-dasharray="3 2" stroke-opacity="0.8"/>
<path d="M613 541 L628 533.5" fill="none" stroke="#0c0c0c" stroke-width="0.72" stroke-dasharray="4 2" stroke-opacity="0.8"/>
<path d="M587 548 C587 545.5 590 544 592 545.5 L596 549 L615 541 L613.5 538.5 L619.5 538.5 L621 541.5 L598 552.5 L594 555 L589 552Z" fill="#e7e7e7" stroke="#0c0c0c" stroke-width="1.44"/>
<ellipse cx="590.5" cy="548.5" rx="1.2" ry="1.5" transform="rotate(0 590.5 548.5)" fill="#e7e7e7" stroke="#0c0c0c" stroke-width="1.08"/>
<path d="M616.5 544 L620 549" fill="none" stroke="#0c0c0c" stroke-width="1.2"/>
<text transform="translate(623.4 556.6) scale(0.93 1)" font-size="9.4" font-weight="bold" text-anchor="middle">50</text>
<ellipse cx="582.5" cy="546.5" rx="1.1" ry="1.6" transform="rotate(-30 582.5 546.5)" fill="#e7e7e7" stroke="#0c0c0c" stroke-width="1.92"/>
<path d="M583 549 L582 558" fill="none" stroke="#0c0c0c" stroke-width="1.2"/>
<text transform="translate(583 567) scale(0.93 1)" font-size="9.4" font-weight="bold" text-anchor="middle">44</text>
<path d="M604 557.7L610.5 560.9A0.7 1.2 26.2 0 1 609.5 563.1L603 559.9A0.7 1.2 26.2 0 1 604 557.7Z" fill="#e7e7e7" stroke="#0c0c0c" stroke-width="1.08"/>
<ellipse cx="603.5" cy="558.8" rx="0.7" ry="1.2" transform="rotate(26.2 603.5 558.8)" fill="#e7e7e7" stroke="#0c0c0c" stroke-width="1.08"/>
<text transform="translate(614.5 566) scale(1 1)" font-size="4.2" font-weight="bold" text-anchor="middle">D</text>
<path d="M600 566 L605 561.5" fill="none" stroke="#0c0c0c" stroke-width="1.2"/>
<text transform="translate(597.6 573.4) scale(0.93 1)" font-size="9.4" font-weight="bold" text-anchor="middle">43</text>
<path d="M733.4 473.9L742.9 479.2A1.1 1.8 29.2 0 1 741.1 482.4L731.6 477.1A1.1 1.8 29.2 0 1 733.4 473.9Z" fill="#e7e7e7" stroke="#0c0c0c" stroke-width="1.32"/>
<ellipse cx="732.5" cy="475.5" rx="1.1" ry="1.8" transform="rotate(29.2 732.5 475.5)" fill="#e7e7e7" stroke="#0c0c0c" stroke-width="1.32"/>
<path d="M743.6 477.9L753.1 483.3A2 3.3 29.6 0 1 749.9 489.1L740.4 483.7A2 3.3 29.6 0 1 743.6 477.9Z" fill="#e7e7e7" stroke="#0c0c0c" stroke-width="1.44"/>
<ellipse cx="742" cy="480.8" rx="2" ry="3.3" transform="rotate(29.6 742 480.8)" fill="#e7e7e7" stroke="#0c0c0c" stroke-width="1.44"/>
<ellipse cx="749.5" cy="486" rx="0.8" ry="1.2" transform="rotate(-30 749.5 486)" fill="#e7e7e7" stroke="#0c0c0c" stroke-width="1.08"/>
<ellipse cx="751.5" cy="483" rx="0.7" ry="1" transform="rotate(-30 751.5 483)" fill="#e7e7e7" stroke="#0c0c0c" stroke-width="1.08"/>
<ellipse cx="747" cy="483" rx="0.6" ry="0.9" transform="rotate(-30 747 483)" fill="#e7e7e7" stroke="#0c0c0c" stroke-width="0.96"/>
<path d="M757.5 471.5 L747 478.5" fill="none" stroke="#0c0c0c" stroke-width="1.2"/>
<path d="M726 468 L731 471" fill="none" stroke="#0c0c0c" stroke-width="0.6"/>
<text transform="translate(762.4 470.1) scale(0.93 1)" font-size="9.4" font-weight="bold" text-anchor="middle">67</text>
<path d="M753 487.5 L763 493" fill="none" stroke="#0c0c0c" stroke-width="0.6"/>
<path d="M768.4 476.5L768.4 487A0.5 0.9 90 0 1 766.6 487L766.6 476.5A0.5 0.9 90 0 1 768.4 476.5Z" fill="#e7e7e7" stroke="#0c0c0c" stroke-width="1.08"/>
<ellipse cx="767.5" cy="476.5" rx="0.5" ry="0.9" transform="rotate(90 767.5 476.5)" fill="#e7e7e7" stroke="#0c0c0c" stroke-width="1.08"/>
<path d="M776.5 473.5 L769 479.5" fill="none" stroke="#0c0c0c" stroke-width="1.2"/>
<text transform="translate(782 475.6) scale(0.93 1)" font-size="9.4" font-weight="bold" text-anchor="middle">69</text>
<path d="M749 505 C747.5 501 750 498 753 497 L765 491.5 C769 491 772 494 772 498 L771 502 L757 509 C753 510 750 508 749 505Z" fill="#e7e7e7" stroke="#0c0c0c" stroke-width="1.44"/>
<ellipse cx="752.5" cy="504.5" rx="1.1" ry="1.6" transform="rotate(-30 752.5 504.5)" fill="#e7e7e7" stroke="#0c0c0c" stroke-width="1.2"/>
<ellipse cx="767" cy="492.5" rx="0.8" ry="1.6" transform="rotate(90 767 492.5)" fill="#e7e7e7" stroke="#0c0c0c" stroke-width="1.08"/>
<ellipse cx="767.5" cy="500" rx="1.3" ry="1.8" transform="rotate(-30 767.5 500)" fill="#e7e7e7" stroke="#0c0c0c" stroke-width="1.2"/>
<path d="M780.5 486.5 L770 491.5" fill="none" stroke="#0c0c0c" stroke-width="1.2"/>
<text transform="translate(786.4 488.5) scale(0.93 1)" font-size="9.4" font-weight="bold" text-anchor="middle">68</text>
<path d="M763 492.5 L756 489" fill="none" stroke="#0c0c0c" stroke-width="0.6"/>
<path d="M731.5 512.4L744 505.4A1.9 3 -29.2 0 1 747 510.6L734.5 517.6A1.9 3 -29.2 0 1 731.5 512.4Z" fill="#e7e7e7" stroke="#0c0c0c" stroke-width="1.32"/>
<ellipse cx="733" cy="515" rx="1.9" ry="3" transform="rotate(-29.2 733 515)" fill="#e7e7e7" stroke="#0c0c0c" stroke-width="1.32"/>
<ellipse cx="733" cy="515" rx="1" ry="1.6" transform="rotate(-30 733 515)" fill="#e7e7e7" stroke="#0c0c0c" stroke-width="0.96"/>
<path d="M736.5 501.5 L739.5 508" fill="none" stroke="#0c0c0c" stroke-width="1.2"/>
<text transform="translate(734.5 500.2) scale(0.93 1)" font-size="9.4" font-weight="bold" text-anchor="middle">72</text>
<path d="M709.6 525.1A1.7 2.8 -29.1 1 1 712.4 529.9A1.7 2.8 -29.1 1 1 709.6 525.1M711.9 523.8A1.7 2.8 -29.1 1 1 714.6 528.7A1.7 2.8 -29.1 1 1 711.9 523.8M714.1 522.6A1.7 2.8 -29.1 1 1 716.9 527.4A1.7 2.8 -29.1 1 1 714.1 522.6M716.4 521.3A1.7 2.8 -29.1 1 1 719.1 526.2A1.7 2.8 -29.1 1 1 716.4 521.3M718.6 520.1A1.7 2.8 -29.1 1 1 721.4 524.9A1.7 2.8 -29.1 1 1 718.6 520.1M720.9 518.8A1.7 2.8 -29.1 1 1 723.6 523.7A1.7 2.8 -29.1 1 1 720.9 518.8M723.1 517.6A1.7 2.8 -29.1 1 1 725.9 522.4A1.7 2.8 -29.1 1 1 723.1 517.6M725.4 516.3A1.7 2.8 -29.1 1 1 728.1 521.2A1.7 2.8 -29.1 1 1 725.4 516.3M727.6 515.1A1.7 2.8 -29.1 1 1 730.4 519.9A1.7 2.8 -29.1 1 1 727.6 515.1" fill="none" stroke="#0c0c0c" stroke-width="1.56"/>
<path d="M706.5 502.5 L710.5 499.5" fill="none" stroke="#0c0c0c" stroke-width="1.2"/>
<path d="M706.5 502.5 L718 520" fill="none" stroke="#0c0c0c" stroke-width="1.2"/>
<text transform="translate(710.5 500.2) scale(0.93 1)" font-size="9.4" font-weight="bold" text-anchor="middle">71</text>
<ellipse cx="749.5" cy="517" rx="0.8" ry="1.2" transform="rotate(-30 749.5 517)" fill="#e7e7e7" stroke="#0c0c0c" stroke-width="1.56"/>
<path d="M771.5 508.5 L752 516.5" fill="none" stroke="#0c0c0c" stroke-width="1.2"/>
<text transform="translate(777.8 508.1) scale(0.93 1)" font-size="9.4" font-weight="bold" text-anchor="middle">62</text>
<path d="M752 518 L762 519.5 L768 521.5" fill="none" stroke="#0c0c0c" stroke-width="0.96"/>
<path d="M768 521.5 L797 507.5 L799 509 L798.5 501" fill="none" stroke="#0c0c0c" stroke-width="1.56"/>
<path d="M770 522.5 L798 508.5" fill="none" stroke="#0c0c0c" stroke-width="0.84"/>
<path d="M815.5 497.5 L800.5 506.5" fill="none" stroke="#0c0c0c" stroke-width="1.2"/>
<text transform="translate(821 498.6) scale(0.93 1)" font-size="9.4" font-weight="bold" text-anchor="middle">61</text>
<ellipse cx="761.5" cy="544" rx="0.9" ry="1.9" transform="rotate(90 761.5 544)" fill="#e7e7e7" stroke="#0c0c0c" stroke-width="1.8"/>
<path d="M768.5 538.5 L764.5 542.5" fill="none" stroke="#0c0c0c" stroke-width="1.2"/>
<text transform="translate(774.6 538.2) scale(0.93 1)" font-size="9.4" font-weight="bold" text-anchor="middle">93</text>
<path d="M579.5 600 L706 529 L710 531.5 L710.8 539.5 L584 609 L580 606.5Z" fill="#e7e7e7" stroke="#0c0c0c" stroke-width="1.32"/>
<path d="M583.2 603 L710 531.5 L710.8 539.5 L584 609Z" fill="#a2a2a2" stroke="#0c0c0c" stroke-width="1.08"/>
<path d="M582.1 603.4L585.1 608.6M583.4 602.7L586.3 607.9M584.6 602L587.5 607.3M585.8 601.3L588.8 606.6M587.1 600.6L590 605.9M588.3 600L591.2 605.2M589.5 599.3L592.4 604.5M590.8 598.6L593.7 603.8M592 597.9L594.9 603.1M593.2 597.2L596.1 602.5M594.5 596.5L597.4 601.8M595.7 595.8L598.6 601.1M596.9 595.2L599.8 600.4M598.1 594.5L601.1 599.7M599.4 593.8L602.3 599M600.6 593.1L603.5 598.4M601.8 592.4L604.8 597.7M603.1 591.7L606 597M604.3 591.1L607.2 596.3M605.5 590.4L608.4 595.6M606.8 589.7L609.7 594.9M608 589L610.9 594.2M609.2 588.3L612.1 593.6M610.5 587.6L613.4 592.9M611.7 587L614.6 592.2M612.9 586.3L615.8 591.5M614.1 585.6L617.1 590.8M615.4 584.9L618.3 590.1M616.6 584.2L619.5 589.5M617.8 583.5L620.8 588.8M619.1 582.8L622 588.1M620.3 582.2L623.2 587.4M621.5 581.5L624.5 586.7M622.8 580.8L625.7 586M624 580.1L626.9 585.4M625.2 579.4L628.1 584.7M626.5 578.7L629.4 584M627.7 578.1L630.6 583.3M628.9 577.4L631.8 582.6M630.2 576.7L633.1 581.9M631.4 576L634.3 581.2M632.6 575.3L635.5 580.6M633.8 574.6L636.8 579.9M635.1 573.9L638 579.2M636.3 573.3L639.2 578.5M637.5 572.6L640.5 577.8M638.8 571.9L641.7 577.1M640 571.2L642.9 576.5M641.2 570.5L644.1 575.8M642.5 569.8L645.4 575.1M643.7 569.2L646.6 574.4M644.9 568.5L647.8 573.7M646.2 567.8L649.1 573M647.4 567.1L650.3 572.3M648.6 566.4L651.5 571.7M649.9 565.7L652.8 571M651.1 565L654 570.3M652.3 564.4L655.2 569.6M653.5 563.7L656.5 568.9M654.8 563L657.7 568.2M656 562.3L658.9 567.6M657.2 561.6L660.2 566.9M658.5 560.9L661.4 566.2M659.7 560.3L662.6 565.5M660.9 559.6L663.8 564.8M662.2 558.9L665.1 564.1M663.4 558.2L666.3 563.4M664.6 557.5L667.5 562.8M665.9 556.8L668.8 562.1M667.1 556.1L670 561.4M668.3 555.5L671.2 560.7M669.5 554.8L672.5 560M670.8 554.1L673.7 559.3M672 553.4L674.9 558.7M673.2 552.7L676.2 558M674.5 552L677.4 557.3M675.7 551.4L678.6 556.6M676.9 550.7L679.9 555.9M678.2 550L681.1 555.2M679.4 549.3L682.3 554.5M680.6 548.6L683.5 553.9M681.9 547.9L684.8 553.2M683.1 547.3L686 552.5M684.3 546.6L687.2 551.8M685.6 545.9L688.5 551.1M686.8 545.2L689.7 550.4M688 544.5L690.9 549.8M689.2 543.8L692.2 549.1M690.5 543.1L693.4 548.4M691.7 542.5L694.6 547.7M692.9 541.8L695.9 547M694.2 541.1L697.1 546.3M695.4 540.4L698.3 545.7M696.6 539.7L699.5 545M697.9 539L700.8 544.3M699.1 538.4L702 543.6M700.3 537.7L703.2 542.9M701.6 537L704.5 542.2M702.8 536.3L705.7 541.5M704 535.6L706.9 540.9M705.2 534.9L708.2 540.2M706.5 534.2L709.4 539.5M707.7 533.6L710.6 538.8M708.9 532.9L711.9 538.1" fill="none" stroke="#666" stroke-width="0.48"/>
<path d="M583 622 L753.5 526.5 L767 517.8 L771 520.5 L757 529.5 L757.5 539 L589 634 L584 631Z" fill="#e7e7e7" stroke="#0c0c0c" stroke-width="1.32"/>
<path d="M753.5 526.5 L757 529.5" fill="none" stroke="#0c0c0c" stroke-width="1.08"/>
<path d="M588.5 624.5 L757 529.5 L757.5 539 L589 634Z" fill="#a2a2a2" stroke="#0c0c0c" stroke-width="1.08"/>
<path d="M586.7 625.6L590.9 633M588 625L592.1 632.3M589.2 624.3L593.3 631.6M590.4 623.6L594.5 630.9M591.6 622.9L595.7 630.2M592.8 622.2L597 629.5M594.1 621.5L598.2 628.8M595.3 620.8L599.4 628.1M596.5 620.1L600.6 627.5M597.7 619.4L601.9 626.8M598.9 618.8L603.1 626.1M600.2 618.1L604.3 625.4M601.4 617.4L605.5 624.7M602.6 616.7L606.7 624M603.8 616L608 623.3M605.1 615.3L609.2 622.6M606.3 614.6L610.4 621.9M607.5 613.9L611.6 621.3M608.7 613.3L612.8 620.6M609.9 612.6L614.1 619.9M611.2 611.9L615.3 619.2M612.4 611.2L616.5 618.5M613.6 610.5L617.7 617.8M614.8 609.8L618.9 617.1M616 609.1L620.2 616.4M617.3 608.4L621.4 615.7M618.5 607.7L622.6 615.1M619.7 607.1L623.8 614.4M620.9 606.4L625.1 613.7M622.1 605.7L626.3 613M623.4 605L627.5 612.3M624.6 604.3L628.7 611.6M625.8 603.6L629.9 610.9M627 602.9L631.2 610.2M628.3 602.2L632.4 609.6M629.5 601.5L633.6 608.9M630.7 600.9L634.8 608.2M631.9 600.2L636 607.5M633.1 599.5L637.3 606.8M634.4 598.8L638.5 606.1M635.6 598.1L639.7 605.4M636.8 597.4L640.9 604.7M638 596.7L642.1 604M639.2 596L643.4 603.4M640.5 595.4L644.6 602.7M641.7 594.7L645.8 602M642.9 594L647 601.3M644.1 593.3L648.3 600.6M645.3 592.6L649.5 599.9M646.6 591.9L650.7 599.2M647.8 591.2L651.9 598.5M649 590.5L653.1 597.8M650.2 589.8L654.4 597.2M651.5 589.2L655.6 596.5M652.7 588.5L656.8 595.8M653.9 587.8L658 595.1M655.1 587.1L659.2 594.4M656.3 586.4L660.5 593.7M657.6 585.7L661.7 593M658.8 585L662.9 592.3M660 584.3L664.1 591.7M661.2 583.6L665.3 591M662.4 583L666.6 590.3M663.7 582.3L667.8 589.6M664.9 581.6L669 588.9M666.1 580.9L670.2 588.2M667.3 580.2L671.4 587.5M668.5 579.5L672.7 586.8M669.8 578.8L673.9 586.1M671 578.1L675.1 585.5M672.2 577.5L676.3 584.8M673.4 576.8L677.6 584.1M674.7 576.1L678.8 583.4M675.9 575.4L680 582.7M677.1 574.7L681.2 582M678.3 574L682.4 581.3M679.5 573.3L683.7 580.6M680.8 572.6L684.9 580M682 571.9L686.1 579.3M683.2 571.3L687.3 578.6M684.4 570.6L688.5 577.9M685.6 569.9L689.8 577.2M686.9 569.2L691 576.5M688.1 568.5L692.2 575.8M689.3 567.8L693.4 575.1M690.5 567.1L694.6 574.4M691.7 566.4L695.9 573.8M693 565.8L697.1 573.1M694.2 565.1L698.3 572.4M695.4 564.4L699.5 571.7M696.6 563.7L700.8 571M697.8 563L702 570.3M699.1 562.3L703.2 569.6M700.3 561.6L704.4 568.9M701.5 560.9L705.6 568.2M702.7 560.2L706.9 567.6M704 559.6L708.1 566.9M705.2 558.9L709.3 566.2M706.4 558.2L710.5 565.5M707.6 557.5L711.7 564.8M708.8 556.8L713 564.1M710.1 556.1L714.2 563.4M711.3 555.4L715.4 562.7M712.5 554.7L716.6 562.1M713.7 554L717.8 561.4M714.9 553.4L719.1 560.7M716.2 552.7L720.3 560M717.4 552L721.5 559.3M718.6 551.3L722.7 558.6M719.8 550.6L724 557.9M721 549.9L725.2 557.2M722.3 549.2L726.4 556.5M723.5 548.5L727.6 555.9M724.7 547.9L728.8 555.2M725.9 547.2L730.1 554.5M727.2 546.5L731.3 553.8M728.4 545.8L732.5 553.1M729.6 545.1L733.7 552.4M730.8 544.4L734.9 551.7M732 543.7L736.2 551M733.3 543L737.4 550.3M734.5 542.3L738.6 549.7M735.7 541.7L739.8 549M736.9 541L741 548.3M738.1 540.3L742.3 547.6M739.4 539.6L743.5 546.9M740.6 538.9L744.7 546.2M741.8 538.2L745.9 545.5M743 537.5L747.2 544.8M744.2 536.8L748.4 544.2M745.5 536.1L749.6 543.5M746.7 535.5L750.8 542.8M747.9 534.8L752 542.1M749.1 534.1L753.3 541.4M750.4 533.4L754.5 540.7M751.6 532.7L755.7 540M752.8 532L756.9 539.3M754 531.3L758.1 538.6M755.2 530.6L759.4 538" fill="none" stroke="#666" stroke-width="0.48"/>
<path d="M622 578 L636 570.5 L637.5 572 L660 560" fill="none" stroke="#0c0c0c" stroke-width="0.96"/>
<path d="M640 594 L652 587.5 L653.5 589 L682 574" fill="none" stroke="#0c0c0c" stroke-width="0.96"/>
<path d="M647.5 546.5 L645.5 552.5" fill="none" stroke="#0c0c0c" stroke-width="1.32"/>
<text transform="translate(646.6 552.7) scale(0.93 1)" font-size="9.4" font-weight="bold" text-anchor="middle">66</text>
<text transform="translate(608.8 577.2) scale(0.93 1)" font-size="9.4" font-weight="bold" text-anchor="middle">73</text>
<path d="M600.7 592L600.7 597A1.1 2.2 90 0 1 596.3 597L596.3 592A1.1 2.2 90 0 1 600.7 592Z" fill="#e7e7e7" stroke="#0c0c0c" stroke-width="1.32"/>
<ellipse cx="598.5" cy="592" rx="1.1" ry="2.2" transform="rotate(90 598.5 592)" fill="#e7e7e7" stroke="#0c0c0c" stroke-width="1.32"/>
<path d="M599.8 597L599.8 605A0.7 1.3 90 0 1 597.2 605L597.2 597A0.7 1.3 90 0 1 599.8 597Z" fill="#e7e7e7" stroke="#0c0c0c" stroke-width="1.08"/>
<ellipse cx="598.5" cy="597" rx="0.7" ry="1.3" transform="rotate(90 598.5 597)" fill="#e7e7e7" stroke="#0c0c0c" stroke-width="1.08"/>
<ellipse cx="599.5" cy="611.5" rx="1.6" ry="3.2" transform="rotate(90 599.5 611.5)" fill="#e7e7e7" stroke="#0c0c0c" stroke-width="1.08"/>
<ellipse cx="599.5" cy="611.5" rx="0.7" ry="1.3" transform="rotate(90 599.5 611.5)" fill="#e7e7e7" stroke="#0c0c0c" stroke-width="0.84"/>
<path d="M601 578 C597.5 581 598.5 586 598.5 590" fill="none" stroke="#0c0c0c" stroke-width="0.96"/>
<path d="M586.6 592.5L586.6 597A2.8 5.6 90 0 1 575.4 597L575.4 592.5A2.8 5.6 90 0 1 586.6 592.5Z" fill="#e7e7e7" stroke="#0c0c0c" stroke-width="1.44"/>
<ellipse cx="581" cy="592.5" rx="2.8" ry="5.6" transform="rotate(90 581 592.5)" fill="#e7e7e7" stroke="#0c0c0c" stroke-width="1.44"/>
<ellipse cx="581" cy="592.5" rx="1.7" ry="3.4" transform="rotate(90 581 592.5)" fill="#e7e7e7" stroke="#0c0c0c" stroke-width="1.8"/>
<ellipse cx="581" cy="592.5" rx="0.7" ry="1.4" transform="rotate(90 581 592.5)" fill="#e7e7e7" stroke="#0c0c0c" stroke-width="0.96"/>
<path d="M571.5 602 L581 597 L586 600 L586 610 L577 615 L572 612Z" fill="#e7e7e7" stroke="#0c0c0c" stroke-width="1.32"/>
<path d="M573.5 606 L578 603.5 L578 609.5 L574 611.5Z" fill="#222" stroke="#0c0c0c" stroke-width="0.6"/>
<path d="M585.4 605.5L585.4 617A1.2 2.4 90 0 1 580.6 617L580.6 605.5A1.2 2.4 90 0 1 585.4 605.5Z" fill="#e7e7e7" stroke="#0c0c0c" stroke-width="1.32"/>
<ellipse cx="583" cy="605.5" rx="1.2" ry="2.4" transform="rotate(90 583 605.5)" fill="#e7e7e7" stroke="#0c0c0c" stroke-width="1.32"/>
<path d="M579.8 620L579.8 632.5A3.4 6.8 90 0 1 566.2 632.5L566.2 620A3.4 6.8 90 0 1 579.8 620Z" fill="#e7e7e7" stroke="#0c0c0c" stroke-width="1.44"/>
<ellipse cx="573" cy="620" rx="3.4" ry="6.8" transform="rotate(90 573 620)" fill="#e7e7e7" stroke="#0c0c0c" stroke-width="1.44"/>
<ellipse cx="573" cy="620" rx="1.5" ry="3" transform="rotate(90 573 620)" fill="#e7e7e7" stroke="#0c0c0c" stroke-width="1.2"/>
<ellipse cx="582.5" cy="622" rx="1.9" ry="3.8" transform="rotate(90 582.5 622)" fill="#e7e7e7" stroke="#0c0c0c" stroke-width="1.56"/>
<ellipse cx="582.5" cy="622" rx="0.8" ry="1.5" transform="rotate(90 582.5 622)" fill="#e7e7e7" stroke="#0c0c0c" stroke-width="0.96"/>
<ellipse cx="582" cy="632" rx="1.8" ry="3.6" transform="rotate(90 582 632)" fill="#e7e7e7" stroke="#0c0c0c" stroke-width="1.56"/>
<ellipse cx="582" cy="632" rx="0.7" ry="1.4" transform="rotate(90 582 632)" fill="#e7e7e7" stroke="#0c0c0c" stroke-width="0.96"/>
<path d="M587.1 641.5L587.1 646A2.8 5.6 90 0 1 575.9 646L575.9 641.5A2.8 5.6 90 0 1 587.1 641.5Z" fill="#e7e7e7" stroke="#0c0c0c" stroke-width="1.44"/>
<ellipse cx="581.5" cy="641.5" rx="2.8" ry="5.6" transform="rotate(90 581.5 641.5)" fill="#e7e7e7" stroke="#0c0c0c" stroke-width="1.44"/>
<ellipse cx="581.5" cy="641.5" rx="1.7" ry="3.4" transform="rotate(90 581.5 641.5)" fill="#e7e7e7" stroke="#0c0c0c" stroke-width="1.8"/>
<ellipse cx="581.5" cy="641.5" rx="0.7" ry="1.4" transform="rotate(90 581.5 641.5)" fill="#e7e7e7" stroke="#0c0c0c" stroke-width="0.96"/>
<path d="M569.5 601.5 L575 598" fill="none" stroke="#0c0c0c" stroke-width="1.2"/>
<path d="M563.5 600 L571 596 L578.5 590" fill="none" stroke="#0c0c0c" stroke-width="0"/>
<text transform="translate(564.6 606.8) scale(0.93 1)" font-size="9.4" font-weight="bold" text-anchor="middle">75</text>
<path d="M551.5 641.5 L567 632" fill="none" stroke="#0c0c0c" stroke-width="1.2"/>
<text transform="translate(546.8 646.2) scale(0.93 1)" font-size="9.4" font-weight="bold" text-anchor="middle">63</text>
<path d="M567.5 651.5 L576 646.5" fill="none" stroke="#0c0c0c" stroke-width="1.2"/>
<path d="M567.5 651.5 L579 651" fill="none" stroke="#0c0c0c" stroke-width="1.2"/>
<text transform="translate(560.4 656.3) scale(0.93 1)" font-size="9.4" font-weight="bold" text-anchor="middle">75</text>
<ellipse cx="597.5" cy="633.5" rx="1.3" ry="1.8" transform="rotate(-30 597.5 633.5)" fill="#e7e7e7" stroke="#0c0c0c" stroke-width="1.8"/>
<path d="M601 636 L606 638" fill="none" stroke="#0c0c0c" stroke-width="1.08"/>
<text transform="translate(609.1 637.5) scale(0.93 1)" font-size="9.4" font-weight="bold" text-anchor="middle">49</text>
<path d="M667 597.5A0.7 1.3 90 1 1 664.4 597.5A0.7 1.3 90 1 1 667 597.5M667 598.8A0.7 1.3 90 1 1 664.4 598.8A0.7 1.3 90 1 1 667 598.8M667 600.2A0.7 1.3 90 1 1 664.4 600.2A0.7 1.3 90 1 1 667 600.2M667 601.5A0.7 1.3 90 1 1 664.4 601.5A0.7 1.3 90 1 1 667 601.5M667 602.8A0.7 1.3 90 1 1 664.4 602.8A0.7 1.3 90 1 1 667 602.8M667 604.2A0.7 1.3 90 1 1 664.4 604.2A0.7 1.3 90 1 1 667 604.2M667 605.5A0.7 1.3 90 1 1 664.4 605.5A0.7 1.3 90 1 1 667 605.5" fill="none" stroke="#0c0c0c" stroke-width="1.08"/>
<path d="M665.7 605.5 L665.7 618" fill="none" stroke="#0c0c0c" stroke-width="0.72"/>
<path d="M691.8 612.5A0.7 1.3 90 1 1 689.2 612.5A0.7 1.3 90 1 1 691.8 612.5M691.8 613.8A0.7 1.3 90 1 1 689.2 613.8A0.7 1.3 90 1 1 691.8 613.8M691.8 615.2A0.7 1.3 90 1 1 689.2 615.2A0.7 1.3 90 1 1 691.8 615.2M691.8 616.5A0.7 1.3 90 1 1 689.2 616.5A0.7 1.3 90 1 1 691.8 616.5M691.8 617.8A0.7 1.3 90 1 1 689.2 617.8A0.7 1.3 90 1 1 691.8 617.8M691.8 619.2A0.7 1.3 90 1 1 689.2 619.2A0.7 1.3 90 1 1 691.8 619.2M691.8 620.5A0.7 1.3 90 1 1 689.2 620.5A0.7 1.3 90 1 1 691.8 620.5" fill="none" stroke="#0c0c0c" stroke-width="1.08"/>
<path d="M690.5 620.5 L690.5 633" fill="none" stroke="#0c0c0c" stroke-width="0.72"/>
<path d="M674 597 L668.5 600.5" fill="none" stroke="#0c0c0c" stroke-width="1.08"/>
<path d="M684 598 L689.5 611" fill="none" stroke="#0c0c0c" stroke-width="1.08"/>
<text transform="translate(679 597.8) scale(0.93 1)" font-size="9.4" font-weight="bold" text-anchor="middle">94</text>
<path d="M625.5 628.3 L644 618.3 L659 626.3 L640.5 636.8Z" fill="#e7e7e7" stroke="#0c0c0c" stroke-width="1.44"/>
<path d="M625.5 628.3 L625.5 630.3 L640.5 638.8 L659 628.3 L659 626.3" fill="none" stroke="#0c0c0c" stroke-width="1.08"/>
<ellipse cx="647" cy="624.8" rx="1.7" ry="3.4" transform="rotate(90 647 624.8)" fill="#e7e7e7" stroke="#0c0c0c" stroke-width="1.2"/>
<ellipse cx="638.5" cy="628.8" rx="0.9" ry="1.8" transform="rotate(90 638.5 628.8)" fill="#e7e7e7" stroke="#0c0c0c" stroke-width="1.08"/>
<path d="M636.5 618 L636.5 627" fill="none" stroke="#0c0c0c" stroke-width="0.84"/>
<path d="M640.5 638.8 L640.5 650" fill="none" stroke="#0c0c0c" stroke-width="0.96"/>
<path d="M655 630.3 L655.5 643" fill="none" stroke="#0c0c0c" stroke-width="0.96"/>
<path d="M652 632.3 L652.5 645" fill="none" stroke="#0c0c0c" stroke-width="0.96"/>
<text transform="translate(637.1 617.4) scale(0.93 1)" font-size="9.4" font-weight="bold" text-anchor="middle">95</text>
<path d="M639.4 650 L639.4 700" fill="none" stroke="#0c0c0c" stroke-width="0.66" stroke-dasharray="12 2.5 2 2.5" stroke-opacity="0.8"/>
<path d="M314.3 993.5 L314.3 1000" fill="none" stroke="#0c0c0c" stroke-width="1.92"/>
<path d="M1000.5 996.5 L1010.5 996.5" fill="none" stroke="#0c0c0c" stroke-width="1.68"/>
<path d="M1010 0.6 L1017 0.6" fill="none" stroke="#0c0c0c" stroke-width="1.68"/>
<path d="M358 816.8 C353 817.5 349 820 346 824 C342.5 830 341 837 341.2 844 L342 876 C342.5 888 344 898 346 908 L348.4 922.4 L356.4 926.6 C360 923.5 363.5 919.5 366 914.4 C371 903 374.5 890 375.6 876 C377.5 866 378.5 856 378 847.2 C377.5 839 375.5 832 372.4 826.4 C369.5 821.5 366 818.5 362.8 817.6 C361 817 359.5 816.7 358 816.8Z" fill="#e7e7e7" stroke="#0c0c0c" stroke-width="1.44"/>
<path d="M358.8 823.2 C364 829 367.5 836 368.4 844 C369.5 858 368 872 366 884 C364 900 360.5 915 356.4 926.6" fill="none" stroke="#0c0c0c" stroke-width="1.08"/>
<path d="M350 823 L350 922.8" fill="none" stroke="#0c0c0c" stroke-width="1.08"/>
<path d="M352.4 822 L352.4 906" fill="none" stroke="#0c0c0c" stroke-width="0.96"/>
<path d="M355.3 840.8 L355.3 901.6" fill="none" stroke="#0c0c0c" stroke-width="2.4"/>
<path d="M356.8 823 L357 905" fill="none" stroke="#0c0c0c" stroke-width="0.96"/>
<path d="M350 823 L352 820 L358.8 823.2" fill="none" stroke="#0c0c0c" stroke-width="1.08"/>
<path d="M350 906 L356.5 908" fill="none" stroke="#0c0c0c" stroke-width="0.96"/>
<path d="M333.9 844.4L341.9 839.8A0.8 1.3 -29.9 0 1 343.1 842L335.1 846.6A0.8 1.3 -29.9 0 1 333.9 844.4Z" fill="#e7e7e7" stroke="#0c0c0c" stroke-width="1.08"/>
<ellipse cx="334.5" cy="845.5" rx="0.8" ry="1.3" transform="rotate(-29.9 334.5 845.5)" fill="#e7e7e7" stroke="#0c0c0c" stroke-width="1.08"/>
<path d="M331.5 843.8L334.2 842.2A2.1 3 -30.7 0 1 337.2 847.4L334.5 849A2.1 3 -30.7 0 1 331.5 843.8Z" fill="#e7e7e7" stroke="#0c0c0c" stroke-width="1.44"/>
<ellipse cx="333" cy="846.4" rx="2.1" ry="3" transform="rotate(-30.7 333 846.4)" fill="#e7e7e7" stroke="#0c0c0c" stroke-width="1.44"/>
<path d="M332 845 L335 847" fill="none" stroke="#0c0c0c" stroke-width="0.96"/>
<path d="M336.9 914.4L344.9 909.8A0.8 1.3 -29.9 0 1 346.1 912L338.1 916.6A0.8 1.3 -29.9 0 1 336.9 914.4Z" fill="#e7e7e7" stroke="#0c0c0c" stroke-width="1.08"/>
<ellipse cx="337.5" cy="915.5" rx="0.8" ry="1.3" transform="rotate(-29.9 337.5 915.5)" fill="#e7e7e7" stroke="#0c0c0c" stroke-width="1.08"/>
<path d="M334.5 913.8L337.2 912.2A2.1 3 -30.7 0 1 340.2 917.4L337.5 919A2.1 3 -30.7 0 1 334.5 913.8Z" fill="#e7e7e7" stroke="#0c0c0c" stroke-width="1.44"/>
<ellipse cx="336" cy="916.4" rx="2.1" ry="3" transform="rotate(-30.7 336 916.4)" fill="#e7e7e7" stroke="#0c0c0c" stroke-width="1.44"/>
<path d="M335 915 L338 917" fill="none" stroke="#0c0c0c" stroke-width="0.96"/>
<path d="M344 840 L353 835" fill="none" stroke="#0c0c0c" stroke-width="0.84"/>
<path d="M348 909.5 L352 907" fill="none" stroke="#0c0c0c" stroke-width="0.84"/>
<path d="M330.5 851 L322 862" fill="none" stroke="#0c0c0c" stroke-width="1.2"/>
<path d="M327 905 L334 912" fill="none" stroke="#0c0c0c" stroke-width="1.2"/>
<text transform="translate(320.5 870.8) scale(0.93 1)" font-size="9.4" font-weight="bold" text-anchor="middle" font-style="italic">81</text>
<text transform="translate(324.4 904) scale(0.93 1)" font-size="9.4" font-weight="bold" text-anchor="middle">81</text>
<path d="M358.5 927 L369 936" fill="none" stroke="#0c0c0c" stroke-width="1.2"/>
<text transform="translate(372.6 944.3) scale(0.93 1)" font-size="9.4" font-weight="bold" text-anchor="middle">83</text>
<path d="M385.5 808 C385.5 800 393.5 800 393.5 808 L389.5 908 L381.5 903Z" fill="#e7e7e7" stroke="#0c0c0c" stroke-width="1.32"/>
<path d="M388.5 803 L385 905.5" fill="none" stroke="#0c0c0c" stroke-width="1.08"/>
<path d="M391.5 810 L388.5 907" fill="none" stroke="#0c0c0c" stroke-width="0.96"/>
<circle cx="386.5" cy="817" r="0.9" fill="#0c0c0c" stroke="#0c0c0c" stroke-width="0.6"/>
<circle cx="386.5" cy="852" r="0.9" fill="#0c0c0c" stroke="#0c0c0c" stroke-width="0.6"/>
<circle cx="386.5" cy="889" r="0.9" fill="#0c0c0c" stroke="#0c0c0c" stroke-width="0.6"/>
<path d="M373 838 L385 817.5" fill="none" stroke="#0c0c0c" stroke-width="0.84" stroke-dasharray="4 2" stroke-opacity="0.8"/>
<path d="M375 896 L385 889.5" fill="none" stroke="#0c0c0c" stroke-width="0.84"/>
<path d="M388.5 907 L395 912" fill="none" stroke="#0c0c0c" stroke-width="1.2"/>
<text transform="translate(399.5 919.2) scale(0.93 1)" font-size="9.4" font-weight="bold" text-anchor="middle">79</text>
<path d="M473.6 865.5 C462 868 452 876 451 884 C452 900 455 916 454 930 C453 950 446 968 443.5 982 C444 986 447 987 451 985.5 C466 981 482 972 487.5 960 C493 940 494 920 493 905 C492 892 491 882 489 876 C485 870 479 866 473.6 865.5Z" fill="#1a1a1a" stroke="#0c0c0c" stroke-width="1.2"/>
<path d="M473.6 865.5 C462 868 452 876 451 884 C452 900 455 916 454 930 C453 950 446 968 443.5 982 C444 986 447 987 451 985.5 C466 981 482 972 487.5 960 C493 940 494 920 493 905 C492 892 491 882 489 876 C485 870 479 866 473.6 865.5Z" fill="#000" filter="url(#stipd)"/>
<path d="M456 876 C468 884 478 905 478 930 C478 950 466 972 450 984" fill="none" stroke="#aaa" stroke-width="0.96"/>
<path d="M497 860 C497 852 506 852 506.5 860 L503.5 957 L493.5 959.5 L493.5 950Z" fill="#e7e7e7" stroke="#0c0c0c" stroke-width="1.32"/>
<path d="M500.5 856 L498 953" fill="none" stroke="#0c0c0c" stroke-width="1.08"/>
<path d="M493.5 950 L498 953 L503.5 957" fill="none" stroke="#0c0c0c" stroke-width="0.96"/>
<path d="M489 876.5 L499 870" fill="none" stroke="#0c0c0c" stroke-width="1.92"/>
<path d="M493 905 L498 903" fill="none" stroke="#0c0c0c" stroke-width="1.2"/>
<path d="M493 935 L498 932.5" fill="none" stroke="#0c0c0c" stroke-width="1.68"/>
<path d="M501 930 L508 927.5" fill="none" stroke="#0c0c0c" stroke-width="1.2"/>
<text transform="translate(514.6 929.9) scale(0.93 1)" font-size="9.4" font-weight="bold" text-anchor="middle">79</text>
<path d="M469.5 862 L487 846 L493 872" fill="none" stroke="#0c0c0c" stroke-width="1.2"/>
<text transform="translate(461.7 868.9) scale(0.93 1)" font-size="9.4" font-weight="bold" text-anchor="middle">122</text>
<path d="M494 959 L531 946.5" fill="none" stroke="#0c0c0c" stroke-width="1.2"/>
<text transform="translate(540.3 948.8) scale(0.93 1)" font-size="9.4" font-weight="bold" text-anchor="middle">122</text>
<path d="M486.5 963 L507 970" fill="none" stroke="#0c0c0c" stroke-width="1.2"/>
<text transform="translate(516.9 975.7) scale(0.93 1)" font-size="9.4" font-weight="bold" text-anchor="middle">80</text>
<path d="M409.3 949.8L418.3 944.6A2.8 4.3 -30 0 1 422.7 952L413.7 957.2A2.8 4.3 -30 0 1 409.3 949.8Z" fill="#e7e7e7" stroke="#0c0c0c" stroke-width="1.44"/>
<ellipse cx="411.5" cy="953.5" rx="2.8" ry="4.3" transform="rotate(-30 411.5 953.5)" fill="#e7e7e7" stroke="#0c0c0c" stroke-width="1.44"/>
<path d="M409.5 952 L413.5 955" fill="none" stroke="#0c0c0c" stroke-width="0.96"/>
<path d="M419.4 946.5L434.9 937.5A1.3 2.1 -30.1 0 1 437.1 941.1L421.6 950.1A1.3 2.1 -30.1 0 1 419.4 946.5Z" fill="#e7e7e7" stroke="#0c0c0c" stroke-width="1.08"/>
<ellipse cx="420.5" cy="948.3" rx="1.3" ry="2.1" transform="rotate(-30.1 420.5 948.3)" fill="#e7e7e7" stroke="#0c0c0c" stroke-width="1.08"/>
<path d="M420.5 945.9L422.5 949.5M421.7 945.2L423.8 948.8M422.9 944.5L425 948.1M424.1 943.8L426.2 947.4M425.4 943.1L427.4 946.7M426.6 942.4L428.7 946M427.8 941.7L429.9 945.3M429.1 941L431.1 944.6M430.3 940.3L432.4 943.9M431.5 939.6L433.6 943.2M432.7 938.9L434.8 942.5M434 938.2L436 941.8" fill="none" stroke="#0c0c0c" stroke-width="0.84"/>
<path d="M435.4 938.2L438.4 936.5A0.8 1.3 -29.5 0 1 439.6 938.7L436.6 940.4A0.8 1.3 -29.5 0 1 435.4 938.2Z" fill="#e7e7e7" stroke="#0c0c0c" stroke-width="1.08"/>
<ellipse cx="436" cy="939.3" rx="0.8" ry="1.3" transform="rotate(-29.5 436 939.3)" fill="#e7e7e7" stroke="#0c0c0c" stroke-width="1.08"/>
<path d="M442 935.5 L461 924.5" fill="none" stroke="#0c0c0c" stroke-width="0.96"/>
<path d="M414.5 958.5 L411 972" fill="none" stroke="#0c0c0c" stroke-width="1.2"/>
<text transform="translate(410.8 981.6) scale(0.93 1)" font-size="9.4" font-weight="bold" text-anchor="middle">121</text>
<path d="M572.3 804.3 L578.5 800 L584.4 797 L621.4 773.6 L629.2 778.1 L639 778.5 L676 754.7 L682.9 753.2 L688.7 755.5 L691.6 761.9 L690.7 771.7 L644.8 798 L632.2 811.7 L594.1 832.7 L588.7 829.6 L587.3 817.5 L573.6 815.6Z" fill="#e7e7e7" stroke="#0c0c0c" stroke-width="1.44"/>
<ellipse cx="579.5" cy="804.3" rx="3.6" ry="6.5" transform="rotate(90 579.5 804.3)" fill="#e7e7e7" stroke="#0c0c0c" stroke-width="1.32"/>
<ellipse cx="580.1" cy="803.9" rx="1.9" ry="3.4" transform="rotate(90 580.1 803.9)" fill="#e7e7e7" stroke="#0c0c0c" stroke-width="1.08"/>
<path d="M573.6 815.6 L587.3 817.5 L593.1 811.7 L617.5 798" fill="none" stroke="#0c0c0c" stroke-width="1.2"/>
<path d="M590.2 798 L621.4 778.5 L626.3 782 L629.2 784.4 L598 802.9 L595.1 805.8Z" fill="#e7e7e7" stroke="#0c0c0c" stroke-width="1.2"/>
<path d="M598 802.9 L597 798 L625.3 782" fill="none" stroke="#0c0c0c" stroke-width="0.96"/>
<path d="M639 778.5 L676 756.1 L681.9 759 L647.8 782.4Z" fill="#e7e7e7" stroke="#0c0c0c" stroke-width="1.2"/>
<path d="M660.4 765.8 L660.8 773.6" fill="none" stroke="#0c0c0c" stroke-width="1.08"/>
<path d="M660.8 773.6 L670.2 768.8" fill="none" stroke="#0c0c0c" stroke-width="0.96"/>
<path d="M676 754.7 C676 761 683.8 761.9 688.7 758" fill="none" stroke="#0c0c0c" stroke-width="1.2"/>
<ellipse cx="679" cy="765.3" rx="1.3" ry="2.6" transform="rotate(60 679 765.3)" fill="#e7e7e7" stroke="#0c0c0c" stroke-width="1.08"/>
<path d="M621.4 798 C626.3 788.3 637 789.2 637 798 C637 805.8 629.2 810.7 617.5 811.7" fill="none" stroke="#0c0c0c" stroke-width="1.56"/>
<ellipse cx="626.9" cy="803.5" rx="1.8" ry="3.5" transform="rotate(-40 626.9 803.5)" fill="#e7e7e7" stroke="#0c0c0c" stroke-width="1.2"/>
<path d="M637 779.5 L638 790.2" fill="none" stroke="#0c0c0c" stroke-width="1.08"/>
<path d="M644.8 782.4 L644.8 798" fill="none" stroke="#0c0c0c" stroke-width="0.96"/>
<path d="M598 820.4L605.8 817.1" fill="none" stroke="#0c0c0c" stroke-width="3.6" stroke-linecap="round"/>
<path d="M598 820.4L605.8 817.1" fill="none" stroke="#e7e7e7" stroke-width="1.44" stroke-linecap="round"/>
<circle cx="619.5" cy="780.9" r="1.8" fill="#e7e7e7" stroke="#0c0c0c" stroke-width="1.08"/>
<circle cx="614.6" cy="783.4" r="1.2" fill="#e7e7e7" stroke="#0c0c0c" stroke-width="0.96"/>
<path d="M669.2 751 L669.2 762" fill="none" stroke="#0c0c0c" stroke-width="1.2"/>
<text transform="translate(669.2 749.3) scale(0.93 1)" font-size="9.4" font-weight="bold" text-anchor="middle">84</text>
<path d="M639.4 705 L639.4 816" fill="none" stroke="#0c0c0c" stroke-width="0.66" stroke-dasharray="12 2.5 2 2.5" stroke-opacity="0.8"/>
<path d="M641.4 816.5L641.4 846.5A1 2 90 0 1 637.4 846.5L637.4 816.5A1 2 90 0 1 641.4 816.5Z" fill="#e7e7e7" stroke="#0c0c0c" stroke-width="1.2"/>
<ellipse cx="639.4" cy="816.5" rx="1" ry="2" transform="rotate(90 639.4 816.5)" fill="#e7e7e7" stroke="#0c0c0c" stroke-width="1.2"/>
<path d="M641.4 817.5L637.4 817.5M641.4 819L637.4 819M641.4 820.5L637.4 820.5M641.4 822L637.4 822M641.4 823.5L637.4 823.5M641.4 825L637.4 825M641.4 826.5L637.4 826.5M641.4 828L637.4 828M641.4 829.5L637.4 829.5M641.4 831L637.4 831M641.4 832.5L637.4 832.5M641.4 834L637.4 834M641.4 835.5L637.4 835.5M641.4 837L637.4 837M641.4 838.5L637.4 838.5M641.4 840L637.4 840M641.4 841.5L637.4 841.5M641.4 843L637.4 843M641.4 844.5L637.4 844.5" fill="none" stroke="#0c0c0c" stroke-width="0.72"/>
<path d="M643 846.5L643 851.5A1.8 3.6 90 0 1 635.8 851.5L635.8 846.5A1.8 3.6 90 0 1 643 846.5Z" fill="#e7e7e7" stroke="#0c0c0c" stroke-width="1.32"/>
<ellipse cx="639.4" cy="846.5" rx="1.8" ry="3.6" transform="rotate(90 639.4 846.5)" fill="#e7e7e7" stroke="#0c0c0c" stroke-width="1.32"/>
<path d="M640 853 L647 863" fill="none" stroke="#0c0c0c" stroke-width="1.2"/>
<text transform="translate(650.3 873.2) scale(0.93 1)" font-size="9.4" font-weight="bold" text-anchor="middle">96</text>
<path d="M632.9 819.3L634.9 826.8A0.5 0.9 75.1 0 1 633.1 827.2L631.1 819.7A0.5 0.9 75.1 0 1 632.9 819.3Z" fill="#e7e7e7" stroke="#0c0c0c" stroke-width="1.08"/>
<ellipse cx="632" cy="819.5" rx="0.5" ry="0.9" transform="rotate(75.1 632 819.5)" fill="#e7e7e7" stroke="#0c0c0c" stroke-width="1.08"/>
<path d="M633.2 819.2L630.8 819.8M633.5 820.4L631.2 821.1M633.8 821.7L631.5 822.3M634.2 822.9L631.8 823.6M634.5 824.2L632.2 824.8M634.8 825.4L632.5 826.1M635.2 826.7L632.8 827.3" fill="none" stroke="#0c0c0c" stroke-width="0.72"/>
<path d="M626 829 L633 826" fill="none" stroke="#0c0c0c" stroke-width="1.2"/>
<text transform="translate(620.7 832.6) scale(0.93 1)" font-size="9.4" font-weight="bold" text-anchor="middle">86</text>
<path d="M581.5 822 L583.5 838" fill="none" stroke="#0c0c0c" stroke-width="0.84" stroke-dasharray="5 2" stroke-opacity="0.8"/>
<path d="M585.4 837.9L586.9 850.9A0.5 0.9 83.4 0 1 585.1 851.1L583.6 838.1A0.5 0.9 83.4 0 1 585.4 837.9Z" fill="#e7e7e7" stroke="#0c0c0c" stroke-width="1.08"/>
<ellipse cx="584.5" cy="838" rx="0.5" ry="0.9" transform="rotate(83.4 584.5 838)" fill="#e7e7e7" stroke="#0c0c0c" stroke-width="1.08"/>
<path d="M585.8 837.9L583.2 838.1M585.9 839.2L583.4 839.4M586.1 840.5L583.5 840.7M586.2 841.8L583.7 842M586.4 843.1L583.8 843.3M586.5 844.4L584 844.6M586.7 845.7L584.1 845.9M586.8 847L584.3 847.2M587 848.3L584.4 848.5M587.1 849.6L584.6 849.8M587.3 850.9L584.7 851.1" fill="none" stroke="#0c0c0c" stroke-width="0.72"/>
<ellipse cx="586.5" cy="854.5" rx="1.5" ry="3" transform="rotate(90 586.5 854.5)" fill="#e7e7e7" stroke="#0c0c0c" stroke-width="1.2"/>
<path d="M583 853 L577.5 853.5 L593 889" fill="none" stroke="#0c0c0c" stroke-width="1.2"/>
<text transform="translate(595.1 898.6) scale(0.93 1)" font-size="9.4" font-weight="bold" text-anchor="middle">87</text>
<path d="M586 822 L601 866" fill="none" stroke="#0c0c0c" stroke-width="1.2"/>
<text transform="translate(604.8 876.1) scale(0.93 1)" font-size="9.4" font-weight="bold" text-anchor="middle">85</text>
<path d="M586 818 L587.5 832" fill="none" stroke="#0c0c0c" stroke-width="2.16"/>
<path d="M539.5 841 C540 834 548 830.5 554 832 L563.5 841 C558 846 550 851 543.5 852.5 C540.5 850 539.5 846 539.5 841Z" fill="#e7e7e7" stroke="#0c0c0c" stroke-width="1.44"/>
<path d="M539.5 841 C543 846 552 844 563.5 841" fill="none" stroke="#0c0c0c" stroke-width="1.2"/>
<ellipse cx="546" cy="838.5" rx="2.4" ry="3.4" transform="rotate(-20 546 838.5)" fill="#e7e7e7" stroke="#0c0c0c" stroke-width="1.56"/>
<ellipse cx="546" cy="838.5" rx="1" ry="1.4" transform="rotate(-20 546 838.5)" fill="#e7e7e7" stroke="#0c0c0c" stroke-width="0.96"/>
<path d="M565 834.5 L580 826" fill="none" stroke="#0c0c0c" stroke-width="0.84" stroke-dasharray="12 2" stroke-opacity="0.8"/>
<path d="M552 850.5 L563 885" fill="none" stroke="#0c0c0c" stroke-width="1.2"/>
<text transform="translate(562.5 895) scale(0.93 1)" font-size="9.4" font-weight="bold" text-anchor="middle">124</text>
<path d="M675.2 785.3 L843.3 670.4 L857.6 679.9 L855.7 685.6 L689.4 794.8 L688.5 790.1 L685.6 790.5 L679.9 787.2 L675.6 788.6Z" fill="#e7e7e7" stroke="#0c0c0c" stroke-width="1.44"/>
<path d="M679.9 784.8 L847.1 672.7" fill="none" stroke="#0c0c0c" stroke-width="1.08"/>
<path d="M685.6 790.1 L852.3 677" fill="none" stroke="#0c0c0c" stroke-width="1.08"/>
<path d="M688.5 790.1 L856.6 680.8" fill="none" stroke="#0c0c0c" stroke-width="1.2"/>
<path d="M688.9 792.4 L856.1 683.3" fill="none" stroke="#777" stroke-width="0.72"/>
<ellipse cx="819.6" cy="694.3" rx="2.2" ry="4.4" transform="rotate(90 819.6 694.3)" fill="#e7e7e7" stroke="#0c0c0c" stroke-width="1.32"/>
<path d="M822 676 L822 686" fill="none" stroke="#0c0c0c" stroke-width="1.2"/>
<text transform="translate(812.6 679.9) scale(0.93 1)" font-size="9.4" font-weight="bold" text-anchor="middle">89</text>
<path d="M696.1 678 L696.1 777" fill="none" stroke="#0c0c0c" stroke-width="0.66" stroke-dasharray="12 2.5 2 2.5" stroke-opacity="0.8"/>
<path d="M761.6 560 L761.6 733" fill="none" stroke="#0c0c0c" stroke-width="0.66" stroke-dasharray="12 2.5 2 2.5" stroke-opacity="0.8"/>
<path d="M837.6 587 L837.6 683" fill="none" stroke="#0c0c0c" stroke-width="0.66" stroke-dasharray="12 2.5 2 2.5" stroke-opacity="0.8"/>
<path d="M837.6 702 L837.6 711" fill="none" stroke="#0c0c0c" stroke-width="0.84"/>
<circle cx="761.6" cy="733.5" r="0.9" fill="#e7e7e7" stroke="#0c0c0c" stroke-width="0.84"/>
<circle cx="696.5" cy="777" r="0.9" fill="#e7e7e7" stroke="#0c0c0c" stroke-width="0.84"/>
<ellipse cx="837.6" cy="716.5" rx="1.5" ry="3" transform="rotate(90 837.6 716.5)" fill="#e7e7e7" stroke="#0c0c0c" stroke-width="1.2"/>
<path d="M837.6 715.5 L837.6 710.5" fill="none" stroke="#0c0c0c" stroke-width="2.16"/>
<ellipse cx="760.2" cy="755.5" rx="1.5" ry="3" transform="rotate(90 760.2 755.5)" fill="#e7e7e7" stroke="#0c0c0c" stroke-width="1.2"/>
<path d="M760.2 754.5 L760.2 749.5" fill="none" stroke="#0c0c0c" stroke-width="2.16"/>
<ellipse cx="696.1" cy="798" rx="1.5" ry="3" transform="rotate(90 696.1 798)" fill="#e7e7e7" stroke="#0c0c0c" stroke-width="1.2"/>
<path d="M696.1 797 L696.1 792" fill="none" stroke="#0c0c0c" stroke-width="2.16"/>
<path d="M841 714 L850 708" fill="none" stroke="#0c0c0c" stroke-width="1.2"/>
<text transform="translate(855 707.6) scale(0.93 1)" font-size="9.4" font-weight="bold" text-anchor="middle">91</text>
<path d="M763 752.5 L773 747.5" fill="none" stroke="#0c0c0c" stroke-width="1.2"/>
<text transform="translate(780.3 749.4) scale(0.93 1)" font-size="9.4" font-weight="bold" text-anchor="middle">92</text>
<path d="M699 796 L705 791" fill="none" stroke="#0c0c0c" stroke-width="1.2"/>
<text transform="translate(710.9 789.9) scale(0.93 1)" font-size="9.4" font-weight="bold" text-anchor="middle">91</text>
<path d="M678 816.7 L771.1 754.6 C775.9 752.5 781.6 756.8 776.8 763.9 L684.7 823.9 L679 820.9 Z" fill="#e7e7e7" stroke="#0c0c0c" stroke-width="1.44"/>
<path d="M683.7 816.7 L768.3 760.1" fill="none" stroke="#0c0c0c" stroke-width="1.08"/>
<path d="M681.3 820.1 L774 763.1" fill="none" stroke="#0c0c0c" stroke-width="1.08"/>
<path d="M683.7 816.7 L684.7 819.5" fill="none" stroke="#0c0c0c" stroke-width="0.96"/>
<ellipse cx="773" cy="760.8" rx="1.1" ry="2.2" transform="rotate(60 773 760.8)" fill="#e7e7e7" stroke="#0c0c0c" stroke-width="1.56"/>
<path d="M727 795.5 L730.5 802" fill="none" stroke="#0c0c0c" stroke-width="1.2"/>
<text transform="translate(736.8 811.7) scale(0.93 1)" font-size="9.4" font-weight="bold" text-anchor="middle">90</text>
<path d="M679 792 L667.6 801.5 L667.6 828 L677 822.5" fill="none" stroke="#0c0c0c" stroke-width="0.84" stroke-dasharray="10 2" stroke-opacity="0.8"/>
<ellipse cx="819.5" cy="600.2" rx="1.6" ry="3.3" transform="rotate(90 819.5 600.2)" fill="#e7e7e7" stroke="#0c0c0c" stroke-width="2.4"/>
<ellipse cx="819.5" cy="602" rx="1.6" ry="3.3" transform="rotate(90 819.5 602)" fill="#e7e7e7" stroke="#0c0c0c" stroke-width="1.44"/>
<ellipse cx="819.5" cy="607.3" rx="2" ry="4" transform="rotate(90 819.5 607.3)" fill="#e7e7e7" stroke="#0c0c0c" stroke-width="2.28"/>
<ellipse cx="819.5" cy="607.3" rx="0.8" ry="1.5" transform="rotate(90 819.5 607.3)" fill="#e7e7e7" stroke="#0c0c0c" stroke-width="0.96"/>
<path d="M819.5 612 L819.5 621" fill="none" stroke="#0c0c0c" stroke-width="0.84"/>
<path d="M821.8 622.5L821.8 650.5A1.1 2.3 90 0 1 817.2 650.5L817.2 622.5A1.1 2.3 90 0 1 821.8 622.5Z" fill="#e7e7e7" stroke="#0c0c0c" stroke-width="1.2"/>
<ellipse cx="819.5" cy="622.5" rx="1.1" ry="2.3" transform="rotate(90 819.5 622.5)" fill="#e7e7e7" stroke="#0c0c0c" stroke-width="1.2"/>
<path d="M821.8 623.5L817.2 623.5M821.8 625.1L817.2 625.1M821.8 626.6L817.2 626.6M821.8 628.2L817.2 628.2M821.8 629.8L817.2 629.8M821.8 631.3L817.2 631.3M821.8 632.9L817.2 632.9M821.8 634.4L817.2 634.4M821.8 636L817.2 636M821.8 637.6L817.2 637.6M821.8 639.1L817.2 639.1M821.8 640.7L817.2 640.7M821.8 642.2L817.2 642.2M821.8 643.8L817.2 643.8M821.8 645.4L817.2 645.4M821.8 646.9L817.2 646.9M821.8 648.5L817.2 648.5" fill="none" stroke="#0c0c0c" stroke-width="0.72"/>
<path d="M823.5 650.5L823.5 655.5A2 4 90 0 1 815.5 655.5L815.5 650.5A2 4 90 0 1 823.5 650.5Z" fill="#e7e7e7" stroke="#0c0c0c" stroke-width="1.32"/>
<ellipse cx="819.5" cy="650.5" rx="2" ry="4" transform="rotate(90 819.5 650.5)" fill="#e7e7e7" stroke="#0c0c0c" stroke-width="1.32"/>
<path d="M823 600.5 L848 593" fill="none" stroke="#0c0c0c" stroke-width="1.2"/>
<text transform="translate(858.2 593.8) scale(0.95 1)" font-size="9.4" font-weight="bold" text-anchor="middle">123</text>
<path d="M808.5 612.5 L815 608.5" fill="none" stroke="#0c0c0c" stroke-width="1.2"/>
<text transform="translate(803.7 617.4) scale(0.93 1)" font-size="9.4" font-weight="bold" text-anchor="middle">88</text>
<path d="M809.5 648 L816 646" fill="none" stroke="#0c0c0c" stroke-width="1.2"/>
<text transform="translate(804.2 651.3) scale(0.93 1)" font-size="9.4" font-weight="bold" text-anchor="middle">96</text>
<text transform="translate(933.7 726.3) rotate(-90)" font-size="28.5" style="stroke-width:1.0px;stroke-linejoin:round"><tspan letter-spacing="0.6">Modell</tspan><tspan dx="-2.3"> 75</tspan></text>
<path d="M718 955.7 L718 860.8 L857.3 780.4 L934.1 780.4 L934.1 955.7 L718 955.7" fill="none" stroke="#0c0c0c" stroke-width="1.2" stroke-dasharray="22 3 2.5 3" stroke-opacity="0.8"/>
<path d="M774.5 925.4 L779.4 915.5 L812.4 899 L857 877.6 L857.8 887.5 L812.4 913.9 L782.7 928.7Z" fill="#e7e7e7" stroke="#0c0c0c" stroke-width="1.32"/>
<path d="M779.4 918.8 L857 880.9" fill="none" stroke="#0c0c0c" stroke-width="1.08"/>
<path d="M744.8 882.5 L825.6 836.6 L863.6 814 L868.5 815.2 L871 821.5 L878.4 826.4 L882.6 831.4 L891.6 835.5 L891.6 849.5 L875.1 857.8 L869.4 861.4 L860.3 861.4 L854.5 857.8 L819 877.6 L789.3 895.7 L758 913.9 L744.8 905.6Z" fill="#e7e7e7" stroke="#0c0c0c" stroke-width="1.44"/>
<path d="M863.6 814 L868.5 815.2 L871 821.5 L878.4 826.4 L882.6 831.4 L891.6 835.5" fill="none" stroke="#0c0c0c" stroke-width="1.2"/>
<path d="M869.4 847.9 L885.9 839.6 L886.7 849 L874.3 855.6Z" fill="#e7e7e7" stroke="#0c0c0c" stroke-width="3.12"/>
<path d="M888.3 837.1 L889.2 849.5" fill="none" stroke="#0c0c0c" stroke-width="1.92"/>
<path d="M854.5 857.8 L860.3 856.9 L863.6 851.2 L869.4 847.9" fill="none" stroke="#0c0c0c" stroke-width="1.44"/>
<ellipse cx="855.7" cy="857.8" rx="1.4" ry="1.8" transform="rotate(0 855.7 857.8)" fill="#e7e7e7" stroke="#0c0c0c" stroke-width="1.44"/>
<path d="M744.8 882 L820.7 837.6 L825.6 836.6 L828.9 843.2 L753.8 887.8Z" fill="#242424" stroke="#0c0c0c" stroke-width="0.96"/>
<path d="M747.7 881.6L751.1 887.4M749 880.8L752.4 886.7M750.3 880L753.7 885.9M751.6 879.3L755 885.2M752.9 878.5L756.3 884.4M754.2 877.8L757.6 883.6M755.5 877L758.9 882.9M756.8 876.2L760.2 882.1M758.1 875.5L761.5 881.4M759.4 874.7L762.8 880.6M760.7 874L764.1 879.8M762 873.2L765.4 879.1M763.3 872.4L766.7 878.3M764.6 871.7L768 877.6M765.9 870.9L769.3 876.8M767.2 870.2L770.6 876M768.5 869.4L771.9 875.3M769.8 868.7L773.2 874.5M771.1 867.9L774.5 873.8M772.4 867.1L775.8 873M773.7 866.4L777.1 872.2M775 865.6L778.4 871.5M776.3 864.9L779.7 870.7M777.6 864.1L781 870M778.9 863.3L782.3 869.2M780.2 862.6L783.6 868.4M781.5 861.8L784.9 867.7M782.8 861.1L786.2 866.9M784.1 860.3L787.5 866.2M785.4 859.5L788.8 865.4M786.7 858.8L790.1 864.6M788 858L791.4 863.9M789.3 857.3L792.7 863.1M790.6 856.5L794 862.4M791.9 855.7L795.3 861.6M793.2 855L796.6 860.8M794.5 854.2L797.9 860.1M795.8 853.5L799.2 859.3M797.1 852.7L800.5 858.6M798.4 851.9L801.8 857.8M799.7 851.2L803.1 857M801 850.4L804.4 856.3M802.3 849.7L805.7 855.5M803.6 848.9L807 854.8M804.9 848.1L808.3 854M806.2 847.4L809.6 853.2M807.5 846.6L810.9 852.5M808.8 845.9L812.2 851.7M810.1 845.1L813.5 851M811.4 844.3L814.8 850.2M812.7 843.6L816.1 849.4M814 842.8L817.4 848.7M815.3 842.1L818.7 847.9M816.6 841.3L820 847.2M817.9 840.5L821.3 846.4M819.2 839.8L822.6 845.7M820.5 839L823.9 844.9M821.8 838.3L825.2 844.1M823.1 837.5L826.5 843.4" fill="none" stroke="#8a8a8a" stroke-width="0.54"/>
<path d="M755.5 889.9 L829.8 846.5" fill="none" stroke="#0c0c0c" stroke-width="1.08"/>
<path d="M757.1 892.4 L830.6 849.2" fill="none" stroke="#0c0c0c" stroke-width="0.84"/>
<path d="M755.5 889.1 L774.5 874.6 L783.5 885 L776.9 898.2 L761.3 899.4Z" fill="#e7e7e7" stroke="#0c0c0c" stroke-width="1.56"/>
<ellipse cx="768.4" cy="895.7" rx="1.7" ry="3" transform="rotate(90 768.4 895.7)" fill="#e7e7e7" stroke="#0c0c0c" stroke-width="1.44"/>
<path d="M768.4 893.2 L768.4 895.4" fill="none" stroke="#0c0c0c" stroke-width="1.44"/>
<path d="M761.3 912.2 L783.5 901 L770.3 915.9Z" fill="#e7e7e7" stroke="#0c0c0c" stroke-width="1.56"/>
<ellipse cx="769.5" cy="910.2" rx="1.2" ry="2.2" transform="rotate(90 769.5 910.2)" fill="#e7e7e7" stroke="#0c0c0c" stroke-width="1.2"/>
<path d="M764.6 915.5 L769.5 913.9 L770.3 919.2 L767 918Z" fill="#222" stroke="#0c0c0c" stroke-width="0.72"/>
<path d="M731 888.5L741.5 882.4A11.5 16 -30.2 0 1 757.5 910L747 916.1A11.5 16 -30.2 0 1 731 888.5Z" fill="#e7e7e7" stroke="#0c0c0c" stroke-width="1.32"/>
<ellipse cx="739" cy="902.3" rx="11.5" ry="16" transform="rotate(-30.2 739 902.3)" fill="#e7e7e7" stroke="#0c0c0c" stroke-width="1.32"/>
<path d="M734.1 886.6A11.5 16 -30.2 0 0 750.2 914.3M736.4 885.3A11.5 16 -30.2 0 0 752.5 913M738.7 884A11.5 16 -30.2 0 0 754.7 911.7M740.9 882.7A11.5 16 -30.2 0 0 757 910.3" fill="none" stroke="#0c0c0c" stroke-width="1.08"/>
<ellipse cx="739" cy="902.3" rx="9.5" ry="13.2" transform="rotate(-30 739 902.3)" fill="#e7e7e7" stroke="#0c0c0c" stroke-width="1.32"/>
<path d="M739.5 916.4 C738.2 920.5 737.3 924.6 740.6 926.8" fill="none" stroke="#0c0c0c" stroke-width="1.56"/>
<ellipse cx="741.1" cy="926.3" rx="1.3" ry="1.6" transform="rotate(0 741.1 926.3)" fill="#e7e7e7" stroke="#0c0c0c" stroke-width="1.32"/>
<path d="M753.8 913.9 C752.2 920.5 750.5 927.1 752.2 932" fill="none" stroke="#0c0c0c" stroke-width="1.56"/>
<ellipse cx="752.5" cy="932" rx="1.3" ry="1.6" transform="rotate(0 752.5 932)" fill="#e7e7e7" stroke="#0c0c0c" stroke-width="1.32"/>
<path d="M753 932 L774.5 921.3 L776.1 918" fill="none" stroke="#0c0c0c" stroke-width="1.2"/>
<path d="M763.2 935.7 L772.8 931.2 L774.5 933.7 L766.5 938.3Z" fill="#e7e7e7" stroke="#0c0c0c" stroke-width="1.44"/>
<ellipse cx="764.6" cy="937" rx="1.8" ry="2.2" transform="rotate(0 764.6 937)" fill="#e7e7e7" stroke="#0c0c0c" stroke-width="1.44"/>
<path d="M764.9 939.5 L764.9 945.2" fill="none" stroke="#0c0c0c" stroke-width="1.68"/>
<ellipse cx="765.2" cy="946.9" rx="1.6" ry="2" transform="rotate(0 765.2 946.9)" fill="#e7e7e7" stroke="#0c0c0c" stroke-width="1.92"/>
<path d="M785.2 895.4 L809.9 883.3 L810.4 887.1 L802.5 891.1 L803 905.6 L798.9 907.6 L798.2 893.2 L786 899Z" fill="#1c1c1c" stroke="#0c0c0c" stroke-width="0.72"/>
<path d="M790.1 899.9 L797.6 896.6 L797.9 903.2 L795.1 904.3 L794.8 899 L790.6 901Z" fill="#e7e7e7" stroke="#0c0c0c" stroke-width="0.96"/>
<path d="M809.9 884.2 L810.4 900.7" fill="none" stroke="#0c0c0c" stroke-width="1.2"/>
<ellipse cx="810.4" cy="899" rx="1.4" ry="1.8" transform="rotate(0 810.4 899)" fill="#e7e7e7" stroke="#0c0c0c" stroke-width="1.2"/>
<path d="M821.5 874.3 L832.2 867.3 L833.9 869.3 L833.9 880.9 L825.6 885.8 L822 882.2Z" fill="#e7e7e7" stroke="#0c0c0c" stroke-width="1.44"/>
<path d="M814.1 880.9 L819 878.4 L819.9 884.2 L815.7 885.8Z" fill="#222" stroke="#0c0c0c" stroke-width="0.6"/>
<path d="M825.6 877.6 L825.6 885.8" fill="none" stroke="#0c0c0c" stroke-width="1.2"/>
<path d="M819 882.5 L825.6 885.8" fill="none" stroke="#0c0c0c" stroke-width="1.2"/>
<path d="M791.8 919.2L806.6 913.1" fill="none" stroke="#0c0c0c" stroke-width="4.08" stroke-linecap="round"/>
<path d="M791.8 919.2L806.6 913.1" fill="none" stroke="#e7e7e7" stroke-width="1.8" stroke-linecap="round"/>
<path d="M820.3 905L826.9 901.8" fill="none" stroke="#0c0c0c" stroke-width="3.6" stroke-linecap="round"/>
<path d="M834.4 897.7L841 894.4" fill="none" stroke="#0c0c0c" stroke-width="3.6" stroke-linecap="round"/>
<path d="M780.2 918 C779.4 913.9 782.7 912.2 789.3 909.8" fill="none" stroke="#0c0c0c" stroke-width="1.32"/>
<path d="M847.1 887.1 L853.4 884.2 L853.7 887.1 L847.4 889.9Z" fill="#e7e7e7" stroke="#0c0c0c" stroke-width="1.32"/>
<path d="M812.4 913.9 L809.9 915.5 L809.9 928.7" fill="none" stroke="#0c0c0c" stroke-width="1.08"/>
<ellipse cx="810.8" cy="918" rx="1.3" ry="1.6" transform="rotate(0 810.8 918)" fill="#e7e7e7" stroke="#0c0c0c" stroke-width="1.2"/>
<ellipse cx="843.8" cy="856.1" rx="6" ry="8" transform="rotate(-30 843.8 856.1)" fill="#e7e7e7" stroke="#0c0c0c" stroke-width="1.56"/>
<path d="M841.3 858.1 L843 858.8" fill="none" stroke="#0c0c0c" stroke-width="0.96"/>
<path d="M796.7 921.3 L796.7 937.8" fill="none" stroke="#0c0c0c" stroke-width="0.72" stroke-dasharray="4 2" stroke-opacity="0.8"/>
<path d="M811.1 918.8 L811.1 932" fill="none" stroke="#0c0c0c" stroke-width="0.72" stroke-dasharray="4 2" stroke-opacity="0.8"/>
<path d="M798.2 935.8A0.9 1.7 -24.6 1 1 799.6 938.9A0.9 1.7 -24.6 1 1 798.2 935.8M799.6 935.1A0.9 1.7 -24.6 1 1 801 938.2A0.9 1.7 -24.6 1 1 799.6 935.1M801.1 934.4A0.9 1.7 -24.6 1 1 802.5 937.5A0.9 1.7 -24.6 1 1 801.1 934.4M802.5 933.8A0.9 1.7 -24.6 1 1 803.9 936.9A0.9 1.7 -24.6 1 1 802.5 933.8M804 933.1A0.9 1.7 -24.6 1 1 805.4 936.2A0.9 1.7 -24.6 1 1 804 933.1M805.4 932.5A0.9 1.7 -24.6 1 1 806.8 935.6A0.9 1.7 -24.6 1 1 805.4 932.5M806.8 931.8A0.9 1.7 -24.6 1 1 808.3 934.9A0.9 1.7 -24.6 1 1 806.8 931.8M808.3 931.1A0.9 1.7 -24.6 1 1 809.7 934.2A0.9 1.7 -24.6 1 1 808.3 931.1M809.7 930.5A0.9 1.7 -24.6 1 1 811.2 933.6A0.9 1.7 -24.6 1 1 809.7 930.5" fill="none" stroke="#0c0c0c" stroke-width="0.96"/>
<path d="M807.5 937.8 L816.6 943.6" fill="none" stroke="#0c0c0c" stroke-width="1.2"/>
<text transform="translate(818.4 951.9) scale(0.93 1)" font-size="9.4" font-weight="bold" text-anchor="middle">59</text>
<ellipse cx="764.9" cy="855.3" rx="1.9" ry="2.5" transform="rotate(-30 764.9 855.3)" fill="#333" stroke="#0c0c0c" stroke-width="1.92"/>
<ellipse cx="771.5" cy="858.1" rx="1.6" ry="2.1" transform="rotate(-30 771.5 858.1)" fill="#e7e7e7" stroke="#0c0c0c" stroke-width="1.8"/>
<path d="M751.4 863.5 L762.6 856.9" fill="none" stroke="#0c0c0c" stroke-width="1.2"/>
<text transform="translate(746.2 872) scale(0.93 1)" font-size="9.4" font-weight="bold" text-anchor="middle">55</text>
<path d="M786 843.7 L772.8 856.9" fill="none" stroke="#0c0c0c" stroke-width="1.2"/>
<text transform="translate(787.5 841.4) scale(0.93 1)" font-size="9.4" font-weight="bold" text-anchor="middle">26</text>
<path d="M861.1 891.6 C868.5 884.2 878.4 889.1 880.9 877.6 C882.6 870.1 888.3 871 893.3 869.3" fill="none" stroke="#0c0c0c" stroke-width="2.28"/>
<path d="M861.1 891.6 C857.8 889.1 861.9 885.8 866.1 885.8" fill="none" stroke="#0c0c0c" stroke-width="1.8"/>
<path d="M901.2 856.9 L891.6 869.3" fill="none" stroke="#0c0c0c" stroke-width="1.2"/>
<text transform="translate(903.6 855.8) scale(0.93 1)" font-size="9.4" font-weight="bold" text-anchor="middle">118</text>
<path d="M858.6 905.6 L865.2 897.7 L873.5 892.4 L886.7 894.9 L906.5 883.3 L917.2 882.5 L920.5 886.6 L921.4 899 L913.9 907.3 L908.1 905.6 L906.5 899 L903.2 898.5 L873.5 915.5 L861.1 916.4Z" fill="#e7e7e7" stroke="#0c0c0c" stroke-width="1.56"/>
<path d="M870.5 910.2 C869.4 905.6 876.8 899 882.6 901 C882.6 905.6 876 911.4 870.5 910.2Z" fill="#e7e7e7" stroke="#0c0c0c" stroke-width="1.8"/>
<path d="M872.7 908.1 L880.9 902.3" fill="none" stroke="#0c0c0c" stroke-width="2.64"/>
<circle cx="864.4" cy="910.1" r="1.2" fill="#e7e7e7" stroke="#0c0c0c" stroke-width="1.2"/>
<circle cx="889.2" cy="899.9" r="1.2" fill="#e7e7e7" stroke="#0c0c0c" stroke-width="1.2"/>
<circle cx="908.1" cy="889.9" r="1.2" fill="#e7e7e7" stroke="#0c0c0c" stroke-width="1.2"/>
<ellipse cx="914.8" cy="899.9" rx="2.1" ry="2.6" transform="rotate(-30 914.8 899.9)" fill="#e7e7e7" stroke="#0c0c0c" stroke-width="1.56"/>
<path d="M907.3 898.7 C905.7 902.3 907.3 906.5 910.6 907.3" fill="none" stroke="#0c0c0c" stroke-width="2.88"/>
<path d="M916.7 864.7 L914.8 885" fill="none" stroke="#0c0c0c" stroke-width="1.2"/>
<text transform="translate(919 864.2) scale(0.93 1)" font-size="9.4" font-weight="bold" text-anchor="middle">117</text>
<ellipse cx="893.3" cy="929.6" rx="5.6" ry="7.5" transform="rotate(-30 893.3 929.6)" fill="#e7e7e7" stroke="#0c0c0c" stroke-width="1.56"/>
<ellipse cx="893" cy="929.9" rx="1.5" ry="2" transform="rotate(-30 893 929.9)" fill="#e7e7e7" stroke="#0c0c0c" stroke-width="1.2"/>
<path d="M909.5 921.8 L897.4 927.4" fill="none" stroke="#0c0c0c" stroke-width="1.2"/>
<text transform="translate(916.6 919.9) scale(0.93 1)" font-size="9.4" font-weight="bold" text-anchor="middle">120</text>
<path d="M846.4 924.1L851 926.9A0.6 1.2 31.3 0 1 849.8 928.9L845.1 926.1A0.6 1.2 31.3 0 1 846.4 924.1Z" fill="#e7e7e7" stroke="#0c0c0c" stroke-width="1.2"/>
<ellipse cx="845.8" cy="925.1" rx="0.6" ry="1.2" transform="rotate(31.3 845.8 925.1)" fill="#e7e7e7" stroke="#0c0c0c" stroke-width="1.2"/>
<path d="M851.6 925.8L856.8 928.8A1.4 2.4 29.4 0 1 854.5 933L849.2 930A1.4 2.4 29.4 0 1 851.6 925.8Z" fill="#e7e7e7" stroke="#0c0c0c" stroke-width="1.32"/>
<ellipse cx="850.4" cy="927.9" rx="1.4" ry="2.4" transform="rotate(29.4 850.4 927.9)" fill="#e7e7e7" stroke="#0c0c0c" stroke-width="1.32"/>
<path d="M859.2 938.5L854.3 935.5A2.8 4.6 -149 0 1 859 927.6L864 930.6A2.8 4.6 -149 0 1 859.2 938.5Z" fill="#e7e7e7" stroke="#0c0c0c" stroke-width="1.44"/>
<ellipse cx="861.6" cy="934.5" rx="2.8" ry="4.6" transform="rotate(-149 861.6 934.5)" fill="#e7e7e7" stroke="#0c0c0c" stroke-width="1.44"/>
<path d="M859.3 928L854.7 935.5M860.7 928.8L856.1 936.3M862.2 929.7L857.5 937.2M863.6 930.6L859 938.1" fill="none" stroke="#0c0c0c" stroke-width="0.72"/>
<path d="M863.3 936.2 L872.7 945.2" fill="none" stroke="#0c0c0c" stroke-width="1.2"/>
<text transform="translate(874.8 954.3) scale(0.93 1)" font-size="9.4" font-weight="bold" text-anchor="middle">119</text>
<path d="M859.5 861.1 L859.5 875.1 L888.3 861.9 L913.9 876.7" fill="none" stroke="#0c0c0c" stroke-width="0.84" stroke-dasharray="8 2" stroke-opacity="0.8"/>
<path d="M812.4 881.7 L825.6 889.9 L848.7 877.6 L857 876.7" fill="none" stroke="#0c0c0c" stroke-width="0.84" stroke-dasharray="8 2" stroke-opacity="0.8"/>
<path d="M825.6 889.9 L847.1 903.2 L857 897.4 L863.6 899" fill="none" stroke="#0c0c0c" stroke-width="0.84" stroke-dasharray="8 2" stroke-opacity="0.8"/>
<path d="M837.5 918.8 L847.1 913.9 L885 935.3" fill="none" stroke="#0c0c0c" stroke-width="0.84" stroke-dasharray="8 2" stroke-opacity="0.8"/>
<path d="M876 908.1 L889.2 914.7 L880.9 919.7 L880.9 923.5 L907.3 937.8 L897.4 943.3 L885 935.3" fill="none" stroke="#0c0c0c" stroke-width="0.84" stroke-dasharray="8 2" stroke-opacity="0.8"/>
</g>
</svg>
</body></html>
